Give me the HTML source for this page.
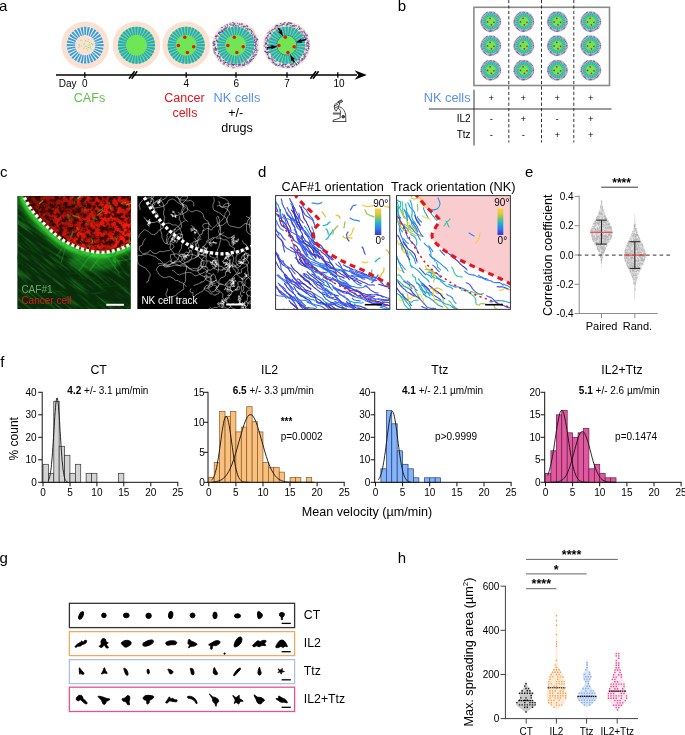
<!DOCTYPE html>
<html><head><meta charset="utf-8"><title>Figure</title>
<style>
html,body{margin:0;padding:0;background:#fff;overflow:hidden}
svg{display:block}
text{font-family:"Liberation Sans",sans-serif}
</style></head><body>
<svg width="685" height="735" viewBox="0 0 685 735" style="will-change:transform">
<rect width="685" height="735" fill="#fff"/>
<defs>
<filter id="bl1" x="-20%" y="-20%" width="140%" height="140%"><feGaussianBlur stdDeviation="0.6"/></filter>

<filter id="bl07" x="-5%" y="-5%" width="110%" height="110%"><feGaussianBlur stdDeviation="0.6"/></filter>
<filter id="bl15" x="-20%" y="-20%" width="140%" height="140%"><feGaussianBlur stdDeviation="1.4"/></filter>
<filter id="bl2" x="-20%" y="-20%" width="140%" height="140%"><feGaussianBlur stdDeviation="2.2"/></filter>
<filter id="bl4" x="-20%" y="-20%" width="140%" height="140%"><feGaussianBlur stdDeviation="5"/></filter>
<filter id="rnoise" x="0" y="0" width="100%" height="100%" color-interpolation-filters="sRGB">
<feTurbulence type="fractalNoise" baseFrequency="0.22" numOctaves="3" seed="7"/>
<feColorMatrix type="matrix" values="0 0 0 0 1  0 0 0 0 1  0 0 0 0 1  4.2 0 0 0 -1.5"/>
<feComposite in="SourceGraphic" operator="in"/>
</filter>
<filter id="gstreak" x="0" y="0" width="100%" height="100%" color-interpolation-filters="sRGB">
<feTurbulence type="fractalNoise" baseFrequency="0.035 0.4" numOctaves="2" seed="3"/>
<feColorMatrix type="matrix" values="0 0 0 0 1  0 0 0 0 1  0 0 0 0 1  0 3.0 0 0 -1.45"/>
<feComposite in="SourceGraphic" operator="in"/>
</filter>
<filter id="rnoise2" x="0" y="0" width="100%" height="100%" color-interpolation-filters="sRGB">
<feTurbulence type="fractalNoise" baseFrequency="0.06" numOctaves="2" seed="11"/>
<feColorMatrix type="matrix" values="0 0 0 0 1  0 0 0 0 1  0 0 0 0 1  0 3 0 0 -1.15"/>
<feComposite in="SourceGraphic" operator="in"/>
</filter>
<linearGradient id="rdark" x1="0" y1="0" x2="1" y2="0.25"><stop offset="0" stop-color="#1a0602" stop-opacity="0.55"/><stop offset="0.45" stop-color="#1a0602" stop-opacity="0.2"/><stop offset="0.8" stop-color="#1a0602" stop-opacity="0"/></linearGradient>
</defs>
<g id="panel_a">
<text x="-1.1" y="11.1" font-size="15">a</text>
<circle cx="85.2" cy="45.2" r="23.8" fill="#fae1d2"/><path d="M95.28 44.59L103.57 44.09L103.57 46.31L95.28 45.81ZM95.21 46.57L103.43 47.7L103 49.87L94.97 47.76ZM94.75 48.5L102.59 51.21L101.74 53.25L94.28 49.62ZM93.92 50.3L101.09 54.48L99.86 56.32L93.24 51.31ZM92.76 51.9L98.97 57.4L97.4 58.97L91.9 52.76ZM91.31 53.24L96.32 59.86L94.48 61.09L90.3 53.92ZM89.62 54.28L93.25 61.74L91.21 62.59L88.5 54.75ZM87.76 54.97L89.87 63L87.7 63.43L86.57 55.21ZM85.81 55.28L86.31 63.57L84.09 63.57L84.59 55.28ZM83.83 55.21L82.7 63.43L80.53 63L82.64 54.97ZM81.9 54.75L79.19 62.59L77.15 61.74L80.78 54.28ZM80.1 53.92L75.92 61.09L74.08 59.86L79.09 53.24ZM78.5 52.76L73 58.97L71.43 57.4L77.64 51.9ZM77.16 51.31L70.54 56.32L69.31 54.48L76.48 50.3ZM76.12 49.62L68.66 53.25L67.81 51.21L75.65 48.5ZM75.43 47.76L67.4 49.87L66.97 47.7L75.19 46.57ZM75.12 45.81L66.83 46.31L66.83 44.09L75.12 44.59ZM75.19 43.83L66.97 42.7L67.4 40.53L75.43 42.64ZM75.65 41.9L67.81 39.19L68.66 37.15L76.12 40.78ZM76.48 40.1L69.31 35.92L70.54 34.08L77.16 39.09ZM77.64 38.5L71.43 33L73 31.43L78.5 37.64ZM79.09 37.16L74.08 30.54L75.92 29.31L80.1 36.48ZM80.78 36.12L77.15 28.66L79.19 27.81L81.9 35.65ZM82.64 35.43L80.53 27.4L82.7 26.97L83.83 35.19ZM84.59 35.12L84.09 26.83L86.31 26.83L85.81 35.12ZM86.57 35.19L87.7 26.97L89.87 27.4L87.76 35.43ZM88.5 35.65L91.21 27.81L93.25 28.66L89.62 36.12ZM90.3 36.48L94.48 29.31L96.32 30.54L91.31 37.16ZM91.9 37.64L97.4 31.43L98.97 33L92.76 38.5ZM93.24 39.09L99.86 34.08L101.09 35.92L93.92 40.1ZM94.28 40.78L101.74 37.15L102.59 39.19L94.75 41.9ZM94.97 42.64L103 40.53L103.43 42.7L95.21 43.83Z" fill="#2e9fe3"/><path d="M79.77 46.88h0M89.81 42.82h0M79.38 44.91h0M87.37 50.19h0M80.56 40.27h0M88.68 47.53h0M90.96 48.89h0M84.66 43.74h0M92.62 44.37h0M81.82 40.29h0M85.71 45.98h0M83.37 44.87h0M86.57 48.68h0M90.28 46.17h0M78.71 47.75h0M79.16 44.47h0M79.01 45.21h0M81.33 46.26h0M92.78 45.09h0M88.63 39.81h0M83.75 48.54h0M84.71 47.15h0M85.69 40.42h0M87.89 41.32h0M91.95 43.38h0M88.68 45.21h0M89.6 42.42h0M89.95 44.61h0M90.61 47.87h0M85.9 41.32h0M88.94 47.48h0M91.65 43.72h0M87.98 47.75h0M86.7 46.3h0" stroke="#7ddc5a" stroke-width="0.8" stroke-linecap="round" fill="none"/>
<circle cx="136.5" cy="45.2" r="23.8" fill="#fae1d2"/><circle cx="136.5" cy="45.2" r="18.5" fill="#6fe653"/><path d="M146.78 44.58L155.07 44.08L155.07 46.32L146.78 45.82ZM146.7 46.6L154.93 47.72L154.49 49.92L146.46 47.81ZM146.24 48.56L154.08 51.27L153.22 53.34L145.76 49.71ZM145.39 50.4L152.56 54.58L151.32 56.45L144.7 51.43ZM144.21 52.03L150.42 57.54L148.84 59.12L143.33 52.91ZM142.73 53.4L147.75 60.02L145.88 61.26L141.7 54.09ZM141.01 54.46L144.64 61.92L142.57 62.78L139.86 54.94ZM139.11 55.16L141.22 63.19L139.02 63.63L137.9 55.4ZM137.12 55.48L137.62 63.77L135.38 63.77L135.88 55.48ZM135.1 55.4L133.98 63.63L131.78 63.19L133.89 55.16ZM133.14 54.94L130.43 62.78L128.36 61.92L131.99 54.46ZM131.3 54.09L127.12 61.26L125.25 60.02L130.27 53.4ZM129.67 52.91L124.16 59.12L122.58 57.54L128.79 52.03ZM128.3 51.43L121.68 56.45L120.44 54.58L127.61 50.4ZM127.24 49.71L119.78 53.34L118.92 51.27L126.76 48.56ZM126.54 47.81L118.51 49.92L118.07 47.72L126.3 46.6ZM126.22 45.82L117.93 46.32L117.93 44.08L126.22 44.58ZM126.3 43.8L118.07 42.68L118.51 40.48L126.54 42.59ZM126.76 41.84L118.92 39.13L119.78 37.06L127.24 40.69ZM127.61 40L120.44 35.82L121.68 33.95L128.3 38.97ZM128.79 38.37L122.58 32.86L124.16 31.28L129.67 37.49ZM130.27 37L125.25 30.38L127.12 29.14L131.3 36.31ZM131.99 35.94L128.36 28.48L130.43 27.62L133.14 35.46ZM133.89 35.24L131.78 27.21L133.98 26.77L135.1 35ZM135.88 34.92L135.38 26.63L137.62 26.63L137.12 34.92ZM137.9 35L139.02 26.77L141.22 27.21L139.11 35.24ZM139.86 35.46L142.57 27.62L144.64 28.48L141.01 35.94ZM141.7 36.31L145.88 29.14L147.75 30.38L142.73 37ZM143.33 37.49L148.84 31.28L150.42 32.86L144.21 38.37ZM144.7 38.97L151.32 33.95L152.56 35.82L145.39 40ZM145.76 40.69L153.22 37.06L154.08 39.13L146.24 41.84ZM146.46 42.59L154.49 40.48L154.93 42.68L146.7 43.8Z" fill="#2e9fe3"/><circle cx="136.5" cy="45.2" r="10.3" fill="#6fe653"/>
<circle cx="186.2" cy="45.2" r="23.8" fill="#fae1d2"/><circle cx="186.2" cy="45.2" r="18.5" fill="#6fe653"/><path d="M196.48 44.58L204.77 44.08L204.77 46.32L196.48 45.82ZM196.4 46.6L204.63 47.72L204.19 49.92L196.16 47.81ZM195.94 48.56L203.78 51.27L202.92 53.34L195.46 49.71ZM195.09 50.4L202.26 54.58L201.02 56.45L194.4 51.43ZM193.91 52.03L200.12 57.54L198.54 59.12L193.03 52.91ZM192.43 53.4L197.45 60.02L195.58 61.26L191.4 54.09ZM190.71 54.46L194.34 61.92L192.27 62.78L189.56 54.94ZM188.81 55.16L190.92 63.19L188.72 63.63L187.6 55.4ZM186.82 55.48L187.32 63.77L185.08 63.77L185.58 55.48ZM184.8 55.4L183.68 63.63L181.48 63.19L183.59 55.16ZM182.84 54.94L180.13 62.78L178.06 61.92L181.69 54.46ZM181 54.09L176.82 61.26L174.95 60.02L179.97 53.4ZM179.37 52.91L173.86 59.12L172.28 57.54L178.49 52.03ZM178 51.43L171.38 56.45L170.14 54.58L177.31 50.4ZM176.94 49.71L169.48 53.34L168.62 51.27L176.46 48.56ZM176.24 47.81L168.21 49.92L167.77 47.72L176 46.6ZM175.92 45.82L167.63 46.32L167.63 44.08L175.92 44.58ZM176 43.8L167.77 42.68L168.21 40.48L176.24 42.59ZM176.46 41.84L168.62 39.13L169.48 37.06L176.94 40.69ZM177.31 40L170.14 35.82L171.38 33.95L178 38.97ZM178.49 38.37L172.28 32.86L173.86 31.28L179.37 37.49ZM179.97 37L174.95 30.38L176.82 29.14L181 36.31ZM181.69 35.94L178.06 28.48L180.13 27.62L182.84 35.46ZM183.59 35.24L181.48 27.21L183.68 26.77L184.8 35ZM185.58 34.92L185.08 26.63L187.32 26.63L186.82 34.92ZM187.6 35L188.72 26.77L190.92 27.21L188.81 35.24ZM189.56 35.46L192.27 27.62L194.34 28.48L190.71 35.94ZM191.4 36.31L195.58 29.14L197.45 30.38L192.43 37ZM193.03 37.49L198.54 31.28L200.12 32.86L193.91 38.37ZM194.4 38.97L201.02 33.95L202.26 35.82L195.09 40ZM195.46 40.69L202.92 37.06L203.78 39.13L195.94 41.84ZM196.16 42.59L204.19 40.48L204.63 42.68L196.4 43.8Z" fill="#2e9fe3"/><circle cx="186.2" cy="45.2" r="10.3" fill="#6fe653"/><circle cx="184.8" cy="37.3" r="1.75" fill="#e8141c"/><circle cx="178.4" cy="45.5" r="1.75" fill="#e8141c"/><circle cx="193.7" cy="46.7" r="1.75" fill="#e8141c"/><circle cx="187.4" cy="52.4" r="1.75" fill="#e8141c"/>
<circle cx="235.7" cy="45.2" r="23.8" fill="#fae1d2"/><circle cx="235.7" cy="45.2" r="18.5" fill="#6fe653"/><path d="M245.98 44.58L254.27 44.08L254.27 46.32L245.98 45.82ZM245.9 46.6L254.13 47.72L253.69 49.92L245.66 47.81ZM245.44 48.56L253.28 51.27L252.42 53.34L244.96 49.71ZM244.59 50.4L251.76 54.58L250.52 56.45L243.9 51.43ZM243.41 52.03L249.62 57.54L248.04 59.12L242.53 52.91ZM241.93 53.4L246.95 60.02L245.08 61.26L240.9 54.09ZM240.21 54.46L243.84 61.92L241.77 62.78L239.06 54.94ZM238.31 55.16L240.42 63.19L238.22 63.63L237.1 55.4ZM236.32 55.48L236.82 63.77L234.58 63.77L235.08 55.48ZM234.3 55.4L233.18 63.63L230.98 63.19L233.09 55.16ZM232.34 54.94L229.63 62.78L227.56 61.92L231.19 54.46ZM230.5 54.09L226.32 61.26L224.45 60.02L229.47 53.4ZM228.87 52.91L223.36 59.12L221.78 57.54L227.99 52.03ZM227.5 51.43L220.88 56.45L219.64 54.58L226.81 50.4ZM226.44 49.71L218.98 53.34L218.12 51.27L225.96 48.56ZM225.74 47.81L217.71 49.92L217.27 47.72L225.5 46.6ZM225.42 45.82L217.13 46.32L217.13 44.08L225.42 44.58ZM225.5 43.8L217.27 42.68L217.71 40.48L225.74 42.59ZM225.96 41.84L218.12 39.13L218.98 37.06L226.44 40.69ZM226.81 40L219.64 35.82L220.88 33.95L227.5 38.97ZM227.99 38.37L221.78 32.86L223.36 31.28L228.87 37.49ZM229.47 37L224.45 30.38L226.32 29.14L230.5 36.31ZM231.19 35.94L227.56 28.48L229.63 27.62L232.34 35.46ZM233.09 35.24L230.98 27.21L233.18 26.77L234.3 35ZM235.08 34.92L234.58 26.63L236.82 26.63L236.32 34.92ZM237.1 35L238.22 26.77L240.42 27.21L238.31 35.24ZM239.06 35.46L241.77 27.62L243.84 28.48L240.21 35.94ZM240.9 36.31L245.08 29.14L246.95 30.38L241.93 37ZM242.53 37.49L248.04 31.28L249.62 32.86L243.41 38.37ZM243.9 38.97L250.52 33.95L251.76 35.82L244.59 40ZM244.96 40.69L252.42 37.06L253.28 39.13L245.44 41.84ZM245.66 42.59L253.69 40.48L254.13 42.68L245.9 43.8Z" fill="#2e9fe3"/><circle cx="235.7" cy="45.2" r="10.3" fill="#6fe653"/><path d="M255.1 45.4Q255.7 45.9 254.5 45.4Q254.3 46.3 254.6 45.5Q255.8 45.5 255.2 45.1Q255.2 45.4 256.3 44M256.8 46Q256.9 46.2 257.9 45.4Q256.9 44.5 257.5 45M255.4 46.7Q254.5 47 255.1 47Q255.2 46.8 255.8 46.2Q255.8 46.3 255.4 45.6Q255.1 46.1 254.6 45.9M256.3 47.4Q255.4 47.8 256.1 46.6Q255.4 47.4 255.6 47M255.4 48.2Q255.2 48.7 256.4 49.2Q255.8 48.9 256.7 49.5M257.1 49.5Q256.1 48.8 256.6 49.4Q255.8 49.2 256.3 49.5M257.9 50.5Q258.6 50.6 257.6 50.4Q257.1 50.1 257 50.5Q255.8 49.8 256 50.7Q255 50.2 255.6 49.9M254 50Q255.1 49.3 254.5 49.1Q254 49.8 255 49.2Q255.5 47.8 256 48.1Q255.3 47.2 256.4 47.9M254.1 50.6Q254.3 51.2 255 51.1Q255.7 50.3 255.1 50.9Q255.6 50.4 255.7 49.9M256.2 52.1Q256.5 53 256.8 52.5Q256.9 52.1 256.5 51.7Q257.6 51.5 257.1 51.3M254.8 52.4Q255 53.1 254.1 52.3Q254.7 51.8 255 52Q255.2 52.6 254.2 52M256.5 54.3Q256.2 55.3 256.1 54.8Q255.9 55.2 255.6 55Q255.7 54.4 255.3 54.5M253.6 53.9Q253.2 53.8 252.6 54.4Q252.2 53.7 253.2 53.3Q253 52.4 253.8 52.9Q253.2 53.2 252.8 53.1M255.2 55.5Q255.4 54.6 255.6 54.8Q255.5 54.2 254.6 54.8M253.3 55.1Q254.7 54.4 254.3 55.1Q254.2 55.1 255 55.5Q255.4 54.8 255.9 55.2Q256.4 55 256.7 54.2M254.5 56.9Q254 57.4 254.4 57.2Q254.6 56.6 254 57Q254.6 56.8 253.5 56.4M252.2 56.5Q251.9 56.2 253 56.2Q253.1 55.6 253.1 56.8Q254 55.7 253.8 55.8Q253 55.5 253.5 56.4M253.3 58Q253.5 59.3 253.7 59Q253.3 58.3 252.8 58.4Q253.1 59.1 253.3 58.7Q253.1 59.1 253.4 58.2M251 57.5Q251.6 57 252 57.5Q252.2 56.7 252.1 57.5M251.4 58.9Q250.8 58.7 251.5 60Q251.1 61.2 250.8 60.9Q250.7 60.8 251.5 60.7M252.4 60.3Q252.3 59 252.4 59.4Q253 58.8 251.9 59.9Q251.1 59.7 251.2 58.8M250.6 59.7Q250.9 58.8 251.2 58.8Q250.7 58.6 250.5 58.9Q249.8 58.4 250.3 59M250.3 60.8Q250.2 60.2 249.7 60.9Q249.9 60.5 250.6 61.2Q250.2 62.1 250.8 62Q251.2 60.9 250.2 61.1M249.3 60.3Q250.2 59.6 250 60.1Q249.1 59.8 249.8 60.5Q250.9 60.3 250.2 61.4M249.5 62.2Q249.7 61.9 248.9 61.7Q248.5 62.7 247.8 62.3Q247.1 61.4 247.8 61.6Q247.7 61.5 247 61.1M248.9 62.3Q249.1 62.1 249.5 61.9Q248.5 62.4 249.3 62.1M246.7 61.3Q247.3 61.3 246.4 61Q245.6 60.6 245.5 61.6Q246.6 62.8 246.2 62.4M246.2 61.6Q246.3 62.7 247.3 62.3Q248.1 62.4 247.8 62.9Q248.6 63.8 248.7 63.7Q249.4 62.9 249.3 63.5M246.3 62.9Q247.5 62.7 247.2 64Q246.6 64 246.7 65M245.1 62.3Q245.2 63.2 244.8 63.4Q244.2 64.1 245.4 64.4M244.4 63Q244.7 62.4 244.4 63.5Q243.8 63.4 243.9 63Q244.4 62.3 243.7 63.1M244.6 64.7Q243.8 65.7 244.8 65.3Q243.8 65.2 244 65.2Q244.9 64.6 244.3 64.2Q244.1 63.9 244.3 64.4M243.6 64.7Q242.9 65.5 243.9 65.3Q243.9 65.7 244.1 65.6Q243.5 65.5 243.1 65.2M242.5 64.1Q243.2 63.6 242.3 64Q242.7 64.4 242.4 65M242.2 66.3Q242.3 65.2 242.7 65.4Q242.5 64.9 243.5 65Q243.3 65.2 242.7 64.9Q243.3 65.3 243.1 64.6M241.4 64.3Q241.8 64.4 240.8 63.4Q240.5 63.6 241.1 63.1M240.7 65.8Q241.3 65.5 240.2 65.2Q240.7 65.1 240.6 64.5Q239.2 63.4 239.5 64Q240.1 64.9 239.8 64.3M239.9 64.4Q239.6 64.3 239.8 64.1Q240 64.4 239 64.9Q239.9 65.2 239.7 65.7M238.9 65.3Q239.7 65.1 238.6 65.6Q239.4 65.8 238.7 66.2M238.2 64.1Q238.6 64.4 238.8 64.7Q239.5 63.7 239.2 64.2Q238.1 64.1 238.6 64.6M237.6 66.7Q238.3 66.1 238.4 66.1Q238.7 66.1 239.3 65.7Q239.3 66 240.2 66.1M236.5 65.8Q237.1 65.8 236.3 66.8Q235.9 66.4 236 66.5M236.1 64.7Q235.4 64.8 235.8 64.5Q236 65.4 236.3 65Q235.8 64.1 236.9 64.4Q237.7 64.6 237.2 65M235.3 65.2Q235.3 65.4 234.4 64.3Q233.3 64.8 233.5 64.6Q233.1 64.8 233.8 64Q233.6 64 233.8 64.6M234.2 66.7Q233.4 67.2 234.2 67.3Q234.6 67.4 233.2 67.9Q231.9 67.7 232.1 67.6M233.9 63.9Q234 64.1 234.4 64.6Q234.9 64.6 233.6 65.1Q233.1 64.4 232.9 64.5M233 64Q232.2 64.8 232.7 64.2Q232.3 64.5 233.6 64.8Q233.4 64.3 234.3 64.4M232.1 66.1Q231.7 65.4 232.3 65.5Q231.6 65.9 231.6 66.1Q231.5 66.8 232.3 66M231.4 64.9Q232.3 64.2 232 64Q232.7 65.1 232.4 64.5Q233.2 64 233 65.1Q234.2 66.2 233.9 65.9M231 64.4Q230.5 63.7 231.3 63.6Q231 64.3 230.7 64.4Q231.3 63.5 231.8 63.9M230.4 63.2Q229.8 63.8 230 63.7Q229.5 64.5 229.1 63.7M228.8 66.4Q227.7 66.4 227.7 65.7Q227.2 65.5 228.3 65.6Q229.1 65.7 228.3 66.6M228.5 65Q227.9 63.9 228.9 64Q229.5 64.7 229.3 64.4Q229.5 64.7 228.4 64.3M228.2 63.7Q229 63.7 228.1 62.6Q227.4 62.5 227.4 62.8M227.5 63.4Q227 62.9 228 63.5Q227.5 62.7 227.7 62.6Q227.6 62.6 227.7 62.9M226.4 64.4Q226 64.4 226.8 64.8Q226.4 64.5 227.6 65M226.7 62.2Q227.1 63 226.3 62.4Q225.3 62.4 225.5 61.7Q225.7 62.6 225.5 62.7M225.4 62.4Q224.7 62.2 225.8 62.6Q224.9 62.6 225.4 63M223.8 63.7Q224.4 64 224 62.9Q224.1 62.1 224.1 62.6M222.5 63.8Q223.8 64.2 223.6 64.3Q224.4 63.5 224.2 64.1Q223.9 63.3 224.2 63.9Q225.3 63.6 225 63.4M223.7 60.8Q223.9 60.5 223.8 61Q224.8 61.7 224.7 62.1Q223.9 63.1 223.9 62.8Q224.2 62.3 223.3 62.9M223.7 59.9Q224.3 61.1 223.5 60.5Q223.7 61.6 222.7 61.1M221.5 61.2Q220.3 61.2 220.8 61Q220.1 60.3 219.9 60.8M220.3 61.7Q220.7 60.6 220.6 60.7Q221 60.7 221.6 60.9M220.2 60.3Q221.4 60.9 220.8 60.2Q221.1 60.3 221.6 60Q222.1 59.9 222.5 60.1M220.7 58.5Q220.4 58.4 220.3 58.8Q220.8 59.8 219.9 59.4M218.8 59.7Q218 59.9 218.8 59.5Q218.5 59 218.9 58.9M220.9 57Q221.2 56.8 220.2 56.8Q220.5 57.1 219.8 57.2Q220.1 56.8 219.3 57.7Q218.4 57.8 219.4 58.7M219.5 57.1Q219.5 56.4 219.4 57Q219.3 56.6 219.8 56.4M219.1 56.5Q219.5 56.5 220.1 57.5Q220.6 57.4 219.6 58.5M218.4 55.7Q218.3 55.9 217.4 56Q218.2 56.5 217.4 55.4Q218.2 56 217.8 54.9M218 55.4Q218.3 55.8 217.6 56.4Q216.6 57.2 216.9 57.2M216.5 55.4Q216.5 56 216.9 56Q216.8 55.8 217.7 56.2Q217.8 56.6 218.7 56.6Q218.1 57.2 217.7 57.6M218.6 53.3Q218.6 53.5 218.8 53.4Q217.9 53.3 218.1 54.4Q218.9 53.3 218.6 53.4Q219.1 53.5 218.1 53.2M215.2 54.4Q215.7 54.1 215.6 54.3Q215.8 54.6 216 54.9M215.5 52.8Q215.9 53.3 216 52.9Q215.9 52.9 215.2 52.7Q215.3 52.5 214.7 53.2Q214.9 53.1 214.7 54M214.2 52.8Q213.6 52 214.1 52.3Q214.3 52.2 214.8 52.3M214.6 51.8Q214.5 51.6 213.8 51.1Q213.2 51.1 214.3 51.3M214.3 50.7Q214.4 49.7 214.3 50.2Q214.2 49.2 215 49.5Q215.7 49.1 215.4 50.2Q214.8 50.9 215.2 49.9M215.5 50Q216 50.1 216.6 49.3Q216.8 48.3 215.6 48.7Q215.3 47.7 215.3 48.2Q215.3 49.2 214.3 49.3M216.3 49Q215.9 48.4 217.1 48.8Q217.6 48.8 216.7 49.8Q217.2 50.3 215.9 50Q216.7 51.2 216.1 50.9M213.7 48.7Q213 48.7 213.4 49.3Q213 48.7 213.8 49.3M215.2 47.7Q215.4 47.1 215.1 47.6Q215 46.9 215.1 47.7Q215.1 48.3 214.6 48.7M214.9 46.6Q214.9 46.6 215.8 47.1Q215.2 48 215.1 48Q214.4 48.2 215.6 48.9Q216.1 48.1 215.3 48M214.8 45.8Q214.6 45.4 214.4 46Q213.9 45.5 214.4 45.2M214.1 45.2Q214.7 45.2 214.5 44.7Q213.8 44.7 213.8 44Q214.3 43.4 213.6 43.8Q212.8 42.8 213.1 43.4M214.4 44.7Q214.3 45.3 213.3 45.3Q213.7 44.8 213.9 44.8Q213.2 45.6 213 45.4Q212.5 45.2 213.3 45M213.2 43.5Q212.5 43.1 213.1 43.1Q213.4 42.2 213.1 42.3Q213.2 41.8 213.6 42.5M214.2 42.8Q214.7 42.5 213.8 43.7Q213.8 43.9 214.7 44.6Q215.4 45 215.4 44.1Q214.6 43.4 214.5 43.1M213.8 42.1Q213.7 42.7 214.1 41.8Q213.1 41.3 213.1 42.3M215 41.6Q215.5 42.1 214.8 41.1Q213.9 40.9 214.6 42Q214.3 42.7 214.6 41.6Q213.7 41.6 213.8 40.9M217.4 41.2Q217.2 42.2 216.8 41.9Q217.7 42.1 217.4 41Q216.8 40.1 217.1 40.6Q216.1 40.7 216.1 41.2M216.8 40.4Q216.4 40.6 216 40.7Q216.3 40.5 215.8 40.2M216.8 39.6Q217.4 40.7 217.2 40.5Q217.6 40 216.6 40.1Q217.3 39.3 217.3 40.1M216.4 38.5Q215.9 38.7 215.4 37.9Q214.9 38.5 215.2 38.4Q215.5 38.8 214.8 38M216.1 37.4Q216.7 36.6 216.4 36.6Q216.3 35.9 215.7 35.9Q215.8 36.8 216 37M215 36.1Q215.5 35.8 215.4 35.9Q215.1 36.8 216.4 37Q215.6 36.9 215.6 36M218.5 36.7Q218.8 35.9 217.9 36.3Q218.1 36.5 217 36.1Q216.5 35.7 216.4 36.6M216.6 35.2Q216 34.9 216.7 35.9Q215.8 36.3 215.9 36.8M218.2 35.5Q217.5 35.4 217.7 35.6Q216.9 35.3 217.3 34.7M219.3 35Q219 34.2 220.1 34.6Q219.6 34.9 220.2 33.9M218.7 33.8Q218.7 33.6 218.5 32.8Q219.4 33.3 218.8 32.3Q219.9 32.7 219.9 32.2Q218.9 31 219.1 31.2M219.2 33.5Q218.1 33 218.8 33.6Q219.3 33.6 219.8 32.5Q219.9 33.3 220.4 33Q221.1 32.1 220 32.6M219.8 32.4Q219.9 32 219.6 33.3Q219.6 33.1 218.8 32.9Q218.8 33.3 218.3 34Q218.4 33.7 217.9 33M220.7 32.6Q220.4 33.2 220 33.2Q219 32.5 219.3 32.3M221.8 32.6Q222.1 32.8 220.8 31.7Q220.5 30.4 221.4 30.7Q221.2 30.7 221.6 30.8Q222.6 31.5 222.6 30.8M222.3 31.8Q221.4 31.6 221.7 32Q222.5 31.4 222.8 31.2Q223.1 31.6 223.1 30.6M221.2 29.5Q221 30.4 222.2 30.5Q222.4 31 222.8 30.3Q222.8 29.4 222.8 30.1Q223.1 29.7 223.7 30.1M223 31.1Q223.5 31.5 222.3 31.1Q222.9 31.2 221.8 31.6Q223.1 31.2 222.6 30.8M221.5 28.1Q221.1 27 222.2 27.3Q221.8 26.6 222.5 27.6Q222 27.1 222.1 27.6Q222.4 28.5 222.8 27.7M224 30Q223.9 30.5 224.7 30Q224.5 30.5 224.2 29.6Q224.3 28.5 224.9 28.9M223.9 28.8Q223.7 28.2 224.7 28Q225.8 27.4 225.4 28.3M225.3 28.6Q226 29.2 224.9 29.6Q225.2 30.1 224.3 29.8Q224.3 29 223.8 29.2Q222.9 29.6 223.2 29.8M225.3 28.3Q225.6 27.8 226.3 28.5Q226.4 28.1 225.6 28.2Q224.8 28.4 225.2 28M225.1 25.8Q224.5 25.3 225.4 26.3Q225.4 25.5 225.4 26.1Q225.8 25.7 224.6 26.9M227 27.6Q227.1 27.7 226.8 28.1Q225.9 27.9 225.8 27.9Q226.7 28 226.8 27.5M227.1 26.7Q227 26.7 227.3 27.5Q227.4 27.2 226.5 28.3M228 26.1Q227.3 26.3 227.1 25.8Q228 26.4 227.5 25.4M228.1 25.3Q227.6 24.9 227.1 24.5Q226.5 24 226.9 25.1Q226.8 25.1 227.6 25M229.6 27.3Q230.3 27.1 229.4 26.9Q230.1 26.9 229.6 26.9Q228.3 28 228.7 27.5M229.8 24Q229.9 25.2 230.2 25Q229.9 24.4 230 24.3Q229.7 24.5 230.7 25.1M230.3 23.1Q229.4 23.2 229.9 23.1Q230.1 23 230.4 23.6M231.9 25.8Q232.1 24.9 231.9 25.2Q232.2 25.4 231 24.4Q231.2 23.4 231.1 23.6M232 22.8Q231.6 22 233 22.6Q233.8 22.2 233.7 23.1Q233 23 233.7 23.7Q234.8 23 234.7 24M233.2 26.3Q233 26.9 233.1 26.1Q233.5 25.2 233.5 25.5Q233.3 26.2 234.6 26.4M233.6 24.1Q233.4 23.8 233.3 23.9Q232.4 24.5 233.2 23.8M234.3 24.3Q234.4 25.1 233.9 25Q234.2 24.9 232.9 24.7Q232.7 25.1 232.9 25.2Q232.2 25 232 25.6M235.6 23.6Q234.5 23.3 235 24.2Q234.3 25.1 234.1 24.7Q234.4 25.6 233.5 24.9M236.2 24.9Q235.2 26 235.7 25.3Q235.7 25.7 236.4 25M237.1 23.8Q237.4 23.1 238.2 23.8Q238.2 23.9 237.4 23.5M237.6 25.7Q236.9 26.3 236.5 26.2Q235.4 26.5 235.9 25.7Q235.6 25.9 235.8 26.2Q235.4 26.2 235.6 25.4M237.9 26.1Q237.4 25.5 238.3 26.2Q238.5 26.7 238.6 25.7Q238.3 26.2 237.9 25.5M239.2 23.1Q239.8 23 239 24Q239.1 24.5 239.4 24Q239.5 24.6 239.4 23.9M239.9 25.6Q239.5 25.4 239.6 24.8Q239.7 25.3 239.6 24.6M240.6 24.6Q240.1 24.5 241.1 24.4Q241.1 23.4 241.4 24.1Q241.4 23.9 242.3 24.7M241.7 23.5Q242.5 23.9 241.8 24.5Q242.2 23.5 241.8 23.9M242.5 24Q241.5 24.1 241.8 24.2Q242.6 23.9 241.8 24.1M242.4 26.6Q242.1 26.5 241.8 26Q241.5 27 240.9 26.5M244.1 25.3Q244.2 25.8 243.3 25.9Q242.9 26.2 244 27Q243.9 27.1 243.3 27.9M243.9 27.2Q243.2 27 243.4 26.7Q244.5 27 244.2 26M245.1 26.4Q245.1 26.9 244.4 27Q244.4 27.3 244.7 26.6Q244.8 27 245 26.7Q245.1 25.9 244.7 26M246.6 25.6Q247.1 26.1 246 26.1Q244.8 26.7 245 27M247.1 25.4Q248.1 26 247.3 25.9Q246.3 26.5 246.6 25.7Q247.8 26.3 247.6 26.7M247.3 27.1Q247.4 26.4 247.4 26.7Q247.6 25.9 247.9 26.6M247.7 27.9Q246.9 27.9 246.8 28.8Q246.7 29.1 246.3 28.1Q246.5 28.2 245.6 27.9Q246 29.2 246.2 29M247.3 29.6Q246.8 29 247.8 29.1Q247.4 29 247.3 30.2Q248.2 30.6 247.7 30Q247.7 30.4 248.1 29.1M248.4 29.3Q248.1 28.3 248.2 28.9Q248.7 28.7 248.8 28.4M249.8 29Q249.8 28.9 250.2 29.9Q249.3 30.6 249.5 29.8Q249.4 30.2 248.8 30.2M250.2 29.9Q249.5 29.3 249.5 29.3Q250.3 29.6 250 29.7M251.1 29.7Q251.2 28.5 251 28.7Q250.1 29.5 250.8 29.2M251 31.6Q251.9 31.2 251.6 31.3Q251.8 31.3 251.2 31.5Q251.5 30.7 251.9 30.4Q250.8 30.3 250.9 31.3M253.2 30.7Q252.4 31.6 252.9 31.7Q251.9 32.2 252.3 32.1Q253.5 32.2 253.1 32.6M250.8 33.3Q251.9 33.4 251.2 32.8Q251.1 32.5 251.6 32Q251.9 31.9 251.1 32M251.8 33.7Q250.6 33.1 250.9 33.1Q251.2 33 251.5 34M253.1 33.4Q253.3 33.5 253.1 34.2Q252.8 33.6 254.2 34.2Q254.1 34.5 254.1 34.6M252.6 34.8Q251.7 34.1 251.9 35.3Q252.1 35.4 252.3 34.9M252.6 35.6Q252.5 35.9 253 34.9Q252.7 35.6 253.2 35.3M252.7 36.1Q252.9 35.9 252.9 35.9Q252.2 37.2 252.5 36.8Q252.3 37.3 253.3 37.7Q253.3 37.8 254.4 37.2M254.7 36Q255.2 36 255.2 35.6Q253.9 36 254.1 35.6M255.5 36.9Q254.5 37 254.4 36.9Q253.8 36.8 254.7 36.8Q255.5 36.6 254.6 37.1Q255.1 36.2 254.5 36.2M256.3 37.4Q255.3 37.3 255.7 37.7Q255.8 36.6 254.7 36.8Q254.5 37.7 254.3 37.2M256.1 38.2Q257.2 39.1 256.8 39.3Q257.7 40.1 257.5 39.8Q256.8 39.6 256.8 40.4M253.7 39.9Q254.2 40.2 254.1 39.9Q254.8 40.4 254.2 39.3Q253.5 38.8 253.5 38.8Q254.1 38.3 253.8 38.6M256.4 39.8Q257.4 39.8 256.9 38.9Q257.4 40.1 257.6 39.7Q257.5 39.4 257.9 39.7Q257.9 38.8 256.8 38.9M257.1 40.5Q256.7 40.7 256.4 40.3Q256.3 39.3 255.3 39.8Q254.3 39.4 255 38.8Q255 37.8 255.1 38.4M254.9 41.4Q254.8 40.1 254 40.5Q253.9 41.3 254.5 40.5Q254.2 40.2 254.2 40.4M255.5 42.5Q256.3 42.7 255.5 41.9Q255.9 41.4 256.4 41Q256.9 41.9 256.3 41.3Q256.4 41.6 256.3 42.2M254.6 42.8Q254.3 42.4 255.2 41.8Q255.4 41.8 254.7 42.3M257.1 43.8Q257.4 44.1 256.1 42.8Q256.5 42.6 255.4 42.3Q255.1 42.9 254.3 42.2Q255.4 41.7 255.4 42.2M255.4 44.7Q255.4 43.7 255.2 43.7Q255.1 44.1 255.4 43.5Q255.1 43.2 255.9 43.8Q256.8 45.1 256.4 44.9" fill="none" stroke="#30309c" stroke-width="0.55" opacity="0.95"/><circle cx="234.3" cy="37.3" r="1.75" fill="#e8141c"/><circle cx="227.9" cy="45.5" r="1.75" fill="#e8141c"/><circle cx="243.2" cy="46.7" r="1.75" fill="#e8141c"/><circle cx="236.9" cy="52.4" r="1.75" fill="#e8141c"/>
<circle cx="286.7" cy="45.2" r="23.8" fill="#fae1d2"/><circle cx="286.7" cy="45.2" r="18.5" fill="#6fe653"/><path d="M296.08 44.63L305.27 44.08L305.27 46.32L296.08 45.77ZM296.01 46.48L305.13 47.72L304.69 49.92L295.79 47.59ZM295.59 48.27L304.28 51.27L303.42 53.34L295.15 49.31ZM294.82 49.94L302.76 54.58L301.52 56.45L294.19 50.88ZM293.73 51.43L300.62 57.54L299.04 59.12L292.93 52.23ZM292.38 52.69L297.95 60.02L296.08 61.26L291.44 53.32ZM290.81 53.65L294.84 61.92L292.77 62.78L289.77 54.09ZM289.09 54.29L291.42 63.19L289.22 63.63L287.98 54.51ZM287.27 54.58L287.82 63.77L285.58 63.77L286.13 54.58ZM285.42 54.51L284.18 63.63L281.98 63.19L284.31 54.29ZM283.63 54.09L280.63 62.78L278.56 61.92L282.59 53.65ZM281.96 53.32L277.32 61.26L275.45 60.02L281.02 52.69ZM280.47 52.23L274.36 59.12L272.78 57.54L279.67 51.43ZM279.21 50.88L271.88 56.45L270.64 54.58L278.58 49.94ZM278.25 49.31L269.98 53.34L269.12 51.27L277.81 48.27ZM277.61 47.59L268.71 49.92L268.27 47.72L277.39 46.48ZM277.32 45.77L268.13 46.32L268.13 44.08L277.32 44.63ZM277.39 43.92L268.27 42.68L268.71 40.48L277.61 42.81ZM277.81 42.13L269.12 39.13L269.98 37.06L278.25 41.09ZM278.58 40.46L270.64 35.82L271.88 33.95L279.21 39.52ZM279.67 38.97L272.78 32.86L274.36 31.28L280.47 38.17ZM281.02 37.71L275.45 30.38L277.32 29.14L281.96 37.08ZM282.59 36.75L278.56 28.48L280.63 27.62L283.63 36.31ZM284.31 36.11L281.98 27.21L284.18 26.77L285.42 35.89ZM286.13 35.82L285.58 26.63L287.82 26.63L287.27 35.82ZM287.98 35.89L289.22 26.77L291.42 27.21L289.09 36.11ZM289.77 36.31L292.77 27.62L294.84 28.48L290.81 36.75ZM291.44 37.08L296.08 29.14L297.95 30.38L292.38 37.71ZM292.93 38.17L299.04 31.28L300.62 32.86L293.73 38.97ZM294.19 39.52L301.52 33.95L302.76 35.82L294.82 40.46ZM295.15 41.09L303.42 37.06L304.28 39.13L295.59 42.13ZM295.79 42.81L304.69 40.48L305.13 42.68L296.01 43.92Z" fill="#2e9fe3"/><circle cx="286.7" cy="45.2" r="9.4" fill="#6fe653"/><path d="M306.8 45.3Q306.5 45.5 306.2 46.1Q305.6 47 306 46.9M307.3 46.1Q307.3 45.2 307.6 45.4Q307.3 45.1 306.6 46.3Q306.9 46.7 307.1 46.5M307.5 46.8Q307.4 45.9 308.3 45.9Q309.3 45.9 308.5 46.1Q308.4 45.2 307.9 45.7M308.3 47.7Q308.4 47.6 308.8 46.6Q308 46.5 308.3 46.8Q309.5 45.7 309.3 46.2Q310 46.3 309.5 46.9M308.1 48.5Q308 48.9 308.7 48.6Q309.6 48 308.8 48.7Q309 49.6 308.5 49M307.4 48.9Q308.7 49.3 308.4 48.6Q309.2 49.4 308.4 48.5Q307.8 48 308.8 47.6Q308 47.2 308.9 47.5M305.2 49.3Q305.6 49.8 305.4 49.1Q305 48.9 305.2 48.6M306.4 50.1Q306.5 51 306.2 50.7Q305.4 51.2 306.4 50.1Q306 48.7 306.7 49.1Q306.5 48.8 305.7 49.2M307.1 51.3Q308 50.6 307.6 51Q307.4 51.3 307.5 50.5Q308.5 50.2 307.7 50.8M306.9 52Q307.6 53.2 307.2 52.9Q307 53 306.5 52.2M306.5 52.9Q306.9 52.8 305.9 53.7Q306.1 52.6 305.6 53.1Q306.4 52.7 306 52.1M304.2 52.8Q304.3 53.1 304.4 53.4Q304.2 54.4 304.2 54M305.7 54.3Q305.5 54.4 306 54.7Q305.5 54.5 305.6 54.9M304.4 54.3Q303.8 53.5 303.4 54Q302.9 54.5 303.8 54.4Q304.1 55.1 303.1 54.5M304.5 55.5Q304.3 55.4 304.5 55.3Q304.5 55.9 304.4 55.4Q304 54.7 305.3 54.8Q305 54.7 304.2 55.4M305.8 56.8Q306.1 56.6 305.6 56.5Q306.1 57.5 305.3 56.7Q304.3 56 304.8 56.2Q305.3 55.9 305.8 56.3M303.9 57Q304.6 57.1 304 56.2Q304.1 57.3 304.4 56.7M303.7 57.9Q303.2 57.9 303.9 58Q303.8 58.1 304.8 58.4Q305 58.5 304.9 58.1Q304.6 57.2 303.8 57.4M304.1 58.5Q303.8 59.8 303.4 59.4Q303.6 58.5 302.7 58.7Q302.7 58.9 302 58.3M302.9 59.1Q303.3 58.8 302.1 59.1Q301.3 59.7 301.6 59.8Q300.9 60.4 301.9 60.8Q301.3 61.5 301.6 61.5M302.2 59.1Q302.7 59.1 301.6 58.6Q300.7 57.8 300.7 57.9M302 60.5Q302 61 302.4 60.8Q302.3 60.1 302.3 59.8Q301.5 60.2 302.4 58.8Q301.6 58.8 302.1 58.5M299.9 59.5Q299.6 59.9 298.8 59.8Q297.9 59.9 298.7 59.8Q299 58.9 299.7 59Q299.2 58.8 299.8 59.2M299.8 60.5Q298.6 59.3 299.1 59.8Q298.7 58.8 299.9 59.5M299.9 61.8Q299.5 61.4 300.1 61.2Q300.1 60 300 60.3M299.8 62.9Q299.4 62.8 299 63.1Q299.2 62 299 62Q299.5 61.7 298.6 61M298.8 62.4Q298.7 62 298 62.1Q297.4 62.2 298.4 63Q298.7 63.6 298 63.5Q298.2 63.8 298.9 62.9M297 61.4Q297 62 297.5 62.2Q298.1 63.3 298.5 63.1M297.8 64.5Q297.1 64.5 297.3 64.6Q297.1 64.8 296.4 65.2Q297.3 64.7 296.5 64.6Q296.9 63.9 296 65M296.8 63.4Q296 63.9 296.2 64.2Q295.1 62.7 295.8 63.1Q296.5 63.1 295.4 62.6Q294.5 62.8 294.5 63M296.5 65.2Q296.2 64.7 296.3 64.8Q296.9 64.2 296.9 64.7Q296.1 64.6 296.5 64.1Q296 63 295.7 63.1M295.3 64.5Q294.9 65.4 295 64.8Q294.1 64.6 294.2 65.2Q294.9 64.8 294.1 65.9Q293.5 66.1 294.4 65.9M293.8 63.2Q294 63 293 63.4Q293 64.3 292.2 63.8Q292.9 64.2 292.3 64M293.3 64Q292.5 63.9 293.6 63.9Q293.3 64 293.1 64.1Q292.8 64.1 292.1 63.3M293.2 66.2Q292.6 66 292.3 66.5Q293.5 67 293.3 66.9Q293 66.8 294.1 66M292.9 67.1Q292.1 66.7 292.8 67.2Q292.7 66.9 293.2 67M291.6 66.4Q291.4 65.7 292.5 66.4Q292.1 66.9 293.3 66.9M291 65.3Q290.7 65.4 292.1 64.8Q292.1 65.2 291.9 63.9Q292.5 64.3 291.5 63.7Q291.3 64.1 292.3 64.6M290.2 65.4Q290.1 65.2 291.2 65.2Q290.7 65.5 290.5 64.2Q290.6 65.2 291.5 64.9Q291.2 64.4 291.6 65M289.6 67.4Q289.1 67.1 289.3 67Q289.4 66.6 289.7 67.5Q289.8 67.2 288.8 66.8Q288.7 66.1 289.1 66.5M288.4 66.4Q287.9 67.2 287.5 66.4Q288.3 66.6 288.2 67M288.1 68Q288 67.5 288.8 67.1Q289.2 66.3 288.9 66.6Q287.8 66.6 288.4 67M287.1 68Q287.3 67.1 288 67.5Q288.3 66.9 287.2 67.8M286.5 67.1Q286.4 67.4 285.6 66.1Q286.4 66.3 286.2 67.1M285.6 64.8Q285.4 63.9 286.3 64.4Q286 63.8 285.4 65Q285 64.3 285.3 65.2Q286 64.8 285.1 64.9M284.4 67.4Q284.2 66.7 283.5 67.1Q283.1 67.3 283.9 67.1Q283.3 66.5 283.4 66.7Q282.1 66 282.5 66.6M284.3 64.3Q284.4 64.5 284.4 64.1Q285.1 64.7 284.8 64.2Q284.3 63.8 285.3 64.7Q285.7 64.4 286.4 64.3M283.4 64.8Q283.7 64.3 283 65.6Q283.7 64.3 283.1 64.7Q283 65.3 282.6 65.2Q282 65.2 282.4 65.3M282.5 66.3Q282.7 66.5 282.6 66.5Q282.1 67.3 282.6 67.6M281.7 65.3Q282.7 65.5 282.7 64.6Q282.5 63.7 283.7 63.9Q284.2 64.3 283.1 64.8Q282.2 64.9 282.3 64.5M280.6 66.3Q281.6 66.3 281.6 65.2Q282.2 66.6 281.6 66.2Q281.8 66 282 65.5M280 65.1Q279.9 64 280.3 64.5Q280.5 63.3 279.7 63.6Q279.6 63.2 280.1 63.9M279.7 64.5Q280.2 64.4 279 65.2Q278.2 65.8 278.8 65.2M279.1 64.5Q278.6 65.4 279 65.2Q280.3 66.1 280 65.4M277.5 66.1Q277.9 66.5 278.4 65.5Q277.6 64.9 277.5 65.7M276.9 65Q276 64.6 275.9 64.5Q277 63.9 276.9 64.7M276.4 64.4Q276.9 64 276.3 64.4Q276.8 64.2 275.8 63.9Q274.8 64 275.5 63.8M276.8 61.5Q276 60.6 275.8 61.1Q274.4 61.7 274.8 61Q274.7 60.1 274.5 60.9Q274.1 61.2 273.6 61.5M274.9 63.6Q275.2 64.7 274.7 64.7Q275.8 65.5 275.2 64.9Q276.4 65.7 275.9 64.9Q276.3 65.4 276.6 65.7M274.3 62.5Q273.6 63.1 274.1 63.4Q274.3 63.7 274.5 63.1M273.3 63.2Q273.2 63.2 273.5 62.6Q273.7 63.1 274.1 63.7M273.1 61.4Q273.1 60.6 273.2 60.4Q273.5 60.2 272.3 61.3Q272.6 60.3 272.2 60.8Q272 60.5 271.8 60.6M271.7 62.2Q271.7 62.1 272.6 62.9Q272.8 62.5 272.7 62.7Q272.3 61.8 273.7 62.3Q274 61.7 273.1 62.8M273.3 59.6Q273 60.2 274.1 59.1Q273.8 59.4 273.5 58.8M271.7 59.7Q272.6 60.2 272.7 59.9Q273.1 59.1 271.9 59.4Q271.4 59.3 272.5 58.5M270.9 59.7Q271.4 59.8 271 58.8Q270.6 58.7 271.8 57.8Q272.6 58.1 271.7 58.6M270.2 59Q271 59 270.1 58Q269.8 59.1 269.8 58.5Q270 58.8 269 58.4Q270 58.7 269.5 57.7M268.9 59.4Q269.6 59.3 269.1 58.6Q269 57.7 269.6 57.9Q268.9 59 268.7 58.2Q268.3 58.2 269.4 58.3M271.3 56.4Q271.6 56.9 271.4 57Q271.5 56.3 272.2 57.3Q272.8 57.4 271.7 57.1M268.4 57.2Q268.1 56.8 268.3 58.1Q269 57.8 267.9 57.8M268.4 56.7Q268.9 56.2 268.6 57.2Q267.8 57.3 268.6 56.9M268.3 55.5Q267.6 55.7 267.7 54.5Q267.5 54 267.2 54.5Q267 53.6 267.3 53.5M267.2 55.2Q267.4 54.5 268.2 54.3Q267.4 54.7 267.9 53.8Q268.5 53.2 268 54.1Q267.7 53.7 267.8 54M269.5 53.1Q269.7 52.2 269.2 52.1Q269.1 51.6 268.6 51.7Q269.7 52.9 269 52.6M268.5 52.8Q267.2 52.2 267.5 53Q268.4 52.6 268.5 52.1Q267.2 53.2 267.4 52.8M267.2 52.5Q266.8 52.7 267.2 52.4Q267.6 52.1 266.1 52.3Q266.2 52.9 265.4 52.2M267.1 52.2Q267.1 51.7 267.9 52.6Q268.5 51.6 267.6 52Q267.7 52.5 266.7 53.1M265.2 51.8Q266.1 51.5 265.4 52Q264.5 50.9 264.8 51.4Q264.6 52.2 264.8 51.3Q265 50.3 265.1 50.8M266.2 50.9Q265.2 51.5 265.2 51.4Q265.1 51 266 51.9Q267.2 52.4 267 52.8Q267.2 51.9 266 52.5M268.3 49.5Q267.3 50 267.8 49Q267 49.1 267.2 49.8Q266.3 49.8 266.8 48.9M267.8 48.8Q266.8 49.2 267.6 49.4Q268.4 50 267.7 49.9Q267.3 49.2 267 49.2Q267.5 48.6 267.2 48.3M267.7 48.3Q267.3 48.9 267.3 47.8Q267.7 47.5 266.6 48.3Q265.3 48.4 265.5 47.5Q264.9 47.7 265.7 47.4M267.6 47.5Q268.2 48.2 267 48.4Q267 48.4 267.2 48.3Q268.1 48.2 267.5 47.6Q267.3 48.2 267 48M266.7 46.5Q266.2 47.6 265.7 47.1Q266.2 47.8 265.3 46.9M264.3 45.9Q265 46.6 263.9 46Q264 46.2 264 46.2Q264.6 45.9 264.2 45.6M267.6 45.4Q266.8 45.8 267.5 45.2Q267 45.1 267.7 45Q266.5 44.5 266.7 44.2M264.5 44.6Q265.1 45.2 265.1 44.7Q266.4 44.9 266 44.9Q265.8 43.7 266.1 43.9Q265.6 42.9 266.7 43.1M266.6 43.9Q265.4 42.7 265.9 43.2Q265.7 42.8 266.6 44Q266.9 44.5 266.8 43.5Q267.3 42.9 267.3 43M267.1 42.9Q266.1 43 266.4 43Q265.1 43.7 265.4 43.6Q265.2 42.9 266 43.8Q266.3 43.9 265.3 44.2M264.5 42.1Q265.7 42.7 265.2 42.8Q265.8 42.7 266.2 43.1M266 41.4Q265.9 42 267 41.2Q266.5 40.2 267.4 40.6M267.3 40.6Q267.1 40.6 268 39.6Q268.2 39.1 268.2 39.2Q266.9 39.5 267.3 40.1Q268.6 40.3 268.3 40.1M265.9 39.6Q264.8 40.1 264.8 39.9Q265.4 40.6 265 40.3M268.2 39.6Q267.7 40.2 268.2 40Q268.5 40.6 268.3 41.1Q267.9 41.1 268 41.3Q267.3 42 267.7 41M267.2 38.1Q266.5 37.1 267.4 37.9Q267.7 38.6 267.6 38.4Q267.7 38.9 267.5 38.9M266.7 37.4Q266.5 37 266.2 38.2Q266.6 38.3 266.1 38.7Q265.4 37.9 266.4 38.3Q266.8 37.4 267.1 37.6M267 36.8Q267.2 37.3 265.9 37.9Q265.4 37.6 266.2 37.8Q265.4 38.3 266 38.6M267.7 36.2Q268.6 36.2 267.9 35.8Q268.3 35 267.4 35.9Q267.2 35.3 267.7 35.9Q267.3 36 267.2 35.7M267.7 35.5Q267.3 36.2 268 36.4Q268 36.5 268.4 36.9Q269.9 37.1 269.5 36.9M269.1 35.1Q268.3 35.8 268.9 34.9Q268.2 34.1 268.7 34.3Q268.6 34.6 268.4 33.5M267.5 33Q267.9 33.4 268.4 32.1Q268 32.3 268 32.5M269.1 33.2Q270.3 33.6 269.9 33.4Q269.6 32.5 269.3 33.1Q269.3 33 270.3 33Q270.8 32.1 271 32.5M270.8 33.9Q269.9 34.2 270.6 33Q269.5 32.9 270.1 33.8Q270.3 33 270.1 33.2Q271 33 270.6 34.2M271.7 33.8Q271.2 33.7 271.3 33.7Q270.6 34 270.9 33.6Q270.4 33.9 270.2 34.1M269.6 31.2Q270.1 30.9 270.2 31.5Q270.4 31.8 269.1 31.2M272.1 31.8Q271.5 32 272.1 31.6Q272.3 31.8 273.1 32M272.1 31Q271.6 30.4 271 31Q271.1 30.2 271.5 30.4Q272 30.2 271.8 30.3M272.4 29.8Q272.8 29.8 272.4 30Q272.2 29.7 272.6 29.1M273.4 29.7Q273.8 29 274 28.9Q274.2 28.6 274.5 29.5M273.7 29.2Q273.9 29 273.1 29.8Q273.3 30.1 273.1 30.4Q272.2 30 272.4 29.5M274.3 28.7Q274.4 28.7 274.6 28.9Q274.4 28 275.3 28.6Q276.5 29.1 276.1 29.4Q275.8 29.2 276.3 28.5M274.8 28.5Q274.3 28.6 274.6 27.9Q274.7 27.6 275.5 27.5Q275.8 28.1 275.3 27.8M275.1 26.8Q275.3 26.4 275 26.7Q275.4 26.6 275.7 26.5Q275.1 25.9 275.4 25.4M277.1 28.5Q276.5 28.9 277.7 28Q278 28.1 276.8 27.6M276.3 25.6Q277.2 25.6 277.1 26.5Q277.3 27.5 276.8 27M276.9 25.6Q277.2 25.7 277.1 25.9Q277.1 26.3 276.9 25Q276.1 25.9 276.9 25.5Q277.7 25.2 276.6 25.5M277.3 24.9Q277.6 24.9 277.6 25.7Q277.3 25.8 277.5 25.6Q276.5 24.5 276.8 25.1Q276.6 26.1 276.8 25.6M278.6 25.3Q279.3 26.2 279 26.4Q278.5 25.6 278.4 26.2Q277.7 25.6 277.5 25.8M279.8 26.7Q280.2 26 279.6 25.8Q280.7 26.4 280.1 25.7M280 24Q280.6 23.1 280.9 23.8Q281 22.7 280.6 23.4Q280.3 23.7 280.3 24M281.1 24.6Q281.9 23.8 282 24.2Q281.6 24.5 282.2 24.7M282.1 25.6Q282.1 26.5 281.6 25.7Q281.5 25.5 280.6 25.3Q280.1 24.7 281.1 25.7M282.5 25.7Q282.2 26.2 282.3 26.1Q282.4 26.6 282 25.6M283.2 24.6Q283.7 24.3 283.2 24.1Q282.4 24.5 283.3 23.8Q282.4 24.1 283 24.5Q282.3 25 283.1 23.8M284 22.5Q283.6 21.9 284.5 22.8Q285.9 22.8 285.5 22.7Q285.5 22.5 284.4 22.8Q284.2 23.4 284.6 23.2M284.7 24.6Q285 24.8 283.7 23.6Q283.8 24.4 283.8 24.6Q283.6 24.4 283 24.4M285.7 25.1Q285.8 25 286.1 25.8Q286.9 26.2 286.8 26.2Q287 25.6 286.2 25.6Q286.6 25.4 286.2 25.7M286.5 24.6Q286.5 24.8 286.4 24.1Q287.1 23.4 287.2 24.1Q287.6 24.6 287.6 25.1Q287 24.4 287.6 24.9M287.3 24.3Q287.4 25.4 288 24.8Q288.6 23.8 288 23.9M287.7 24.6Q286.5 24.5 287 23.9Q288 23.5 287.3 23.3Q287.6 23.7 287.2 24.3M288.9 23.5Q288.6 23.6 289.9 23Q289.8 22.4 290.5 23.4Q291.1 24 290.9 22.7M289.6 24.3Q289.7 24.5 288.5 24.1Q288.9 24.3 288 23.2Q288.6 22 288.4 22.6Q289.4 21.8 288.8 22.8M290.1 23.7Q290.5 24.1 289.6 22.8Q289.3 23.3 290.5 22.9Q291.1 23.3 290.8 23.6M291.2 25Q290.5 25.5 290.4 26.1Q290 26.7 289.7 26Q289.9 26.5 290.2 25.5M292.2 23.2Q292.3 23.3 291.9 23.7Q291.3 23.8 291.2 23.2Q290.4 23.8 291.2 23.4Q292 23 291.7 24.1M292.2 25.3Q292.4 25.5 292.2 26.1Q292.4 26 292 25.5Q292.1 25.9 292.1 26.6M292.4 26.8Q291.8 27 291.7 26.8Q292 26.1 292 26.3Q292.5 26.4 292.6 25.7Q293.7 26.6 293.2 25.7M293.8 26.3Q294.5 26.6 293.5 25.5Q294.1 26 293.9 26.5Q294 27.4 294.6 26.5M294.2 26.4Q294.9 25.6 293.8 25.3Q294.9 24.5 294.4 25.2Q293.5 26.1 294.3 25.5M295.5 25.5Q295.6 25.2 295.8 26Q295.7 26 296.1 26.6M295 28.1Q294.5 27.5 295.3 28.2Q294.4 29 294.4 28.1M296.9 25.8Q296.3 25.3 296 25.8Q295.4 26 296.1 25.2M298.3 25.7Q297.7 26 298.5 26.4Q298.6 26.4 298.2 27.4M296.9 29.4Q296.5 29.6 296.5 29Q297.1 28.8 296.7 29Q297.3 28.3 297.6 29Q296.9 28.9 297.8 28.4M299 27.4Q299.4 27.1 299.4 26.7Q299.3 27 298.8 27.1M298.2 29.5Q299.2 29.9 298.8 29.2Q298.9 29.1 299.6 28.6Q299.9 28.2 299.9 28.9Q298.8 28.5 299.3 27.9M300.6 27.7Q300.5 27.3 299.8 28.7Q299.4 27.8 299.6 28.4Q299.2 27.8 299 27.3M301.5 28.1Q301.2 28.9 301.5 28.8Q302.2 28.3 302.1 28.5M300.6 30.2Q300.3 30.2 300.2 29.2Q299 29 299.2 29.2M300.1 32.1Q300.8 32.3 301 32.3Q300.6 31.4 300.9 31.7Q301.3 31.7 300.9 31.3M301 31.8Q301.7 31.5 301.6 31.8Q301.8 31.7 302.6 31.6Q301.9 32.1 302.5 32.3Q303 32.1 301.9 32.7M302.6 32Q302.9 31.7 303.7 31Q304.7 30.5 304.3 31.2M304.2 31.2Q304.7 31.1 303.6 31.8Q303.4 31.7 303.9 32.3Q305.2 31.9 304.8 33Q305.7 33.6 305.1 33.5M302.1 33.9Q302.4 33.5 302.4 33.6Q301.8 33 301.4 33.4M302.5 34.9Q303.1 34 302.6 34.8Q303.5 34.8 303.5 35.4Q302.7 35.2 303.4 36.4M306 33.3Q305.3 33.4 306.1 34.4Q306.1 33.7 305.7 34.5M305.4 34.4Q305.7 34.2 304.4 33.7Q303.8 33.8 304.6 32.6M307 34.7Q307.6 35 306.9 34.9Q307.8 34.7 307.1 35.8Q307.2 34.8 307 34.9Q306 35.7 306.7 35.1M304.5 36.5Q304.8 36.9 304.5 35.6Q304.2 35.6 305.5 35.4Q305.1 35.8 304.6 36.3Q305.4 36.2 305.3 36.1M306.8 36.3Q306.4 36.6 306.2 35.7Q306.1 36.2 306.1 36.4M305.7 37.7Q304.9 37.2 305.1 38.2Q304.3 37.4 304.1 37.1Q304.6 37.4 304.5 36.7Q303.8 35.6 304.9 36.1M306.5 38Q307.5 37.5 307.3 38.8Q306.6 37.7 306.2 38.4Q306.7 37.5 305.9 37.6M305.3 39.4Q305 39 305.8 39.5Q306.7 39.5 306.9 40Q307.6 40 307.9 41M306.9 39.6Q306.9 39.3 306.4 38.9Q305.2 39 305.4 37.8Q305.9 38 305.8 38.8M309 40.3Q308.9 40.6 308.6 40.9Q309.2 41.1 308.7 41.8Q308.1 41.7 308.2 42.2Q306.8 43 307.2 42M307.1 41.6Q308.3 42.6 308.1 42.2Q308.3 42.7 307.9 43.2M306.6 42.4Q306.9 42.9 306.5 43.2Q307.7 42.7 307.1 42.7Q307.2 42.7 307.3 42M307.4 43.1Q307.4 42.9 307.9 43.3Q309 42.8 308.6 43.9Q308.1 43.3 308.7 44.4M308.6 43.8Q309.8 44.4 309.2 44Q308.6 44.4 308.4 43.9Q308.2 42.8 308 43Q307.9 43.3 307 43.3M306.3 44.5Q305.8 44.6 306.8 45Q307.5 44.4 306.8 44.2Q306.6 43.4 306.2 43.3" fill="none" stroke="#30309c" stroke-width="0.55" opacity="0.95"/><circle cx="286.7" cy="45.2" r="9.9" fill="none" stroke="#1c3b1c" stroke-width="0.5" stroke-dasharray="0.9 0.7"/><circle cx="285.3" cy="37.3" r="1.75" fill="#e8141c"/><circle cx="278.9" cy="45.5" r="1.75" fill="#e8141c"/><circle cx="294.2" cy="46.7" r="1.75" fill="#e8141c"/><circle cx="287.9" cy="52.4" r="1.75" fill="#e8141c"/><line x1="278.3" y1="27.8" x2="280.6" y2="32" stroke="#000" stroke-width="1.6"/><path d="M282.9 36.2L277.9 31.64L280.5 31.81L281.76 29.53Z" fill="#000"/><line x1="305.9" y1="39.4" x2="300.5" y2="41" stroke="#000" stroke-width="1.6"/><path d="M295.9 42.4L301.4 38.45L300.69 40.96L302.66 42.67Z" fill="#000"/><line x1="266.7" y1="47.8" x2="272.3" y2="47.1" stroke="#000" stroke-width="1.6"/><path d="M277.1 46.5L271.02 49.48L272.14 47.12L270.48 45.11Z" fill="#000"/><line x1="294.3" y1="62.5" x2="292.4" y2="58.9" stroke="#000" stroke-width="1.6"/><path d="M290.2 54.7L295.13 59.34L292.53 59.13L291.23 61.39Z" fill="#000"/>
<line x1="56" y1="75" x2="357" y2="75" stroke="#000" stroke-width="1.7"/>
<path d="M366.8 75L354.6 70.2L358.4 75L354.6 79.8Z" fill="#000"/>
<line x1="84.8" y1="72.2" x2="84.8" y2="77.8" stroke="#000" stroke-width="1.3"/>
<line x1="186.2" y1="72.2" x2="186.2" y2="77.8" stroke="#000" stroke-width="1.3"/>
<line x1="236" y1="72.2" x2="236" y2="77.8" stroke="#000" stroke-width="1.3"/>
<line x1="287" y1="72.2" x2="287" y2="77.8" stroke="#000" stroke-width="1.3"/>
<line x1="337.8" y1="72.2" x2="337.8" y2="77.8" stroke="#000" stroke-width="1.3"/>
<line x1="129" y1="78.8" x2="134.6" y2="71.2" stroke="#000" stroke-width="1.5"/>
<line x1="131.6" y1="78.8" x2="137.2" y2="71.2" stroke="#000" stroke-width="1.5"/>
<line x1="310.4" y1="78.8" x2="316" y2="71.2" stroke="#000" stroke-width="1.5"/>
<line x1="313" y1="78.8" x2="318.6" y2="71.2" stroke="#000" stroke-width="1.5"/>
<text x="58.8" y="87" font-size="10">Day</text>
<text x="84.8" y="87" font-size="10" text-anchor="middle">0</text>
<text x="186.2" y="87" font-size="10" text-anchor="middle">4</text>
<text x="236.2" y="87" font-size="10" text-anchor="middle">6</text>
<text x="287" y="87" font-size="10" text-anchor="middle">7</text>
<text x="339" y="87" font-size="10" text-anchor="middle">10</text>
<text x="89.5" y="102" font-size="12.6" text-anchor="middle" fill="#5fc24d">CAFs</text>
<text x="184.5" y="101.8" font-size="12.5" text-anchor="middle" fill="#e0161e">Cancer</text>
<text x="184.9" y="117.2" font-size="12.5" text-anchor="middle" fill="#e0161e">cells</text>
<text x="236.9" y="101.8" font-size="12.8" text-anchor="middle" fill="#5b8ff0">NK cells</text>
<text x="235.7" y="116.6" font-size="12.6" text-anchor="middle">+/-</text>
<text x="237.1" y="131.7" font-size="12.6" text-anchor="middle">drugs</text>
<g transform="translate(333 99.8)" fill="none" stroke="#222" stroke-width="0.8" stroke-linejoin="round" stroke-linecap="round"><path d="M5.3 1.7L8.3 0.1L9.8 1.5L6.7 3.4Z" fill="#555"/><path d="M6.2 2.6L7.9 0.9M7 3L8.9 1.3" stroke="#ddd" stroke-width="0.35"/><path d="M1.3 5.8Q1.1 4.7 2.6 4.1L5.3 2.4L6.8 4.2L5.5 6.3Q5.7 8.1 4.3 9.2L3.2 11.3L2.3 10.7L1.5 8.6Z"/><path d="M1.6 6.4L4.9 4.3M2 8.4L4.6 6.9"/><path d="M5.7 6.9C9.6 7.4 12.4 11 12.7 16.4L12.8 21.7"/><path d="M5.2 8.5C7.2 9.2 8.3 11.6 7.3 14.4L7.1 17.3"/><path d="M0.3 13.3H6.9M0.3 14.2H6.9" stroke-width="0.8"/><circle cx="10.2" cy="16.9" r="1.35" fill="#555"/><path d="M0.2 21.7H12.8M0.2 21.7V20.3Q3.4 19.7 7.4 18"/></g>
</g>
<g id="panel_b">
<defs><g id="mini"><circle r="10.7" fill="#fae1d2" filter="url(#bl1)"/><circle r="9.3" fill="none" stroke="#5a4ab4" stroke-width="1.7" stroke-dasharray="0.7 0.6" opacity="0.7"/><path d="M9.8 0.2Q10.3 -0.8 9.2 -0.1Q9.5 1.1 9.1 0.9Q8.9 1 9.7 0.9Q9.2 0 9.8 -0.2M9.5 2.7Q10 2.1 10 1.8Q8.8 2.8 9.2 2.8M7.7 4.1Q7.5 5 7.2 5.2Q7.2 6.5 6.6 6.1M6.9 5.7Q6.4 5.9 6.7 6.7Q7.2 7.2 7.4 6.9Q6.6 7.1 6.4 6.6M6.6 6.6Q5.2 7.5 5.6 7.6Q6.5 6.8 6.4 6.6M4.1 7.3Q5.2 6.8 4.6 7.6Q4.2 8 4 8.3M2.2 8.6Q2.3 9.5 1.3 9.2Q0.1 9.4 0.3 10.1Q-0.1 10.6 0.2 9.6M0.9 9Q0.9 9.7 0.4 9.6Q0.6 8.8 0 9.6Q-0.9 9.7 -0.1 9M-0.7 8.8Q0.1 8.3 -0.6 9.4Q-1.3 10.2 -0.6 10.2Q-0.4 9.4 -1.2 10Q-0.7 9.3 -1.3 9.2M-3.1 9.8Q-2.6 10.2 -2.1 9.7Q-2.3 8.9 -2.1 9.3M-5 9Q-5.1 8.3 -4.7 9Q-3.9 8.6 -4.4 8.6M-6.9 7Q-7.2 6.6 -6.8 6Q-7 7.2 -6.4 6.7Q-6.4 6.6 -5.9 7.7Q-5 7.4 -5.1 7.7M-7 5.5Q-7.1 6.1 -6.7 6.2Q-6.7 7.2 -6.2 6.9Q-4.9 7.9 -5.4 7.3Q-6 8 -5.3 7.4M-8.8 3.2Q-8.6 3.3 -8.2 2.9Q-7.7 2.6 -8.8 2.9Q-9.1 4.2 -8.7 3.7Q-8.8 3.2 -9.3 3.9M-8.6 1.4Q-9.6 0.6 -9.6 1.4Q-10 1 -9.1 1.6Q-9.9 1.8 -10.2 1.5Q-9.3 0.4 -10 1M-8.9 0.1Q-9.1 0.9 -9.4 -0.1Q-9.7 -0.3 -9.3 -0.5Q-9.9 -1.1 -9.9 -0.3M-9.3 -1.8Q-9.3 -2.1 -9.6 -2.6Q-8.9 -2.4 -8.6 -1.6Q-9.5 -1.1 -9.1 -0.9Q-8.7 -0.6 -8.8 -1.7M-8.5 -3.6Q-8.1 -3.8 -8.5 -3.6Q-8 -3.6 -7.7 -4.4M-7.4 -5Q-7.6 -4.8 -7.7 -3.9Q-7.6 -4.4 -7.8 -4.7M-6.9 -7.1Q-7 -6.4 -6.2 -7.2Q-6.3 -8.1 -5.6 -7.7Q-4.9 -8 -4.5 -8.2M-4.6 -8.4Q-4.8 -9.3 -3.7 -9.4Q-3.1 -10.2 -3.2 -9.2Q-2.8 -9.7 -3.6 -8.8Q-3.8 -9.4 -4.7 -8.7M-2.4 -8.4Q-2 -8.1 -1.8 -8.6Q-0.9 -8.8 -1.5 -8.6Q-2 -9.2 -1.4 -9.1M-0.4 -8.5Q-0.6 -8.1 0 -8.7Q0.4 -9 0.9 -9.4M0.9 -9Q0 -8.5 0.8 -8.9Q-0.3 -8.5 0.3 -9.8M2.6 -8.8Q2.3 -8 3.7 -8.4Q4.2 -7.9 3.1 -8.1M4 -8Q3.5 -8.5 3.2 -7.8Q2.7 -8.5 3.5 -8.8Q3.2 -8.8 2.6 -9.7M6.2 -6.1Q6.4 -6.4 6.7 -6.3Q6.2 -6.2 7.1 -5.4Q6.8 -4.4 7.2 -5M7.2 -5.1Q7.7 -5.4 7.3 -5.7Q6.7 -5.5 6.5 -6.2M8.7 -4.4Q7.7 -3.7 8.3 -4.3Q8.1 -4.4 8.4 -4.4Q8.1 -4 7.7 -3.9Q8.6 -4.2 7.9 -4.3M9.7 -1.6Q10 -2.3 9.1 -1.8Q8.7 -2.2 9.3 -2.1" fill="none" stroke="#3f38a6" stroke-width="0.4" opacity="0.8"/><circle r="8.5" fill="#36a4e0"/><path d="M4.39 -0.26L8.58 -0.51L8.58 0.51L4.39 0.26ZM4.29 0.99L8.38 1.93L8.09 2.91L4.14 1.49ZM3.84 2.16L7.5 4.21L6.95 5.07L3.55 2.59ZM3.07 3.15L6.01 6.15L5.24 6.82L2.68 3.49ZM2.06 3.89L4.03 7.6L3.1 8.02L1.59 4.1ZM0.88 4.31L1.73 8.42L0.72 8.57L0.37 4.38ZM-0.37 4.38L-0.72 8.57L-1.73 8.42L-0.88 4.31ZM-1.59 4.1L-3.1 8.02L-4.03 7.6L-2.06 3.89ZM-2.68 3.49L-5.24 6.82L-6.01 6.15L-3.07 3.15ZM-3.55 2.59L-6.95 5.07L-7.5 4.21L-3.84 2.16ZM-4.14 1.49L-8.09 2.91L-8.38 1.93L-4.29 0.99ZM-4.39 0.26L-8.58 0.51L-8.58 -0.51L-4.39 -0.26ZM-4.29 -0.99L-8.38 -1.93L-8.09 -2.91L-4.14 -1.49ZM-3.84 -2.16L-7.5 -4.21L-6.95 -5.07L-3.55 -2.59ZM-3.07 -3.15L-6.01 -6.15L-5.24 -6.82L-2.68 -3.49ZM-2.06 -3.89L-4.03 -7.6L-3.1 -8.02L-1.59 -4.1ZM-0.88 -4.31L-1.73 -8.42L-0.72 -8.57L-0.37 -4.38ZM0.37 -4.38L0.72 -8.57L1.73 -8.42L0.88 -4.31ZM1.59 -4.1L3.1 -8.02L4.03 -7.6L2.06 -3.89ZM2.68 -3.49L5.24 -6.82L6.01 -6.15L3.07 -3.15ZM3.55 -2.59L6.95 -5.07L7.5 -4.21L3.84 -2.16ZM4.14 -1.49L8.09 -2.91L8.38 -1.93L4.29 -0.99Z" fill="#5fdc60"/><circle r="4.9" fill="#6fe653"/><circle cx="-0.7" cy="-3.3" r="0.85" fill="#e8141c"/><circle cx="-3.3" cy="0.3" r="0.85" fill="#e8141c"/><circle cx="3.2" cy="0.7" r="0.85" fill="#e8141c"/><circle cx="0.6" cy="3.2" r="0.85" fill="#e8141c"/></g></defs>
<text x="397.7" y="11.1" font-size="15">b</text>
<use href="#mini" x="490.8" y="21.6"/>
<use href="#mini" x="523.8" y="21.6"/>
<use href="#mini" x="557.4" y="21.6"/>
<use href="#mini" x="590.8" y="21.6"/>
<use href="#mini" x="490.8" y="45.6"/>
<use href="#mini" x="523.8" y="45.6"/>
<use href="#mini" x="557.4" y="45.6"/>
<use href="#mini" x="590.8" y="45.6"/>
<use href="#mini" x="490.8" y="70.1"/>
<use href="#mini" x="523.8" y="70.1"/>
<use href="#mini" x="557.4" y="70.1"/>
<use href="#mini" x="590.8" y="70.1"/>
<rect x="473.9" y="7.3" width="135.6" height="78.2" fill="none" stroke="#8a8a8a" stroke-width="1.6"/>
<line x1="508.8" y1="0" x2="508.8" y2="142.5" stroke="#000" stroke-width="0.8" stroke-dasharray="3.2 2.2"/>
<line x1="541.5" y1="0" x2="541.5" y2="142.5" stroke="#000" stroke-width="0.8" stroke-dasharray="3.2 2.2"/>
<line x1="573.8" y1="0" x2="573.8" y2="142.5" stroke="#000" stroke-width="0.8" stroke-dasharray="3.2 2.2"/>
<line x1="474" y1="89.8" x2="474" y2="145.5" stroke="#555" stroke-width="1.2"/>
<line x1="428.8" y1="109" x2="611.5" y2="109" stroke="#222" stroke-width="0.9"/>
<text x="470.6" y="101.6" font-size="12.8" text-anchor="end" fill="#5b8ff0">NK cells</text>
<text x="470.6" y="121.8" font-size="10" text-anchor="end">IL2</text>
<text x="470.6" y="138" font-size="10" text-anchor="end">Ttz</text>
<text x="491.4" y="101.2" font-size="9.5" text-anchor="middle">+</text>
<text x="523.4" y="101.2" font-size="9.5" text-anchor="middle">+</text>
<text x="557.2" y="101.2" font-size="9.5" text-anchor="middle">+</text>
<text x="590.9" y="101.2" font-size="9.5" text-anchor="middle">+</text>
<text x="491.4" y="121.6" font-size="9.5" text-anchor="middle">-</text>
<text x="523.4" y="121.6" font-size="9.5" text-anchor="middle">+</text>
<text x="557.2" y="121.6" font-size="9.5" text-anchor="middle">-</text>
<text x="590.9" y="121.6" font-size="9.5" text-anchor="middle">+</text>
<text x="491.4" y="137.6" font-size="9.5" text-anchor="middle">-</text>
<text x="523.4" y="137.6" font-size="9.5" text-anchor="middle">-</text>
<text x="557.2" y="137.6" font-size="9.5" text-anchor="middle">+</text>
<text x="590.9" y="137.6" font-size="9.5" text-anchor="middle">+</text>
</g>
<g id="panel_c">
<text x="-0.1" y="177.3" font-size="15">c</text>
<clipPath id="ccl"><rect x="17.2" y="196.1" width="113.7" height="112.9"/></clipPath>
<clipPath id="ccr"><path d="M21.8 193C22.2 193.7 22.8 194.8 24.2 197.2C25.6 199.6 27.7 204.2 30 207.6C32.3 211 35.2 214.4 38 217.6C40.8 220.8 43.9 223.6 47 226.6C50.1 229.6 53.3 232.9 56.5 235.5C59.7 238.1 62.7 240.1 66 242C69.3 243.9 73 245.5 76.4 246.9C79.8 248.3 83 249.4 86.5 250.3C90 251.2 94 251.8 97.3 252.1C100.5 252.4 103.2 252.4 106 252.2C108.8 252 111.9 251.3 114.4 250.7C116.9 250.1 119 249.4 121 248.6C123 247.8 124.7 247 126.7 246C128.7 245 131.9 243.2 133 242.6L133 190L21.8 190Z"/></clipPath>
<g clip-path="url(#ccl)">
<rect x="17.2" y="196.1" width="113.7" height="112.9" fill="#092c0b"/>
<g transform="rotate(38 74 252)"><rect x="-40" y="120" width="240" height="260" fill="#2a9c2c" filter="url(#gstreak)" opacity="0.6"/></g>
<ellipse cx="94" cy="262" rx="26" ry="9" fill="#2cc02e" opacity="0.45" filter="url(#bl2)"/>
<path d="M20.3 197C20.7 197.7 21.3 198.8 22.7 201.2C24.1 203.6 26.2 208.2 28.5 211.6C30.8 215 33.7 218.4 36.5 221.6C39.3 224.8 42.4 227.6 45.5 230.6C48.6 233.6 51.8 236.9 55 239.5C58.2 242.1 61.2 244.1 64.5 246C67.8 247.9 71.5 249.5 74.9 250.9C78.3 252.3 81.5 253.4 85 254.3C88.5 255.2 92.5 255.8 95.8 256.1C99 256.4 101.7 256.4 104.5 256.2C107.3 256 110.4 255.3 112.9 254.7C115.4 254.1 117.5 253.4 119.5 252.6C121.5 251.8 123.2 251 125.2 250C127.2 249 130.4 247.2 131.5 246.6" fill="none" stroke="#22a026" stroke-width="11" opacity="0.55" filter="url(#bl2)"/>
<path d="M20.8 196.2C21.2 196.9 21.8 198 23.2 200.4C24.6 202.8 26.7 207.4 29 210.8C31.3 214.2 34.2 217.6 37 220.8C39.8 224 42.9 226.8 46 229.8C49.1 232.8 52.3 236.1 55.5 238.7C58.7 241.3 61.7 243.3 65 245.2C68.3 247.1 72 248.7 75.4 250.1C78.8 251.5 82 252.6 85.5 253.5C89 254.4 93 255 96.3 255.3C99.5 255.6 102.2 255.6 105 255.4C107.8 255.2 110.9 254.5 113.4 253.9C115.9 253.3 118 252.6 120 251.8C122 251 123.7 250.2 125.7 249.2C127.7 248.2 130.9 246.4 132 245.8" fill="none" stroke="#3fe83a" stroke-width="4.5" opacity="0.85" filter="url(#bl15)"/>
<g fill="none" stroke-linecap="round" filter="url(#bl07)"><path d="M18.5 223.6C18.1 223.1 16.8 221.3 16 220.2C15.2 219 14.4 217.8 13.6 216.6C12.8 215.3 11.7 213.5 11.4 212.9" stroke="#188a1b" stroke-width="0.7" opacity="0.2"/><path d="M65.8 318.2C65.2 318.2 63.3 318.4 62 318.5C60.7 318.7 59.4 318.7 58.1 318.8C56.8 318.9 54.9 319 54.2 319" stroke="#0e4f0f" stroke-width="1.6" opacity="0.3"/><path d="M108.7 303.5C107.8 303.7 105 304.3 103.1 304.6C101.2 305 99.3 305.3 97.3 305.5C95.4 305.8 92.5 306 91.6 306.1" stroke="#0e5210" stroke-width="1.5" opacity="0.4"/><path d="M13.9 170C14 169.1 14.2 166.4 14.5 164.6C14.7 162.8 15 161 15.4 159.3C15.7 157.5 16.4 154.9 16.6 154" stroke="#0b400c" stroke-width="1.6" opacity="0.3"/><path d="M-34.1 126.6C-33.9 125.5 -33.6 122.5 -33.3 120.4C-32.9 118.4 -32.6 116.4 -32.2 114.3C-31.8 112.3 -31 109.2 -30.8 108.2" stroke="#0d4c0f" stroke-width="1.6" opacity="0.3"/><path d="M-54.4 120.4C-54.1 120 -53.2 118.7 -52.6 117.9C-52 117.1 -51.4 116.3 -50.8 115.5C-50.2 114.7 -49.3 113.5 -49 113.1" stroke="#0c450d" stroke-width="1.8" opacity="0.3"/><path d="M56.7 294.3C55.9 293.9 53.6 292.9 52.1 292.2C50.6 291.5 49.1 290.7 47.7 289.9C46.2 289.2 44.1 287.9 43.3 287.5" stroke="#0d4b0f" stroke-width="1.3" opacity="0.3"/><path d="M-54.4 203.5C-54.8 202.3 -56 198.9 -56.7 196.6C-57.5 194.3 -58.1 192 -58.8 189.7C-59.4 187.3 -60.2 183.8 -60.5 182.6" stroke="#126614" stroke-width="1.4" opacity="0.2"/><path d="M-33.4 90.2C-32.8 89.2 -31.1 86.1 -29.9 84.1C-28.7 82.1 -27.5 80.1 -26.2 78.2C-24.9 76.2 -22.9 73.3 -22.2 72.4" stroke="#105a12" stroke-width="0.9" opacity="0.4"/><path d="M63.5 291.5C63 291.5 61.6 291.5 60.6 291.5C59.6 291.5 58.7 291.5 57.7 291.5C56.7 291.4 55.3 291.4 54.8 291.4" stroke="#147417" stroke-width="0.7" opacity="0.4"/><path d="M107.8 283.1C107.1 283.2 105.2 283.7 103.9 283.9C102.6 284.2 101.3 284.4 100 284.6C98.6 284.8 96.6 285 96 285.1" stroke="#198c1c" stroke-width="0.7" opacity="0.3"/><path d="M15.6 179.1C15.4 178.4 14.7 176.4 14.2 175.1C13.8 173.8 13.3 172.4 13 171C12.6 169.6 12.1 167.5 11.9 166.8" stroke="#26d62a" stroke-width="1.2" opacity="0.4"/><path d="M127.9 271.9C126.9 271.9 124.1 271.9 122.3 271.8C120.4 271.7 118.6 271.6 116.8 271.4C115 271.2 112.3 270.8 111.4 270.7" stroke="#0e5210" stroke-width="1.1" opacity="0.3"/><path d="M133.4 258.2C132.3 258.4 129 259.2 126.7 259.6C124.5 260 122.3 260.4 120 260.6C117.8 260.9 114.4 261 113.3 261.1" stroke="#22c226" stroke-width="1.7" opacity="0.3"/><path d="M7.5 239.9C7 239.2 5.2 237 4 235.4C2.9 233.9 1.8 232.4 0.7 230.8C-0.4 229.2 -1.9 226.8 -2.4 226" stroke="#126915" stroke-width="1.3" opacity="0.4"/><path d="M24.1 263.1C23.4 262.4 21.3 260.2 20 258.6C18.6 257.1 17.4 255.5 16.1 254C14.9 252.4 13.1 249.9 12.5 249.1" stroke="#0e5110" stroke-width="1.8" opacity="0.3"/><path d="M153.3 285C152.6 285.3 150.6 286.3 149.2 286.9C147.8 287.5 146.5 288.1 145.1 288.6C143.6 289.2 141.5 290 140.8 290.3" stroke="#0a3d0c" stroke-width="1.3" opacity="0.3"/><path d="M19.9 199.7C19.6 199 18.5 196.8 17.9 195.4C17.3 193.9 16.7 192.4 16.1 190.9C15.5 189.4 14.8 187 14.5 186.3" stroke="#147216" stroke-width="1.4" opacity="0.4"/><path d="M126.8 251.6C125.9 252 123.3 253.4 121.4 254.2C119.6 255 117.7 255.7 115.7 256.4C113.8 257.1 110.8 258 109.9 258.3" stroke="#126414" stroke-width="1.1" opacity="0.3"/><path d="M49.8 261.6C49.3 261.2 47.6 260.1 46.6 259.3C45.5 258.5 44.5 257.7 43.4 256.8C42.4 256 40.9 254.7 40.4 254.3" stroke="#167d19" stroke-width="1" opacity="0.3"/><path d="M156.1 306.5C155.3 306.9 152.9 308.1 151.3 308.9C149.7 309.7 148 310.4 146.4 311.2C144.8 311.9 142.2 312.9 141.4 313.2" stroke="#0d490e" stroke-width="0.9" opacity="0.4"/><path d="M97.5 269.1C96.7 269.1 94.4 269.2 92.9 269.3C91.3 269.3 89.7 269.3 88.2 269.2C86.6 269.2 84.2 269 83.5 268.9" stroke="#0c480e" stroke-width="1" opacity="0.3"/><path d="M2.2 284.9C1.5 284 -0.8 281.5 -2.2 279.7C-3.6 278 -5 276.2 -6.3 274.4C-7.7 272.6 -9.6 269.8 -10.2 268.9" stroke="#0d4a0e" stroke-width="1.4" opacity="0.4"/><path d="M84.9 285.3C84.4 285.2 82.9 285.1 81.9 284.9C81 284.7 80 284.6 79 284.4C78 284.2 76.5 283.9 76 283.8" stroke="#0d4b0f" stroke-width="1.6" opacity="0.4"/><path d="M74.9 261C73.9 260.7 70.7 259.9 68.6 259.2C66.6 258.6 64.5 257.9 62.4 257.1C60.4 256.3 57.4 254.9 56.4 254.5" stroke="#1ea921" stroke-width="1" opacity="0.2"/><path d="M-2.1 160.5C-2 159.9 -1.7 158 -1.4 156.8C-1.1 155.5 -0.8 154.3 -0.5 153.1C-0.2 151.9 0.3 150.1 0.5 149.5" stroke="#136c15" stroke-width="1.1" opacity="0.3"/><path d="M107.6 330.9C107.1 331.1 106 331.7 105.1 332.1C104.3 332.5 103.5 332.9 102.7 333.3C101.9 333.7 100.6 334.3 100.2 334.5" stroke="#116113" stroke-width="1.8" opacity="0.3"/><path d="M-48.5 100.2C-48.3 99.6 -47.9 97.9 -47.6 96.7C-47.3 95.6 -47 94.4 -46.6 93.3C-46.3 92.1 -45.7 90.4 -45.6 89.8" stroke="#115f13" stroke-width="1.4" opacity="0.3"/><path d="M56.6 262.4C56.2 262 54.9 260.6 54 259.8C53.2 258.9 52.3 258 51.5 257C50.7 256.1 49.5 254.7 49.1 254.3" stroke="#178019" stroke-width="0.9" opacity="0.4"/><path d="M20.5 137.1C20.7 136.1 21.3 133.1 21.8 131.1C22.3 129.2 22.8 127.2 23.4 125.2C24.1 123.3 25.2 120.3 25.6 119.4" stroke="#24c928" stroke-width="1.7" opacity="0.3"/><path d="M16.7 172.8C16.7 172.3 16.9 170.6 17.1 169.6C17.2 168.5 17.4 167.4 17.6 166.3C17.8 165.2 18.2 163.6 18.3 163.1" stroke="#1ea721" stroke-width="1.2" opacity="0.3"/><path d="M-48.5 232.9C-48.7 232.2 -49.2 230.2 -49.5 228.8C-49.8 227.4 -50.1 226.1 -50.3 224.7C-50.6 223.4 -51 221.3 -51.1 220.6" stroke="#116013" stroke-width="1.2" opacity="0.4"/><path d="M94.2 277.9C93.3 278 90.7 278.2 89 278.2C87.2 278.3 85.5 278.3 83.7 278.3C81.9 278.3 79.3 278.1 78.4 278.1" stroke="#0d4d0f" stroke-width="1.6" opacity="0.4"/><path d="M-46.9 145.5C-46.9 145.1 -46.9 143.9 -46.9 143.1C-46.9 142.2 -46.9 141.4 -46.8 140.6C-46.8 139.8 -46.7 138.5 -46.7 138.1" stroke="#116013" stroke-width="0.7" opacity="0.2"/><path d="M19.1 228.7C18.7 228.1 17.4 226.2 16.6 224.9C15.8 223.7 15 222.4 14.2 221.1C13.5 219.7 12.4 217.7 12.1 217.1" stroke="#1b991e" stroke-width="0.6" opacity="0.2"/><path d="M113.2 260.6C112.8 260.8 111.5 261.6 110.6 262.1C109.7 262.6 108.8 263.1 107.9 263.5C107 264 105.6 264.7 105.1 264.9" stroke="#21b824" stroke-width="0.7" opacity="0.3"/><path d="M62.5 267.4C61.8 267.2 59.8 266.5 58.5 266.1C57.1 265.6 55.8 265.1 54.5 264.6C53.2 264.1 51.2 263.3 50.6 263" stroke="#167d19" stroke-width="1" opacity="0.2"/><path d="M115.1 275.7C114.3 275.9 111.7 276.4 110 276.7C108.2 277 106.5 277.3 104.7 277.5C103 277.7 100.3 278 99.4 278" stroke="#126514" stroke-width="0.7" opacity="0.2"/><path d="M0.9 214.2C0.5 213.2 -0.6 210.2 -1.3 208.2C-1.9 206.1 -2.5 204.1 -3.1 202.1C-3.6 200 -4.3 196.9 -4.5 195.9" stroke="#198b1b" stroke-width="1.3" opacity="0.3"/><path d="M17.9 240.8C17.3 240 15.5 237.7 14.3 236.1C13.2 234.4 12.1 232.8 11 231.1C9.9 229.4 8.5 226.8 8 226" stroke="#178119" stroke-width="1.2" opacity="0.2"/><path d="M-21 191.5C-21 191 -21.2 189.6 -21.3 188.7C-21.4 187.8 -21.4 186.9 -21.5 186C-21.6 185.1 -21.6 183.7 -21.7 183.2" stroke="#0f5711" stroke-width="1.7" opacity="0.4"/><path d="M-2.6 130.2C-2.1 129.3 -0.7 126.4 0.3 124.5C1.4 122.6 2.4 120.8 3.6 119C4.7 117.2 6.5 114.5 7.1 113.7" stroke="#136a15" stroke-width="0.7" opacity="0.4"/><path d="M-28 125.2C-27.7 124.1 -26.9 121 -26.3 118.9C-25.7 116.9 -25 114.8 -24.3 112.8C-23.5 110.7 -22.3 107.7 -22 106.7" stroke="#105b12" stroke-width="1.3" opacity="0.2"/><path d="M156.8 287.4C156.4 287.7 155.1 288.6 154.2 289.3C153.3 289.9 152.5 290.5 151.6 291.2C150.7 291.8 149.3 292.7 148.9 293" stroke="#0b3e0c" stroke-width="0.7" opacity="0.2"/><path d="M97.8 326.9C97.4 327 96.1 327.4 95.2 327.7C94.4 327.9 93.5 328.2 92.7 328.4C91.8 328.7 90.5 329 90 329.2" stroke="#0b410d" stroke-width="1.6" opacity="0.4"/><path d="M-33.7 95.8C-33.3 94.9 -32.4 92.4 -31.8 90.7C-31.1 89 -30.4 87.3 -29.7 85.6C-29 84 -27.8 81.5 -27.4 80.6" stroke="#0a3d0c" stroke-width="1.5" opacity="0.3"/><path d="M125.3 309.1C124.3 309.4 121.3 310.5 119.3 311.1C117.3 311.7 115.2 312.3 113.1 312.8C111 313.3 107.9 314 106.8 314.3" stroke="#0b3e0c" stroke-width="1" opacity="0.3"/><path d="M72.8 318.8C72.3 318.6 70.7 317.9 69.7 317.5C68.7 317 67.7 316.5 66.7 316.1C65.6 315.6 64.2 314.8 63.6 314.6" stroke="#0f5611" stroke-width="1.5" opacity="0.3"/><path d="M39.8 260C39.3 259.5 37.6 258.2 36.5 257.3C35.5 256.5 34.4 255.5 33.4 254.6C32.3 253.7 30.8 252.2 30.3 251.8" stroke="#0c440d" stroke-width="1.2" opacity="0.4"/><path d="M-12.3 173.8C-12.4 173.3 -12.7 171.7 -12.9 170.6C-13.1 169.5 -13.3 168.5 -13.4 167.4C-13.6 166.3 -13.8 164.7 -13.9 164.1" stroke="#178119" stroke-width="1.4" opacity="0.3"/><path d="M-12.2 206.7C-12.4 205.5 -13.1 202.1 -13.4 199.8C-13.7 197.5 -13.9 195.1 -14.1 192.8C-14.3 190.5 -14.3 187.1 -14.4 185.9" stroke="#0c430d" stroke-width="1.5" opacity="0.4"/><path d="M20.5 261.3C19.9 260.5 17.9 258.2 16.7 256.6C15.4 255 14.2 253.4 13.1 251.7C11.9 250.1 10.3 247.5 9.8 246.7" stroke="#0e4e0f" stroke-width="0.8" opacity="0.3"/><path d="M84.7 273.7C83.6 273.7 80.6 273.7 78.6 273.7C76.5 273.6 74.5 273.5 72.4 273.3C70.4 273.1 67.3 272.7 66.3 272.6" stroke="#105c12" stroke-width="1.4" opacity="0.3"/><path d="M-35.9 239.7C-36.1 239.1 -36.6 237.2 -36.9 236C-37.2 234.8 -37.5 233.5 -37.8 232.3C-38.1 231.1 -38.5 229.2 -38.6 228.6" stroke="#0a3c0c" stroke-width="1.2" opacity="0.3"/><path d="M56.2 252.2C55.6 251.9 53.6 251.3 52.3 250.8C51.1 250.3 49.8 249.7 48.5 249.2C47.2 248.6 45.3 247.7 44.7 247.4" stroke="#0e4f0f" stroke-width="1.8" opacity="0.3"/><path d="M9.4 261C8.5 260.3 5.9 258.2 4.1 256.7C2.4 255.2 0.8 253.7 -0.9 252.1C-2.5 250.6 -4.9 248.1 -5.7 247.3" stroke="#0f5811" stroke-width="1.2" opacity="0.4"/><path d="M13.1 296.2C12.1 295.8 9.3 294.5 7.4 293.6C5.5 292.6 3.6 291.7 1.8 290.7C-0.1 289.7 -2.9 288 -3.8 287.5" stroke="#0e4f0f" stroke-width="0.9" opacity="0.2"/><path d="M-36 201.9C-36.4 200.7 -37.7 197.3 -38.5 194.9C-39.3 192.6 -40 190.2 -40.6 187.8C-41.3 185.4 -42.1 181.8 -42.4 180.6" stroke="#0c460e" stroke-width="0.8" opacity="0.2"/><path d="M6.9 183.7C6.6 182.6 5.5 179.3 5 177.1C4.4 174.9 3.9 172.6 3.5 170.3C3.1 168 2.7 164.5 2.5 163.3" stroke="#105e12" stroke-width="1.6" opacity="0.2"/><path d="M-12.7 179.5C-12.6 179 -12.2 177.5 -11.9 176.6C-11.6 175.6 -11.3 174.6 -11 173.7C-10.7 172.7 -10.2 171.3 -10 170.9" stroke="#18861a" stroke-width="1" opacity="0.3"/><path d="M-23.5 198.8C-23.6 198.4 -23.6 197.1 -23.7 196.3C-23.7 195.5 -23.7 194.7 -23.7 193.9C-23.8 193 -23.8 191.8 -23.8 191.4" stroke="#0f5410" stroke-width="1.2" opacity="0.2"/><path d="M-12.1 106C-11.7 105.4 -10.7 103.4 -10 102.2C-9.3 100.9 -8.6 99.6 -7.8 98.3C-7.1 97.1 -5.9 95.2 -5.5 94.6" stroke="#0b420d" stroke-width="0.9" opacity="0.3"/><path d="M15.4 139.4C15.9 138.4 17.6 135.2 18.8 133.2C20 131.2 21.3 129.3 22.7 127.4C24 125.5 26.2 122.8 26.9 121.9" stroke="#23c727" stroke-width="1" opacity="0.4"/><path d="M54.4 306.6C53.4 306.3 50.6 305.5 48.7 304.9C46.9 304.4 45 303.7 43.2 303.1C41.3 302.4 38.6 301.3 37.7 300.9" stroke="#105e12" stroke-width="0.9" opacity="0.4"/><path d="M-59.1 208.6C-59.1 207.8 -59.2 205.1 -59.2 203.4C-59.2 201.7 -59.2 199.9 -59.2 198.2C-59.2 196.5 -59.1 193.9 -59 193.1" stroke="#0e5010" stroke-width="1" opacity="0.4"/><path d="M-17.6 237.8C-18 237.3 -19 236 -19.6 235.1C-20.3 234.1 -20.9 233.2 -21.5 232.3C-22.2 231.4 -23.1 229.9 -23.4 229.5" stroke="#0f5611" stroke-width="0.8" opacity="0.4"/><path d="M118.6 304.3C117.4 304.2 113.8 304.1 111.4 304C109 303.8 106.7 303.6 104.3 303.3C102 303 98.5 302.4 97.3 302.2" stroke="#0d4a0e" stroke-width="1.5" opacity="0.3"/><path d="M-18.8 207.3C-18.9 206.5 -19.4 204.2 -19.6 202.6C-19.9 201 -20.1 199.5 -20.3 197.9C-20.6 196.4 -20.8 194 -20.9 193.2" stroke="#0c460e" stroke-width="0.7" opacity="0.4"/><path d="M-19.2 249C-19.7 248.1 -21.2 245.4 -22.2 243.6C-23.2 241.8 -24.1 239.9 -24.9 238.1C-25.8 236.2 -27 233.4 -27.4 232.4" stroke="#0c470e" stroke-width="1.1" opacity="0.4"/><path d="M35 223.7C34.5 223.3 33.1 222.1 32.1 221.2C31.2 220.4 30.3 219.5 29.4 218.6C28.5 217.7 27.2 216.4 26.7 215.9" stroke="#147317" stroke-width="1" opacity="0.3"/><path d="M-23.7 166.3C-23.8 165.6 -24.3 163.5 -24.5 162.1C-24.7 160.7 -25 159.2 -25.2 157.8C-25.4 156.4 -25.6 154.2 -25.7 153.4" stroke="#0c430d" stroke-width="0.9" opacity="0.2"/><path d="M10.9 165C11.1 164 11.6 161 12.1 159C12.6 157 13.1 155.1 13.7 153.2C14.3 151.2 15.4 148.4 15.7 147.5" stroke="#0f5711" stroke-width="1.1" opacity="0.4"/><path d="M-49.4 175.2C-49.3 174.3 -48.9 171.5 -48.6 169.7C-48.3 167.9 -48 166.2 -47.6 164.4C-47.3 162.6 -46.7 160 -46.5 159.1" stroke="#0d4c0f" stroke-width="0.8" opacity="0.3"/><path d="M91 296.6C90.4 296.7 88.6 296.8 87.3 296.9C86 297 84.8 297.1 83.5 297.2C82.3 297.3 80.4 297.3 79.7 297.3" stroke="#0a3d0c" stroke-width="1.6" opacity="0.4"/><path d="M14 307.9C13.2 307.5 11 306.2 9.5 305.2C8 304.3 6.5 303.4 5.1 302.4C3.6 301.4 1.5 299.9 0.8 299.4" stroke="#0f5611" stroke-width="1.8" opacity="0.4"/><path d="M0.2 142.4C0.3 141.6 0.8 139.2 1.2 137.6C1.6 136 2 134.4 2.4 132.8C2.9 131.3 3.7 128.9 3.9 128.2" stroke="#198e1c" stroke-width="0.6" opacity="0.4"/><path d="M-0.7 258.8C-1.2 258.2 -2.8 256.2 -3.8 254.9C-4.9 253.5 -5.9 252.2 -6.9 250.8C-7.9 249.4 -9.3 247.3 -9.8 246.7" stroke="#0c440d" stroke-width="1.2" opacity="0.2"/><path d="M-13.9 206.2C-14.2 205.5 -15 203.3 -15.5 201.8C-16 200.3 -16.4 198.9 -16.8 197.4C-17.3 195.9 -17.8 193.6 -18 192.8" stroke="#178119" stroke-width="1.7" opacity="0.2"/><path d="M-36.8 223.1C-36.9 222.7 -37.2 221.4 -37.4 220.5C-37.6 219.6 -37.8 218.7 -38 217.9C-38.2 217 -38.4 215.7 -38.5 215.3" stroke="#0c450d" stroke-width="0.7" opacity="0.3"/><path d="M37.7 318.3C36.7 317.9 33.4 316.8 31.3 315.9C29.2 315.1 27 314.2 24.9 313.3C22.8 312.4 19.7 310.8 18.7 310.4" stroke="#0b410d" stroke-width="1.6" opacity="0.3"/><path d="M-59.2 189.7C-59.2 188.6 -59.4 185.5 -59.5 183.5C-59.5 181.4 -59.5 179.4 -59.5 177.3C-59.5 175.3 -59.4 172.2 -59.3 171.2" stroke="#105e12" stroke-width="1.7" opacity="0.4"/><path d="M-14.4 171C-14.3 170.2 -13.8 167.8 -13.4 166.2C-13.1 164.6 -12.6 163 -12.2 161.4C-11.8 159.8 -11 157.5 -10.8 156.7" stroke="#0b3f0c" stroke-width="0.7" opacity="0.2"/><path d="M30.3 229.9C29.7 229.2 27.7 226.9 26.5 225.3C25.3 223.8 24.1 222.1 23 220.5C21.9 218.8 20.3 216.3 19.8 215.4" stroke="#157617" stroke-width="1.4" opacity="0.2"/><path d="M-16.8 171C-16.7 170.3 -16.3 168 -16 166.6C-15.7 165.1 -15.4 163.6 -15 162.2C-14.7 160.7 -14.1 158.6 -13.9 157.9" stroke="#17841a" stroke-width="1.5" opacity="0.3"/><path d="M12 233.1C11.6 232.3 10.4 229.9 9.6 228.2C8.8 226.6 8.1 224.9 7.4 223.2C6.7 221.6 5.8 219 5.5 218.2" stroke="#0a3c0c" stroke-width="0.9" opacity="0.4"/><path d="M37.5 235.8C37.2 235.3 36.3 233.9 35.7 232.9C35.1 231.9 34.5 230.9 34 229.9C33.4 228.9 32.6 227.4 32.4 226.9" stroke="#0f5410" stroke-width="1.1" opacity="0.2"/><path d="M115.9 254.2C115.3 254.2 113.7 254.5 112.6 254.6C111.6 254.7 110.5 254.8 109.4 254.9C108.3 254.9 106.7 255 106.1 255" stroke="#0c450d" stroke-width="0.6" opacity="0.3"/><path d="M-10.4 186.9C-10.4 186.5 -10.5 185.2 -10.5 184.3C-10.6 183.4 -10.6 182.5 -10.6 181.6C-10.7 180.7 -10.7 179.4 -10.7 179" stroke="#116013" stroke-width="0.6" opacity="0.4"/><path d="M121.8 265.9C121 265.9 118.5 265.9 116.9 265.9C115.3 265.8 113.7 265.7 112.1 265.5C110.5 265.4 108.1 265 107.3 265" stroke="#198c1c" stroke-width="1" opacity="0.2"/><path d="M15 177C14.8 176.4 14.3 174.5 13.9 173.3C13.6 172 13.3 170.7 13 169.4C12.8 168.2 12.4 166.2 12.3 165.6" stroke="#17841a" stroke-width="1.7" opacity="0.2"/><path d="M76.8 266.7C75.7 266.4 72.5 265.7 70.4 265.1C68.3 264.5 66.2 263.9 64.1 263.2C62 262.4 59 261.2 57.9 260.8" stroke="#126614" stroke-width="0.7" opacity="0.4"/><path d="M-47.7 242C-47.7 241.6 -47.6 240.2 -47.6 239.3C-47.6 238.4 -47.5 237.5 -47.5 236.6C-47.4 235.7 -47.3 234.4 -47.3 233.9" stroke="#0b3f0c" stroke-width="0.8" opacity="0.2"/><path d="M18.2 193.7C18.1 192.5 17.5 189.1 17.3 186.7C17 184.4 16.9 182.1 16.8 179.8C16.8 177.5 17 174.1 17 172.9" stroke="#26d42a" stroke-width="1.2" opacity="0.4"/><path d="M-43.2 96.7C-42.9 96.3 -42.1 95.3 -41.6 94.6C-41 93.9 -40.5 93.2 -39.9 92.6C-39.4 91.9 -38.5 90.9 -38.2 90.6" stroke="#0f5511" stroke-width="1.7" opacity="0.2"/><path d="M0 145.2C0.1 144.7 0.6 143.3 0.9 142.4C1.3 141.4 1.6 140.5 2 139.6C2.4 138.6 2.9 137.3 3.1 136.8" stroke="#116213" stroke-width="1.4" opacity="0.4"/><path d="M6.8 174.8C6.6 173.8 5.9 170.7 5.6 168.6C5.3 166.6 5.1 164.5 4.9 162.4C4.7 160.3 4.6 157.1 4.6 156.1" stroke="#18871b" stroke-width="1.7" opacity="0.3"/><path d="M84.1 282C83.1 281.8 79.9 281.2 77.9 280.7C75.8 280.3 73.7 279.7 71.7 279.1C69.7 278.5 66.6 277.5 65.6 277.2" stroke="#0f5410" stroke-width="0.8" opacity="0.4"/><path d="M-28.1 187.4C-28.2 186.7 -28.5 184.5 -28.7 183C-28.8 181.6 -29 180.1 -29.1 178.7C-29.2 177.2 -29.3 175.1 -29.3 174.3" stroke="#0c430d" stroke-width="1.5" opacity="0.2"/><path d="M-17.1 170.6C-16.9 169.6 -16.4 166.7 -16 164.8C-15.6 162.8 -15.1 160.9 -14.6 159C-14.1 157.2 -13.2 154.4 -13 153.5" stroke="#0e4e0f" stroke-width="1.6" opacity="0.3"/><path d="M-49.7 124.7C-49.7 123.9 -49.5 121.5 -49.4 119.9C-49.3 118.2 -49.1 116.6 -48.9 115C-48.7 113.4 -48.4 111 -48.3 110.2" stroke="#105b12" stroke-width="1" opacity="0.3"/><path d="M51.7 241.5C50.9 240.6 48.2 238.1 46.6 236.3C45 234.5 43.4 232.6 42 230.7C40.5 228.8 38.6 225.9 37.9 224.9" stroke="#1a931d" stroke-width="0.7" opacity="0.2"/><path d="M76.7 302.1C76.3 301.8 75.1 301.1 74.3 300.6C73.5 300.1 72.7 299.6 71.9 299.1C71.2 298.6 70 297.9 69.6 297.6" stroke="#0f5711" stroke-width="1.3" opacity="0.2"/><path d="M16 117.6C16.3 117.1 17.1 115.5 17.7 114.5C18.2 113.5 18.8 112.4 19.5 111.4C20.1 110.4 21 108.9 21.3 108.4" stroke="#147116" stroke-width="1.5" opacity="0.3"/><path d="M-20.2 253.4C-20.4 252.8 -21 251.2 -21.4 250.1C-21.8 249 -22.1 248 -22.5 246.9C-22.8 245.8 -23.3 244.1 -23.5 243.6" stroke="#0b3f0c" stroke-width="1.6" opacity="0.2"/><path d="M27.7 124.6C27.8 124 28.2 122.2 28.5 121.1C28.9 119.9 29.2 118.8 29.6 117.6C29.9 116.4 30.6 114.7 30.8 114.1" stroke="#0d490e" stroke-width="1.2" opacity="0.2"/><path d="M-39 227.4C-39.5 226.5 -40.9 224 -41.8 222.3C-42.6 220.6 -43.5 218.9 -44.3 217.2C-45.1 215.5 -46.3 212.8 -46.7 211.9" stroke="#116113" stroke-width="1" opacity="0.3"/><path d="M120.2 285C119.1 285.1 115.8 285.7 113.6 286C111.4 286.3 109.2 286.5 106.9 286.7C104.7 286.8 101.4 286.9 100.2 286.9" stroke="#178019" stroke-width="0.8" opacity="0.3"/><path d="M-16.2 180.1C-16.2 179.6 -16.1 178.2 -16.1 177.3C-16 176.4 -15.9 175.4 -15.8 174.5C-15.8 173.6 -15.6 172.2 -15.6 171.7" stroke="#116313" stroke-width="0.7" opacity="0.3"/><path d="M13 281.4C12.3 280.8 9.9 279.2 8.4 278C6.9 276.8 5.4 275.6 4 274.4C2.5 273.2 0.4 271.2 -0.3 270.6" stroke="#0c450d" stroke-width="1" opacity="0.4"/><path d="M33.6 251.9C33.3 251.5 32.4 250.3 31.9 249.5C31.3 248.7 30.8 247.9 30.3 247C29.8 246.2 29.1 245 28.8 244.6" stroke="#0d4d0f" stroke-width="1.7" opacity="0.4"/><path d="M-29.9 81.8C-29.5 80.9 -28.5 78.3 -27.7 76.5C-27 74.8 -26.2 73.1 -25.4 71.3C-24.5 69.6 -23.2 67.1 -22.8 66.2" stroke="#0e5210" stroke-width="1.1" opacity="0.4"/><path d="M-40.1 93.7C-39.8 92.9 -39 90.6 -38.4 89.1C-37.8 87.5 -37.2 86 -36.6 84.5C-35.9 82.9 -34.9 80.6 -34.6 79.9" stroke="#0d4d0f" stroke-width="1.8" opacity="0.4"/><path d="M7.6 123.2C8 122.8 9.2 121.5 10 120.7C10.8 119.9 11.6 119.1 12.5 118.3C13.3 117.5 14.6 116.4 15 116" stroke="#198f1c" stroke-width="1" opacity="0.3"/><path d="M147 296.4C146 296.6 142.9 297.3 140.9 297.7C138.9 298 136.8 298.4 134.8 298.7C132.8 299 129.7 299.3 128.7 299.4" stroke="#0e4e0f" stroke-width="1" opacity="0.4"/><path d="M57.7 306.7C57.3 306.4 56 305.7 55.1 305.2C54.2 304.7 53.4 304.2 52.5 303.7C51.7 303.2 50.4 302.4 50 302.2" stroke="#0d4d0f" stroke-width="0.7" opacity="0.2"/><path d="M-42.2 193.4C-42.6 192.2 -43.8 188.7 -44.6 186.3C-45.3 183.9 -46 181.4 -46.6 179C-47.2 176.5 -47.9 172.8 -48.2 171.5" stroke="#116113" stroke-width="1" opacity="0.2"/><path d="M28 244.4C27.4 243.8 25.6 242 24.4 240.8C23.2 239.6 22.1 238.3 21 237C19.8 235.8 18.2 233.8 17.7 233.1" stroke="#126414" stroke-width="1.6" opacity="0.2"/><path d="M-10.9 131C-10.4 130 -9.1 127 -8.2 125C-7.2 123.1 -6.2 121.1 -5.2 119.2C-4.1 117.4 -2.5 114.6 -1.9 113.7" stroke="#0e4f0f" stroke-width="1.6" opacity="0.2"/><path d="M26.8 222.1C26.4 221.3 25.4 218.9 24.7 217.4C24 215.8 23.4 214.2 22.9 212.5C22.3 210.9 21.6 208.5 21.4 207.7" stroke="#0c430d" stroke-width="0.8" opacity="0.4"/><path d="M1.1 104.6C1.5 103.6 2.7 100.5 3.6 98.5C4.5 96.5 5.5 94.5 6.5 92.5C7.5 90.6 9.1 87.6 9.7 86.7" stroke="#0b3e0c" stroke-width="0.8" opacity="0.2"/><path d="M52.2 273.5C51.7 273.3 50.5 272.8 49.7 272.4C48.9 272 48.1 271.6 47.3 271.3C46.5 270.9 45.3 270.3 44.9 270.1" stroke="#0c440d" stroke-width="1" opacity="0.2"/><path d="M10.4 287.6C10.1 287.1 9 285.4 8.3 284.4C7.6 283.3 6.9 282.2 6.2 281.1C5.6 280 4.6 278.3 4.3 277.7" stroke="#0e4e0f" stroke-width="1.4" opacity="0.4"/><path d="M-58.2 150.2C-58 149.7 -57.3 147.9 -56.8 146.7C-56.3 145.6 -55.8 144.4 -55.3 143.3C-54.8 142.1 -54 140.5 -53.7 139.9" stroke="#105c12" stroke-width="1.5" opacity="0.3"/><path d="M-27.3 250.1C-27.5 249.5 -28.2 247.7 -28.6 246.4C-29 245.2 -29.4 244 -29.7 242.7C-30.1 241.5 -30.6 239.6 -30.8 239" stroke="#0a3c0c" stroke-width="1.4" opacity="0.4"/><path d="M-11.5 282C-12.3 281.4 -14.7 279.7 -16.3 278.6C-17.9 277.4 -19.5 276.2 -21.1 275C-22.6 273.7 -24.9 271.8 -25.7 271.2" stroke="#105e12" stroke-width="1.3" opacity="0.3"/><path d="M101.7 292.6C101.1 292.7 99.4 292.9 98.3 293C97.2 293.2 96.1 293.3 94.9 293.4C93.8 293.5 92.1 293.5 91.5 293.6" stroke="#178019" stroke-width="1.3" opacity="0.3"/><path d="M27.5 248.3C26.7 247.6 24.4 245.3 23 243.7C21.5 242.1 20.1 240.4 18.7 238.7C17.4 237.1 15.5 234.4 14.8 233.6" stroke="#1c9f1f" stroke-width="0.8" opacity="0.2"/><path d="M28.2 268.1C27.2 267.5 24.3 265.8 22.3 264.6C20.4 263.3 18.5 262.1 16.6 260.7C14.8 259.4 12.1 257.2 11.1 256.5" stroke="#167b18" stroke-width="1.3" opacity="0.2"/><path d="M-6.3 237.8C-6.7 237 -7.7 234.8 -8.4 233.3C-9 231.8 -9.7 230.3 -10.3 228.8C-10.8 227.3 -11.7 225 -11.9 224.2" stroke="#126414" stroke-width="1.7" opacity="0.2"/><path d="M32.3 287C31.5 286.8 29.1 285.9 27.5 285.3C25.9 284.7 24.3 284 22.7 283.3C21.1 282.7 18.7 281.5 17.9 281.2" stroke="#126414" stroke-width="1.4" opacity="0.2"/><path d="M96.8 330.9C96.1 331 93.9 331.3 92.4 331.5C91 331.7 89.5 331.9 88 332C86.5 332.2 84.2 332.4 83.5 332.5" stroke="#0d490e" stroke-width="0.9" opacity="0.4"/><path d="M39.5 320.6C38.8 320.2 36.9 319.1 35.6 318.3C34.4 317.5 33.2 316.8 31.9 315.9C30.7 315.1 28.9 313.9 28.3 313.5" stroke="#0b410d" stroke-width="0.9" opacity="0.4"/><path d="M88.2 256.8C87.7 256.5 86.1 255.7 85.1 255.1C84 254.5 83 253.9 82 253.3C81 252.6 79.6 251.7 79.1 251.3" stroke="#198c1c" stroke-width="1.5" opacity="0.4"/><path d="M-30.7 150C-30.6 149.6 -30.1 148.4 -29.8 147.7C-29.5 146.9 -29.2 146.1 -28.8 145.4C-28.5 144.6 -28 143.5 -27.8 143.1" stroke="#126614" stroke-width="0.7" opacity="0.2"/><path d="M71.2 285.2C70.4 284.8 68.1 283.5 66.6 282.6C65.1 281.7 63.6 280.8 62.1 279.8C60.7 278.9 58.6 277.4 57.9 276.9" stroke="#0e4e0f" stroke-width="1.7" opacity="0.2"/><path d="M98.2 329.4C97 329.4 93.3 329.5 90.8 329.5C88.3 329.4 85.8 329.3 83.3 329.2C80.8 329 77 328.7 75.8 328.6" stroke="#0f5711" stroke-width="0.8" opacity="0.2"/><path d="M99.3 315.1C98.8 315.2 97.1 315.6 95.9 315.8C94.8 316 93.7 316.2 92.5 316.4C91.3 316.7 89.6 316.9 89 317" stroke="#116113" stroke-width="0.7" opacity="0.4"/><path d="M35.5 274.5C35.1 274.2 34 273.3 33.2 272.7C32.4 272 31.7 271.4 30.9 270.8C30.2 270.1 29.1 269.1 28.7 268.8" stroke="#167c18" stroke-width="0.9" opacity="0.2"/><path d="M112.8 261.9C112.1 262.1 110.1 262.9 108.7 263.3C107.3 263.8 105.9 264.2 104.5 264.6C103 265 100.9 265.5 100.1 265.7" stroke="#0c460e" stroke-width="0.8" opacity="0.4"/><path d="M-41.8 77.6C-41.4 77.1 -40.2 75.7 -39.5 74.7C-38.7 73.8 -37.9 72.8 -37.1 71.9C-36.3 71 -35.1 69.6 -34.7 69.2" stroke="#126414" stroke-width="1.2" opacity="0.4"/><path d="M142.8 267.5C142.2 267.8 140.3 268.9 139.1 269.5C137.9 270.2 136.6 270.9 135.3 271.5C134.1 272.1 132.1 273 131.5 273.3" stroke="#1a931d" stroke-width="1.3" opacity="0.3"/><path d="M19.5 262.9C18.8 262.4 16.6 261.1 15.1 260.1C13.7 259.1 12.2 258.1 10.8 257.1C9.4 256 7.3 254.4 6.6 253.8" stroke="#0c480e" stroke-width="1.3" opacity="0.4"/><path d="M97.8 323.7C96.6 323.8 92.9 324.1 90.4 324.2C87.9 324.3 85.5 324.3 83 324.3C80.5 324.3 76.8 324.1 75.5 324.1" stroke="#0c430d" stroke-width="0.9" opacity="0.2"/><path d="M27.7 121.4C28 120.7 28.8 118.5 29.4 117.1C30 115.7 30.6 114.2 31.3 112.8C31.9 111.4 33 109.3 33.4 108.6" stroke="#0d4d0f" stroke-width="0.6" opacity="0.4"/><path d="M-22.1 84.5C-21.6 83.6 -19.9 81.2 -18.8 79.6C-17.7 78 -16.5 76.4 -15.3 74.8C-14.1 73.3 -12.2 71 -11.6 70.2" stroke="#105c12" stroke-width="0.7" opacity="0.3"/><path d="M109.3 285.7C108.4 285.6 105.6 285.5 103.8 285.4C102 285.2 100.2 285 98.4 284.8C96.6 284.6 93.9 284.1 93 284" stroke="#126714" stroke-width="1" opacity="0.2"/><path d="M2.4 214.6C1.8 213.5 -0.3 210.3 -1.5 208.2C-2.8 206 -4 203.7 -5.1 201.4C-6.2 199.2 -7.7 195.6 -8.2 194.4" stroke="#1a941d" stroke-width="1.6" opacity="0.2"/><path d="M58 330.5C57.6 330.4 56.1 330 55.1 329.7C54.2 329.4 53.2 329.1 52.2 328.8C51.3 328.5 49.8 328 49.4 327.9" stroke="#105b12" stroke-width="1" opacity="0.3"/><path d="M12.4 115.6C12.8 115 14.1 112.9 14.9 111.6C15.8 110.3 16.7 109 17.6 107.8C18.5 106.5 20 104.6 20.4 104" stroke="#157a18" stroke-width="1.6" opacity="0.4"/><path d="M20.3 262.4C19.7 261.6 18 259.4 17 257.8C15.9 256.3 14.9 254.7 13.9 253.1C12.9 251.6 11.6 249.2 11.1 248.4" stroke="#0f5811" stroke-width="1.6" opacity="0.4"/><line x1="149.8" y1="243.1" x2="159.4" y2="253.5" stroke="#2bd92b" stroke-width="1" opacity="0.4"/><line x1="66.3" y1="244.5" x2="61.2" y2="262.2" stroke="#25bc25" stroke-width="1.1" opacity="0.4"/><line x1="115.5" y1="252.8" x2="115" y2="269.1" stroke="#29ce29" stroke-width="0.9" opacity="0.3"/><line x1="118.6" y1="253.4" x2="124.9" y2="261.5" stroke="#177617" stroke-width="1.1" opacity="0.3"/><line x1="100.8" y1="255.6" x2="90.1" y2="270.1" stroke="#26bf26" stroke-width="1.6" opacity="0.5"/><line x1="111.2" y1="254.5" x2="115.2" y2="262.4" stroke="#29ce29" stroke-width="1.3" opacity="0.5"/><line x1="126.8" y1="249.9" x2="144" y2="268.4" stroke="#23af23" stroke-width="0.8" opacity="0.4"/><line x1="154.4" y1="240" x2="162.1" y2="247.4" stroke="#1c8c1c" stroke-width="1.3" opacity="0.4"/><line x1="91.4" y1="253.6" x2="75.5" y2="266.4" stroke="#187818" stroke-width="1.5" opacity="0.3"/><line x1="111.2" y1="254.8" x2="128.6" y2="276.6" stroke="#177517" stroke-width="1.3" opacity="0.4"/><line x1="64.5" y1="245.4" x2="57.1" y2="255.4" stroke="#1f9c1f" stroke-width="1.7" opacity="0.3"/><line x1="116.1" y1="251.6" x2="105.2" y2="267.7" stroke="#167016" stroke-width="1.3" opacity="0.4"/><line x1="146.2" y1="242.3" x2="151.8" y2="254.1" stroke="#28cc28" stroke-width="1.1" opacity="0.5"/><line x1="88.1" y1="252.4" x2="75.3" y2="261.5" stroke="#1c8e1c" stroke-width="0.9" opacity="0.4"/><line x1="92.5" y1="252.5" x2="79" y2="270.6" stroke="#2ad22a" stroke-width="1.5" opacity="0.3"/><line x1="148.9" y1="241.6" x2="145" y2="251.1" stroke="#1a831a" stroke-width="1" opacity="0.5"/><line x1="62" y1="240.7" x2="59.5" y2="258.4" stroke="#1e991e" stroke-width="1" opacity="0.3"/><line x1="105.1" y1="253.5" x2="119.1" y2="273.2" stroke="#28c928" stroke-width="1.2" opacity="0.4"/><line x1="137.6" y1="246.5" x2="145.7" y2="255.9" stroke="#25ba25" stroke-width="0.9" opacity="0.3"/><line x1="111.1" y1="254" x2="119.9" y2="263.9" stroke="#25ba25" stroke-width="1.5" opacity="0.4"/><line x1="138.6" y1="248.3" x2="140.6" y2="259.6" stroke="#21a921" stroke-width="1.4" opacity="0.4"/><line x1="150" y1="242.6" x2="158" y2="259.6" stroke="#20a320" stroke-width="1.1" opacity="0.5"/></g>
<g clip-path="url(#ccr)">
<rect x="17.2" y="196.1" width="113.7" height="62" fill="#3c0c04"/>
<rect x="17.2" y="196.1" width="113.7" height="62" fill="#f01a0e" filter="url(#rnoise)"/>
<rect x="17.2" y="196.1" width="113.7" height="62" fill="#200602" filter="url(#rnoise2)" opacity="0.3"/>
<rect x="17.2" y="196.1" width="113.7" height="62" fill="url(#rdark)"/>
<g stroke-linecap="round" filter="url(#bl07)"><line x1="103" y1="208.5" x2="97.2" y2="212.3" stroke="#2aa020" stroke-width="1.1" opacity="0.7"/><line x1="109.4" y1="202.5" x2="111" y2="208.7" stroke="#55d030" stroke-width="1.3" opacity="0.4"/><line x1="89" y1="243.7" x2="89.4" y2="248.7" stroke="#88c020" stroke-width="1.1" opacity="0.4"/><line x1="73" y1="231.6" x2="70.9" y2="236.9" stroke="#2aa020" stroke-width="1.3" opacity="0.7"/><line x1="67.8" y1="214.2" x2="69.6" y2="220.6" stroke="#2aa020" stroke-width="1.5" opacity="0.6"/><line x1="91.8" y1="238.9" x2="92.8" y2="242.9" stroke="#55d030" stroke-width="1" opacity="0.7"/><line x1="92.1" y1="217.7" x2="96.8" y2="219.4" stroke="#2aa020" stroke-width="1.5" opacity="0.6"/><line x1="90.2" y1="222.2" x2="85.4" y2="223.6" stroke="#2aa020" stroke-width="0.9" opacity="0.4"/><line x1="85" y1="207.4" x2="84.9" y2="210.6" stroke="#35c028" stroke-width="1.2" opacity="0.5"/><line x1="76.5" y1="227.3" x2="78.6" y2="230.4" stroke="#88c020" stroke-width="1" opacity="0.5"/><line x1="125.7" y1="202.7" x2="121.1" y2="203.4" stroke="#88c020" stroke-width="0.9" opacity="0.6"/><line x1="102.7" y1="210.9" x2="97.4" y2="215.2" stroke="#55d030" stroke-width="1" opacity="0.5"/><line x1="73" y1="215.3" x2="79.1" y2="217.4" stroke="#55d030" stroke-width="1.4" opacity="0.5"/><line x1="82.7" y1="250.7" x2="85.8" y2="255.7" stroke="#55d030" stroke-width="0.8" opacity="0.6"/><line x1="130.5" y1="203.5" x2="126.2" y2="204.9" stroke="#88c020" stroke-width="1.2" opacity="0.7"/><line x1="80.1" y1="241.1" x2="83.5" y2="244.7" stroke="#88c020" stroke-width="0.9" opacity="0.4"/><line x1="80.5" y1="196.2" x2="78" y2="198.1" stroke="#55d030" stroke-width="1.5" opacity="0.7"/><line x1="75.2" y1="198.5" x2="74.2" y2="204.3" stroke="#2aa020" stroke-width="1" opacity="0.5"/><line x1="129.2" y1="237.5" x2="129.4" y2="243.3" stroke="#55d030" stroke-width="0.9" opacity="0.6"/><line x1="114.5" y1="237" x2="116.5" y2="239.1" stroke="#35c028" stroke-width="1.5" opacity="0.5"/><line x1="42.8" y1="200.7" x2="39.5" y2="203.4" stroke="#88c020" stroke-width="1.2" opacity="0.7"/><line x1="81.5" y1="206" x2="79.1" y2="207.4" stroke="#88c020" stroke-width="0.9" opacity="0.4"/></g>
</g>
<path d="M21.8 193C22.2 193.7 22.8 194.8 24.2 197.2C25.6 199.6 27.7 204.2 30 207.6C32.3 211 35.2 214.4 38 217.6C40.8 220.8 43.9 223.6 47 226.6C50.1 229.6 53.3 232.9 56.5 235.5C59.7 238.1 62.7 240.1 66 242C69.3 243.9 73 245.5 76.4 246.9C79.8 248.3 83 249.4 86.5 250.3C90 251.2 94 251.8 97.3 252.1C100.5 252.4 103.2 252.4 106 252.2C108.8 252 111.9 251.3 114.4 250.7C116.9 250.1 119 249.4 121 248.6C123 247.8 124.7 247 126.7 246C128.7 245 131.9 243.2 133 242.6" fill="none" stroke="#fff" stroke-width="3.3" stroke-dasharray="3.1 2.1"/>
</g>
<text x="21.4" y="292.5" font-size="10" fill="#6da56b">CAF#1</text>
<text x="21.4" y="304.4" font-size="10" fill="#e01a14">Cancer cell</text>
<line x1="106.2" y1="304.8" x2="123.9" y2="304.8" stroke="#fff" stroke-width="2"/>
<clipPath id="ccl2"><rect x="137.2" y="196.1" width="113.7" height="112.9"/></clipPath>
<g clip-path="url(#ccl2)">
<rect x="137.2" y="196.1" width="113.7" height="112.9" fill="#000"/>
<path d="M171.1 214.4l1.3 1.3 1.3 0.4 1.1 0.2 1.3 -0.4 1.1 -0.2 1.1 -0.7 1.5 -0.3 1.5 0 0.8 -0.2 0.8 -0.5 1.1 -1 1 -0.5 1.6 -0.6 0.8 -1.5 0 -1.2 -0.1 -0.9 0.1 -0.9 -0.9 -1.8 -1.3 -0.6 -0.9 -0.1 -1.2 -0.6 -1.9 -0.8 -0.9 -1.1 -0.4 -1.1 0.2 -0.8 -0.2 -1.4 1.3 -1.5 1.3 -1.5 1.2 -0.1 1.4 0.1 1 0 1.5 0.5 0.1 0.9 -1.1 1.7 -1.1 1.4 -1.1 1 -1.3 1 -0.3 0.9 -0.1 2 0.4 0.7 -0.4 2 -0.6 1.2 -0.5 1.2 0.4 1.4 0.4 1.1 0.8 1.6 0.5 1 -0.1 1.3 0.8 1.8 1.2 0.7 0.7 0.6 0.5 1 1 0.5M150.9 202.2l0.9 -1.1 0.3 -1.5 0.5 -1.2 1.1 -1.5 0.2 -1.3 0.9 -1.2 0.3 -0.9 0.7 -0.5 0.4 -1.3 0.9 -1 0.3 -1.4 -0.8 -1.4 -0.6 -1.2 0.1 -1.1 0.3 -0.7 -0.7 -2 -0.6 -0.7 -0.6 -1.3 -0.8 -0.6 -1.2 -1.6 -0.6 -1.4 -0.1 -2.1 0.3 -0.9 0.1 -1.5 -0.9 -1.3 -1 -1.2 -1 -1.1 -1 -0.5 -0.5 -0.9 -0.5 -1.1 -0.2 -1.9 0.3 -1.8 -0.1 -0.9 -1.5 -1.1 -1 -0.4 -1.6 -0.5 -1.8 -0.5 -1.1 -0.4 -1.3 -0.9 -0.9 -0.7 -1.2 -0.4M153 207.6l-0.7 -0.6 -0.8 -1.8 -1 -1.7 -0.1 -1.1 0.5 -1.6 0 -0.9 0.6 -1.1 0.3 -1.7 -0.1 -0.9 -0.5 -1.5 0.8 -1 0.7 -0.6 0.8 -1 1.2 -0.9 0.6 -1 1.1 -1 1.4 -1.1 0.5 -1.3 1 -1.6 1 -1 0.7 -1.8 0.9 -0.9 0.3 -0.8 1.1 -1 0.4 -1.4 0.4 -1.3 0.5 -2 -0.1 -1 0.3 -1.8 -0.2 -1.1 0.9 -1.7 1.3 -1.4 0.8 0.1 0.9 -0.9 1.4 -0.2 1.6 0.7 1.1 1.3 1.2 -1.5 1 -1.7 0.4 -0.8 1.1 -0.4 1.6 0.3 1.5 0.8 0.7 0.4 0.9 -0.6 1.3 -1.1 1.4 -1.2 0.3 -1.7 0.6 -1.3 1.1 -1.8 0.5 -0.7 1.9 -0.6 1.1 -1.2 0.8 -0.6 1.4 -1.3 -0.1 -1.2 -0.1 -1.9 0.3 -1.4 -0.4 -1.6 0.3 -1.2 -0.5 -1.8 0.5 -1 1.7 -0.2 1.5 0.7 1.1 -0.8 1.1 0.1 1.4 0.7 0.9 0.9 0.2 1.4 0.6 1.5M176.1 229.7l-1.7 -0.3 -1.5 1.2 -1.5 0.7 -1.7 0.9 -0.9 0.3 -1.3 1.5 -0.8 1.8 0.8 0.8 -0.6 1.5 -0.3 1 -0.3 1.3 0 1 0.3 1.2 0.4 1.2 1.5 0.6 1.7 -0.5 1.6 0 1 0.6 0.6 1 0.5 0.9 -0.3 0.8 -1.2 1.4 -0.9 0.8 -1 0.2 -1.1 1 -1.4 0.1 -1.5 0.2 -1.7 0.2 -1.4 0.7 -1.2 -0.2 -1.2 -0.3 -1.4 0.2 -1.3 0.6 -0.8 1.1 -1.8 0.3 -0.9 0 -1.2 -0.4 -0.8 -0.1 -0.7 -1.1 -0.6 -0.6 -0.9 -0.7 -0.9 -0.1 -1.1 1.7 -0.9 0.5 -1.3 0.2 -0.8 0.3 -2 0.7 -1 -0.4 -1.2 -1.3 -0.9 -0.7 -1 -1.4 -0.3 -1.1 0 -1 0.6 -1.8 1.3 -0.6 1.6 -1 0.1 -1.8 0.6 -1.2 0.6 -1.4 0.7 -0.6 1.3 -1.4M179.7 216.2l-0.4 1.8 0 1.7 1.2 1.4 0.3 0.8 0.1 2.1 0.7 1.7 -0.5 1.7 -0.7 1.1 -1.7 0.6 -1 0.5 -1.3 1.4 -1.4 1.5 -0.8 0.4 -1.8 1 -0.4 0.7 -1.5 1.2 -0.9 1.8 -1.5 1.4 -0.3 1.2 0.3 0.9 -0.8 1.9 -1.6 0.8 -1 -1.3 -1.1 -1.3 -0.5 -1.4 -0.3 -1.1 -0.8 -0.9 -0.1 -1.9 -0.1 -1.5 -0.4 -1.3 -0.3 -1.3 -0.7 -1.4 0.5 -1.8 -0.2 -1.7 0 -1.4 -0.1 -0.9 -0.4 -1 -1.3 -1.1 -0.9 -0.6 -1.9 -0.3 -0.5 0.6 -1 0.3 -1.6 -0.1 -1.3 0.1 -1.4 0.5 -1.4 -0.3 -0.8 -0.3 -0.9 -0.9 -1.1 -1.6 -0.4 -0.8 -0.6 -0.7 -1.5 -1.2M151 206.8l1.4 -0.4 1 -0.5 1.1 -0.9 0.5 -1.8 0.8 -0.9 0.9 -1.7 1.5 -0.6 1.4 0 1.5 1 0.8 0.6 0.7 0.7 0.3 1 0.7 1.7 0.1 1.3 0.3 1.4 0.3 1.9 -0.5 1.5 -0.2 1.7 0.1 1.9 0.4 1.4 0.6 1.8 -0.5 0.6 0.1 1.3 -0.4 1.9 0.3 0.9 -0.3 1.9 -0.4 0.9 -0.2 2 -0.8 0.9 -0.9 0.3 -1.6 1.2 -1.3 0.7 -0.5 0.7 -0.5 0.9 -0.6 0.8 -1.5 0.6 -0.7 1.2 -1.3 -0.2 -2 -0.3 -1.5 -1.1 -0.9 -0.9 -1.4 -1.1 -1.1 -0.6 -1.1 -0.6 -0.9 -0.1 -1.3 0.7 -0.7 0.7 -1.3 1.4 -1.3 1.1 -0.6 1 -0.3 1 -0.6 2M178.1 212.4l1.5 0.8 1.1 0.1 1.3 -0.6 0.5 -1.2 1 -1.6 0.7 -1 0 -1.3 -0.8 -0.5 -0.1 -1.9 -0.4 -0.8 -1.3 -1.6 -1.5 -0.8 -0.8 -0.8 -0.3 -1.5 -0.3 -1.6 -1.5 -0.6 -1.5 -0.8 -0.7 -0.4 -0.8 -1.8 0.4 -1.1 0.2 -1 0.6 -0.5 0.5 -1.3 -0.7 -1.8 0.3 -1.3 1.1 -0.7 1.8 -0.8 1.3 -1.3 1.3 -1.1 1 -1.1 1.1 -1.7 1.7 -0.1 1 -0.8 0.9 -0.2 1.8 -0.2 0.8 -0.2 1.3 0.3 1.9 0 1 -1.8M140.5 210.2l-0.4 -0.7 -0.2 -1.9 -0.9 -1.8 0.5 -0.8 0.6 -1.7 0.5 -0.8 1.2 -1.4 0.9 -0.7 0.8 -1.3 1.2 -0.6 1.4 -0.1 1.9 -0.3 1.9 -0.4 1.2 0.2 0.8 0.9 1.2 0.3 0.7 1.3 -0.2 1.2 -0.5 1.9 -0.5 0.8 0.1 1.4 0.4 1.4 1 1.6 0.7 1.8 1.3 1.5 0.8 0.7 0.9 1.6 -0.1 1.6 -0.9 0.4 -1.1 -0.6 -0.4 -1.7 -0.2 -0.9 0 -0.8 -0.7 -1.7 -0.4 -1.3 -0.6 -1.9 -0.9 -1.6 -0.2 -1.3 1.5 -1.3 1.2 -1.2 1.4 -0.7 1.4 0.3 1 -0.2 1.9 -0.6 1.8 -1 1.4 -0.5 0.9 -0.5 0.7 -1 1.5 -1.3 0.5 -1.1M193.8 206.5l0 -2.1 -0.1 -1.6 -1.4 -1.3 -1.1 -0.8 -1 -0.5 -1.9 0.8 -1.8 -0.1 -1.6 -1 -1.2 0.1 -1.2 0.1 -1.7 0 -1.8 -1 -1.1 -1.4 -0.6 -1.9 -0.6 -1.4 -0.7 -0.8 -1.6 -1.3 -0.6 -1.2 0.7 -1.3 0.7 -1 1.4 -1.3 0.5 -0.6 1.2 -1.4 0.7 -1.4 0.6 -1.2 0.8 -1.5 -0.1 -0.9 -0.2 -1.8 -0.4 -0.7 -1.3 -0.9 -1.5 0.4 -1.3 0.9 -1 1.6 0.1 1.7 0.7 0.7 0.9 0.9 0 1.2 -0.8 1.3 -0.2 0.8 -1.1 1 -0.9 -0.1 -0.8 -1.1 -1 -1.1 -0.2 -1.2 -0.5 -1 -0.2 -2 -0.9 -1.1 0.2 -1.5 0.4 -1.5 0.4 -1.5 0.3 -1.8 1.2 -1.1 0.8 -1.6 1.1 -1.1 0.8 -0.4 0.9 -1.3 0.7 -0.6 2 -0.7M217.6 255.6l-0.6 1.3 -1.2 1.1 -1.1 0.2 -2 -0.5 -1.5 -0.9 -1.2 -0.5 -0.6 -1.9 0.8 -1.7 -0.8 -1.2 -1.7 0.2 -1.4 1.4 0.2 1.1 -0.2 1.6 -0.8 0.9 -1.7 0.2 -0.9 1.3 -0.9 1.6 -0.1 0.9 -0.8 0.9 -0.4 1 0.3 1.6 0.4 0.8 0.2 1.4 0.8 1.6 1 0.6 1.4 0.3 1.5 1.1 0.7 0.7 -0.1 1.3 -0.9 1.2 0.2 1.2 1 1.5 -0.6 1 -0.7 1.5 -0.2 1.2 -1.4 0.8 -1 1.5 -1.1 0.1 -1.1 -0.1 -0.3 1.1 -0.9 0 -1.5 1 -1.8 0.4 -1.1 0.5 -1.4 0.3 -0.6 0.8M227.4 253l0.9 0.3 1 0.5 1.3 0.4 1.7 0.8 0.6 1.6 0.5 0.7 0.2 1.4 -0.4 1.6 0.1 1 -0.9 1.3 -0.3 2 0.3 1.6 1.6 0.7 1.9 -0.1 1.4 0.6 1.3 -0.1 0.7 -0.5 1.6 -1.4 1.1 -1.5 1.1 -0.6 1 -0.8 1 -1.3 0.8 -0.4 0.7 -1.3 1.1 -1.5 0.2 -0.9 -0.2 -1.1 -0.7 -1.6 -0.4 -0.9 -1.4 -1.5 -1.1 -1.4 -1.4 -0.3 -2 0.7 -0.8 -0.1 -1.5 0.2 -0.9 0.9 -0.6 1.6 -0.1 2 -0.5 0.7 -0.4 2 0.2 1.1 -0.1 1.4 -0.1 1.3 0.8 1.7 0.3 0.9 1.1 0.9 1.2 0.4 1.2 0.5M212.6 263.9l-0.3 -1.3 -0.9 -0.6 -1.5 -0.9 -1.9 0 -1.3 -0.9 -0.7 -0.6 -0.1 -1.4 0.6 -0.9 -0.4 -1.5 -0.7 -0.7 -1.4 0.3 -1.7 0.1 -1.4 -0.8 -1.5 -0.8 -0.7 0.5 -1.6 1.1 -1.1 0.7 -1.1 -1.2 -1.2 -0.1 -1.1 -0.4 -1 -0.1 -0.8 -0.3 -1.6 0.9 -1.6 -0.1 -0.9 0.7 -1.8 0.2 -1.1 0.2 -1.7 0.2 -1.6 0.1 -0.6 -0.6 -1.8 -0.8 -0.5 -0.8 -1 -0.3 -2 0.4 -1.9 0.1 -1.2 0.3 -0.8 0.1 -0.3 1.1 0.2 2 0.7 1.5 -0.2 1.2 -0.2 1 0.9 1.4 1.9 -0.2 1.7 -0.6 1.1 -1.5 1.2 -0.6 0.7 -1.1 0.1 -0.9 0.6 -1.4 1 -1.6 0.6 -0.9 2 0 0.8 0.6 1 -1.3 1.1 -1.1 1 -0.2 1.7 0.6 0.8 -0.3 0.5 -1.1 1.1 -0.8 0.4 -0.7M233.7 235.4l-1.2 1.7 -2 0.6 -2 0.4 -0.8 -0.3 -1.8 -1 -1.2 -0.8 -1.9 -0.7 -1.8 -1 -1.6 0 -0.5 1.1 -0.6 0.8 -1.1 0.6 -1.9 0.6 -1.8 0.6 -1.4 0.1 -1.3 0.8 -1.3 0.6 -0.9 1.2 -0.7 0.5 -0.6 1.1 -1.2 1.2 -0.5 0.8 -0.4 0.8 -1.3 0.5 -1.2 1.4 -0.8 1.7 -0.5 1.7 -1.5 0.5 -1 1.5 -0.4 1.7 -0.1 1.7 -1.1 0.8 -1.5 0.5 -1.3 0.8M224.2 232.4l-0.9 0.4 -1.5 0.9 -2 0.5 -1 -1.8 -0.3 -1 0.5 -1.2 0.2 -0.8 0.6 -0.9 0.3 -1.4 -1 -1.1 -0.4 -1.5 -0.7 -1 -0.8 -1.4 0 -1.3 0 -0.8 -0.4 -1.1 -0.5 -1.3 1.4 -1.4 1 0.6 0 1.6 1 1.4 -0.5 1.6 0 1 -0.7 0.5 -1.3 1.4 -1.4 1.2 -1.1 1.4 -1.9 0.8 -0.4 1 -0.3 1 -1.2 0.4 -1.2 -1 -1.5 -0.6 -1.4 0.1 -1.2 0.5 -1.4 1.4 -1.8 0.4M242.5 240.5l0.7 1.8 0.7 1.4 2 0.6 0.9 1.9 0 1.2 -0.6 1 -1 0.3 -1.3 1 -1.1 1.4 -0.8 0.7 -1.3 1.3 -1.8 0.4 -0.7 1 -1.6 -1.1 -0.9 -1.3 -1.5 -1.1 0.2 -2 0.1 -1 -1.3 -0.4 -1.5 -1.1 -0.9 -0.2 -1.3 -1.6 -0.2 -1.2 -0.9 -1.9 -1.5 -1.2 -0.7 -0.5 -1.6 -0.1 -0.9 0.1 -1.3 -0.7 -1.1 -1.1 -0.9 0.3 -0.8 -0.2 -1.9 -0.1 -1.7 0.2M194.1 237.7l0.6 0.9 1.3 1.3 1.2 1.2 0.5 1.5 -0.2 0.8 0.9 1.1 0.4 1.7 0.1 1.7 -1.5 -0.5 -0.5 -0.6 -0.9 -1.1 -0.5 -1 -0.2 -1 -0.2 -0.9 0.5 -1.5 1.9 -0.7 0.8 -0.6 1.3 -1.5 0.5 -1.3 0.2 -1 -0.6 -0.7 -0.5 -1.2 -0.8 -0.3 -0.5 -1.6 -0.3 -1.2 -0.4 -0.7 -1.8 -0.1 -0.8 -1.8 -0.7 -1.2 -1.3 -1.3 -1.3 -0.9M211.3 227l-0.7 -1.3 -0.6 -0.6 -1.1 -1.3 -1.9 -0.8 -1.7 0.6 -1.7 0.3 -0.8 1.3 -0.1 0.8 0.8 1.3 0.6 1.4 -0.7 1 -0.5 1.6 -0.2 1 -0.7 1.9 -1.5 0.5 -1 0.9 -0.4 0.7 -0.9 0.7 -0.2 0.9 0 1.5 -0.3 0.9 -1.6 0.9 -1.9 0.2 -1.5 1.2 -0.3 1.1 0.5 0.7 -0.4 1.4 0.5 1.5 -0.2 1.9 -1.4 1.5 0.4 2 0.5 1.6 -0.1 1.4 -0.5 1.3 -0.3 1.5 -0.9 1.1 -1.4 0.7 -0.8 0.6 -0.7 0.5 -0.8 0.1 -1 1.1M191.7 242.7l-1 1 -0.1 1.3 -0.7 1.8 -1.5 1 0 1 0.9 0.8 0.5 1.5 0.1 1.2 -0.9 0.8 -0.7 0.5 -1 0.9 -0.6 1.2 -1.1 1.4 -1.8 0.1 -0.6 0.7 -0.2 0.8 -1.3 1.3 -0.9 1.4 -1.2 0 -1 0.4 -0.8 -0.1 -1.1 0.2 -1.8 0.1 -0.8 0 -1.5 1 -1.4 1.1 -1.8 0.8 -1.8 0.7 -1.5 -0.4 -0.8 0 -1.8 -0.7 -1.5 -0.8 -1 -0.1 -1.7 -0.3 -1.4 0.6M208.9 289.3l1.1 1.3 1.2 1.7 1.6 -0.6 1.2 0.1 0.6 -1.3 1 -0.9 1 -1 0.6 -1.4 -0.6 -1 -1.3 -0.7 -1.7 -0.4 -2 -0.6 -1.2 0.5 -1.1 0.8 -1.1 1.7 -1 0.7 -0.8 0.3 -1 -0.7 -1 0.6 -0.4 0.8 -0.8 1.1 -0.8 1.2 -1.1 0.4 -1.1 0.4 -1.5 1.2 -1.4 0.5 -1.5 0.7 -1.1 1.7 -0.9 0.8 -1 -1.4 0.3 -2 -0.2 -1.3 -1.6 0.1 -0.7 -0.5 -0.6 -1.1 0.1 -0.8 0.9 -1.8M222.2 270.8l0.5 -1 1.1 -0.2 1.1 0 1 -0.4 1.8 -0.2 0.3 -0.9 1.7 -0.8 1.3 -1.5 0.6 -0.8 1 -1.2 1.8 1 1 1.5 0.6 0.9 0.2 0.9 1.4 0.6 0.6 0.6 0.2 0.8 -0.2 0.8 -0.6 1.4 0.4 1 1.3 0.3 1.4 -0.6 0.9 -0.4 -0.2 -1.9 -0.4 -1.1 1.4 -0.9 0.9 -0.4 1.3 -1.3 1.1 -0.4 1.1 -0.7 0.5 -1.3 1.3 -1.6 -0.3 -1 -0.9 -1.8 -0.9 -0.9 -1.3 -1.2 -0.9 -0.6 -1.4 -1.1 0.8 -1.5 0.7 -0.8 1.1 -0.7 2 0 1.4 0.8 -1 1.8 -0.4 1.3 -1.7 0.8 -1.1 1.4 -2.1 0.3 -1 -1.2 0.1 -1.7 0.6 -0.7 1.3 -1.5 2 -0.5 1.5 1.3 0.8 -0.2 1.7 0 1.2 0.1M212.3 265.9l1 1.7 0.7 1.1 1.5 0.3 1.6 0.8 1.5 0.2 0.9 -0.1 1.3 0.2 1.5 -0.3 1 -1.5 1.2 0.3 1 -1 1.6 -0.5 1.1 -1.1 2 0.1 0.8 -0.8 1.1 0.4 0.9 0.4 -0.6 1 0.9 1.4 0.4 0.9 0.9 0.3 0.5 0.8 0.4 0.8 0.6 0.9 0.3 1.4 1 1 0.6 0.9 0.9 1 1.1 0.8 1.5 0.4 0.5 0.7 0.8 1.8 0.1 1.6 0 1.1 1.1 1.8 1.1 1 1.3 0.6 1.3 1.3 1.2 0.8 1.8 -0.9 0.7 -1.9 1.4 -1.2 -0.6 -1.7 -0.2 -1.2 -1.1 -0.5 -0.5 -1.2 -0.7 -0.9 -1.4 -1.5 -0.6 -0.6 0.7 -1.1 -0.2 -2 -0.2 -2 -0.5 -2 0.3 -1.8 -0.1 -0.8 -0.3 -1.7 -0.5 -1.1 -1.1 -0.4 -1.5 0.1 -1.3 -0.5 -1.6 -0.3 -1.7 -1.1 -0.8 -1.4 0.7 -1 0.9 0 0.6 0.7 -0.5 1.2M205.1 275.5l-0.9 1.4 -1.1 -0.8 -1.8 -0.8 -1.4 -1.1 -1.2 -1.6 -0.6 -0.9 -0.6 -1.8 0.7 -0.8 0.1 -1.1 -0.2 -0.9 1.6 0.2 0.7 -2 1 -1.5 0 -1.6 0.4 -0.9 0.7 -0.8 1.3 0 1 0.7 1.7 -0.2 0.7 0.3 -0.4 1.8 -0.7 1 -0.3 1.8 -0.3 0.9 -2 -0.1 -1.2 0.6 -1.3 1.4 -1.8 0.8 -0.8 -0.1 -1.2 -0.7 -1.1 -0.2 -1 0.4 -1.7 -0.5 -0.9 0.6 -1.8 0.1 -1.6 -0.2 -0.8 -1.5 -1.4 -1 -1.1 -0.2 -1.9 -0.3 -1.6 -0.1 -1 0.3 -1.2 -0.2 -1.8 -0.9 -0.9 -0.5 -1.5 -0.4 -1.2 -0.8 -2 -0.6 -0.9 -1.4 -0.7 -0.5 -1.5 0.3 -1.1 0.6 -1 0.6 -0.8 0.6 -1.4 1.1 -1.1 0.4 -0.4 1 -0.1 0.8 0.8 0.4 0.9 0.5 1.9 -0.2 1 -0.6 1.7 -0.3M240 271.9l-1.4 1.4 -1 0.5 -1.7 0.4 -1.2 0.7 -0.3 0.9 -0.9 0.7 -0.9 1.7 -1.2 1.2 0 1 0.6 0.6 -0.7 1.2 -1.9 0.8 -1.3 1 -1.9 0.2 -0.9 0.9 -1 0.4 -0.9 -1 -1 0 -1.5 -0.8 -1.4 0 -0.5 -0.7 -0.1 -2 0.2 -0.8 0.8 -0.8 0.6 -0.7 0.3 -0.8 1 -0.4 1.8 -0.5 1.6 -1.1 0.4 -2 -0.4 -1.7 0.8 -0.7 1.4 -0.9 1.3 -1.5 0.3 -1.6 -1 -1 -0.2 -1.2 0.4 -1.8 1.2 0 0.5 -1.9 0.6 -1.4 0.3 -0.9M208.7 283.3l1 -0.3 1.9 -0.7 1.3 -0.2 1.7 -0.8 1 -1 1.1 -0.1 0 1.5 1.5 1 0.7 1.9 -0.8 1.7 -0.7 1.3 -0.7 1.1 -1.5 1.2 1 1.2 1.7 0.6 1.4 0.2 0 0.9 -0.5 0.6 -0.9 0.6 -1.6 0 -0.6 1.2 -1.9 -0.2 -1.4 -1.1 -2 0.1 -1.2 -1.7 -1.4 -1 -1.5 -0.7 -1 -0.6 -1 -0.8 0.1 -1.5 1.1 -1.4 1.5 -1.2 1.3 0.1 0.9 -0.3 0.9 -0.6 0.2 -1.5 -0.1 -1.1 -1 -0.4 -1.6 -0.7 -1.6 -0.7 -0.5 -1.3M251.4 309.3l-1.8 0.2 -1 -0.5 -1.8 0 -1.6 -0.1 -0.9 0.9 -1.1 1.6 0.3 1.1 -1.3 0.9 -1.8 0 -1.3 0 -0.7 1.8 0.2 1 0.6 0.7 0.7 1.1 0 1.6 -1.3 1 -0.5 0.7 -0.7 1.6 0.6 1.2 1.4 1 1.4 0 1.2 0.8 1.2 -0.9 1.3 -1.6 -0.3 -2 -0.9 -0.3 -1.8 -0.8 -0.8 -0.2 -1.9 -0.3 -1.2 -0.4 -0.9 0.6 0.8 1.4 0.3 0.8 0.6 1.8 0.1 1.9 -0.7 1 -0.3 0.8 -0.3 1.3 -1 0.7 -0.9 1 1.2 1.5 1.3 1.3 0.2 0.9M208.5 309.6l0.7 -1.3 1.3 -0.4 1.7 0.8 1.1 -0.7 1.7 -0.8 1.9 0.6 0.8 -1 0.8 -0.6 0.9 0.1 1.2 0.6 1.4 0.4 0.9 0.6 2 -0.1 1 0.1 1.4 0.6 1.5 -0.2 1.3 -1 0.8 -1.1 -0.2 -0.7 0.8 -1.4 0.7 -0.4 1.3 0 1.8 1 1.3 -0.7 0.8 0.3 1.5 -0.5 0.6 -0.9 0.5 -0.8 0.7 -0.7 -0.6 -1.9 0.5 -1.6 0.6 -1 1.3 -1.2 -1.5 -0.7 -0.6 -0.6 0.2 -2 0.6 -1.1 0.5 -0.7 0 -1.8 -0.3 -1.1 0.1 -1.2 1.4 -1.5 2 0.1 0.2 -1.9 -0.1 -1.4 0.2 -1 0.7 -0.8 0.8 -1.3 0.9 -0.3 1.2 -0.9 0.9 -0.9 1.5 0.1 1 0.1 0.7 1.8 0.8 0.7 1.8 0.9 1.8 0.1 1 -0.6 0.7 -0.8 0.5 -0.6M245 292.2l-2 0.4 -0.5 -0.7 0.7 -1.9 0.6 -1.9 -0.3 -1.3 0.1 -0.9 -0.5 -0.7 -0.8 -1.1 -0.6 -1.1 0.5 -1.2 -1.6 -0.3 -1.2 -0.1 -1.7 1 0.3 2 0.1 1.4 -0.4 1.3 -0.2 1.7 -1 1.6 -1.5 -0.4 1.4 -1.2 0.9 -1.4 1.2 -0.7 1.4 0.1 -0.2 2 -1 1.1 -0.8 0.1 -1.6 -0.5 -1.2 0.1 -0.7 0.6 -0.7 0.9 -1.3 0.6 -0.7 -0.9 -0.8 0.2 -0.8 -0.5 -1.3 1.6 -1.7 -0.4 -0.5 -1.8 1 -1.4 0.5 -0.6 1.4 -0.4 0.8 -0.4 1.6 -0.4 1.2 -0.2 0.9 -1.6 0.6 -1.5 -1 -1.8 -1 -0.6 -0.9 -0.3 -1.9 0.1 -1.9 0.4 -0.7 1.8 -1.6 0.4 -0.5 1.4 1.3 0.8 1.3 1.2 0 1.6 0.6 1.7 1.2 0 1 0.1 1 0.6 1.6 1.2M245 300.5l0.3 1.5 -0.6 0.8 -0.6 1 1.1 1.5 -0.2 1.3 0.7 1.3 0.8 0.8 0.2 1.2 0.6 1.5 0.5 1.3 -0.1 1.9 0.4 1.1 0 1.6 0 1.5 -0.6 0.5 -0.3 1.1 -1.7 0.3 -1.1 -0.7 -1 -1.4 -0.4 -1.2 -0.5 -2 -1.5 0.2 -2.1 0.2 -0.5 -1 0.3 -1.1 -1 -1.8 -1.2 -1.7 -0.7 -0.8 -1.3 -0.5 -1 -0.1 -1 -0.7 -1 -0.5 -1.4 -1.5 -0.6 -2 -1.8 -0.9 -0.9 -0.8 -1.1 -1 -1 -1.4 -1.1 -1.5 -1.2 -1.5 0.4 -0.8 0.1 -1.8 -0.6 -0.8 -0.5 -0.6 -1 -1 -1 -0.4 -1.1 -1.8 -1.3 -0.3 -1.5 -1.3 0 -1 1.9 -0.4 0.5 -1 1.5 -1.2 1.5 -0.7 1.4 1.4M251.5 300.5l-0.8 0.2 -0.8 1.2 -1.9 0.4 -0.1 1.6 -0.2 0.8 -0.2 1.1 -0.8 0.6 -1.7 -0.8 -1.5 -0.2 -1.2 0 -1.1 1.4 0.1 0.9 -0.3 1 -0.3 1.4 -0.7 1.1 -1.4 0.6 -0.6 1.1 -1.4 0.7 -1.9 0.1 -1.6 0.6 -0.6 0.8 -1.4 -0.3 -1.6 0.5 -1.1 0.5 -1.2 1.7 -1.1 0.1 -1.2 1 -1.4 0.1 -2 0.4 -1.5 -0.2 -0.9 -1.4 0.1 -1.7 0.2 -1.3 -0.1 -0.9 -0.5 -1 -1.1 -0.2 -1.1 0.6 -1.1 -0.5 -1 -0.1 -0.5 -0.6 1.1 -1.1M246.6 294.2l0.8 0.4 0.7 1.3 -0.6 1.8 -0.2 1.5 -0.1 1.1 -1 1.6 0.6 0.8 1.8 0.9 1 0.3 1 -0.4 0.4 -1.5 0.6 -1 0.5 -0.7 -0.7 -1.9 0.1 -1.2 -1 -0.6 -1 -0.8 -1.2 0.2 -1.3 -1.2 -0.5 -1.1 0.1 -1.1 0.7 -1.7 1.5 -0.8 1.1 0 1.2 0.1 1.7 -0.6 1.3 -0.5 1.2 0.7 0.8 0.7 2 0.7 0.3 1.6 0.3 1.1M216.3 282.3l-0.9 1 -1.1 0.1 -1.9 -0.4 -1.1 0.2 -1.1 1.3 -0.6 0.9 -1.1 0.9 -0.7 1.7 0.5 1 1 -0.7 0.5 -1.5 2.1 -0.4 0.5 -0.6 -0.3 -2 -0.6 -1.9 -0.3 -1.8 0.4 -1.4 -1.4 -0.7 -1.3 -0.5 -1.9 0.5 -1.4 0.3 -0.7 -0.5 0 -1.9 1 0.1 1.9 0.5 0.9 0.2 0.8 -0.1 1.6 -0.7 1.3 -0.8 0.6 -1.3 1 0.5 1 1.3 0.4 0.8 0 1.4 0.9 1.7 -1.1 1.6 -1.7 0.3 -1.6 0.8 -0.8 -0.3 -0.7 -0.5 -0.1 -1 0.2 -2 0.3 -1.5 0.6 -0.6 0.4 -1.1 -1.3 -1.3 -1.7 -0.3 -1.2 -1.3 0 -1.7 0.5 -1.2 -0.4 -0.8 -0.8 -1.7 -1.5 -0.1 -1.8 0 -1.2 0 -0.8 -0.4 -1 -0.5 -1 -0.4M171.9 270.3l1.9 0.6 0.8 0.6 1.1 1 1 1 1 0.9 1.6 0.5 0.8 -0.2 0.9 -0.6 1.8 -0.4 1 -0.5 1.5 -0.3 1.4 -0.2 1.1 -0.3 1.7 0 1.5 0.3 1.6 1.3 1.3 1.1 1.8 0.7 1.7 -0.5 1.7 -0.8 0.9 -0.1 0.9 -0.8 1.4 -0.3 1.6 -1 0.8 -0.1 1 -0.9 2 -0.7 0.9 -0.4 2 0 1.3 -1 1 -0.7 1.8 -0.9 1.5 -1 1 -0.7 1.4 -0.1 1.5 0.4 0.9 0.1 1.2 0.6 1.6 1.2 1.5 0 1.9 -0.7 1.7 -0.6 1.6 -0.5 1.3 -0.3 2 0 1.5 -0.2 1.1 -0.6 1.4 -1.1 0.7 -0.4 0.8 -0.6 1.3 -1.2 1.9 -0.8 1.3 -1.2 0.2 -0.8 0.3 -0.9 0.5 -2 -0.2 -1.1 -0.2 -2M175.5 260.3l-0.7 1 -0.6 1.4 -1.1 0.8 -1.7 0.1 -1.8 0.9 -1.5 0.3 -1.4 0 -1 -0.5 -1 -0.3 -1.1 -0.6 -1 -1 -0.7 -0.6 -1.2 -1.4 -1.1 -0.6 -1.9 -0.9 -1.1 -1.4 -1.4 -0.9 -1.1 -0.4 -1.7 -0.5 -1.9 -0.7 -0.8 -0.2 -1.3 -0.6 -1.5 -0.2 -2 0.3 -1.7 0.4 -1 0.3 -0.8 0.8 -1.7 -0.4 -1.1 -0.1 -0.8 0.2 -0.8 1.7 0.2 1.7 0.3 1.1 0.2 1.5 0.2 1.3 0.9 1.6 1 0.8 1 0.4 1.7 1 1.9 0.9 0.9 0.3 1.3 1.7 1.1 1.2 0.7 0.8 0.8 1 0.7 0.7 0.3 1.3 -0.1 1.7 -0.8 0.8 -0.3 1.5 -0.1 0.8 -0.6 1.8 -0.5 0.8 -1.9 0.5M167.4 288.4l0 2.1 -0.9 1.7 -0.2 0.9 -0.4 1.1 0.2 1.1 0.8 1.6 0.7 0.3 1.1 0.2 0.9 0 1.2 -0.4 1.3 -0.5 1.5 -0.3 1.6 -0.6 1 -0.3 1 -1.7 1.4 -1 1.8 -1 1.2 -1.2 0.8 -0.3 0.9 -0.4 0.6 -1 -0.4 -2 0.1 -1 0 -0.9 0.1 -1.1 0.8 -0.7 0.7 -1.4 0.5 -1.9 -0.1 -0.9 -0.1 -2 0.2 -1.8 -0.1 -1.9 0 -1.8 0.9 -1.4 0 -1.5 0 -1.8 -0.2 -1.2 -0.6 -0.6 -0.6 -1 -0.8 -1.8 -1.2 -1.3 -0.8 -1 -0.5 -1.6 -0.3 -0.8 -1.4 -1.4 -1 -1.6 -0.1 -1.3 0.2 -0.9 0.5 -1 0.7 -1.3 1.2 -1.4 -0.1 -0.9 0.2 -1.2 0 -1.6 0.5 -1.1 0.1 -1.2 0.2 -0.9 0.4 -1.3 0.1 -1.1 -0.5 -1.7 -0.1 -2 -0.2 -0.7 -0.4 -0.9 -0.3 -1.3 -0.5 -1.2 -0.6 -1 -0.4 -1.3 -0.5 -0.8 -0.3 -0.8 -1.6 -1.2 -0.9 -0.9 -1.5 -0.4 -1.5 0.2 -1.7 -0.4 -0.9 -0.7 -0.9 -0.4 -1.1 -0.4 -1.2 0 -2 0.3 -0.9 0.2M186.5 286.9l-1.3 -1.6 -0.9 -1.1 -1.1 -0.8 -1.4 -0.7 -1.6 -0.7 -1.2 -0.4 -1.1 -1.2 -1.4 0.1 -0.9 -0.1 -0.8 -0.5 -1.2 -1.3 -1.1 -0.6 -1.7 -1 -1.4 -0.2 -1.5 -0.1 -1.2 0.6 -1.2 0.3 -1 0.1 -1 -0.3 -1.8 -0.7 -1.2 -0.9 -1.1 -0.9 -0.5 -0.7 -0.8 -1.9 -1.2 -1.1 -0.7 -0.7 0.3 -1 0.3 -0.9 1 -1.7 0.7 -0.7 1 -0.6 1.2 -0.2 1.7 -0.1 1.4 0.3 1.6 0.3 1.5 0.5 1.3 0.4 1.6 -0.4 1.3 -0.3 1.1 -0.1 0.9 -0.5 1.9 -0.5 0.9 0.3 0.9 0.2 1.7 0.2 1.3 -0.3 1.3 -0.4 1.7 -1.1 0.9 -0.3 1.1 -0.7 0.6 -0.5 0.8 -0.3 1.4 0.1 0.9 -0.3 1.1 -0.8 1.1 -1.5 1.5 -0.6 2 -0.5 1.4 -1 1.5 -0.8 1.4 -0.9 0.7 -0.9 0.1 -0.9 -0.5 -2 -0.5 -1.9 -1.3 -1M246.1 216.3l1 0.6 1.8 1 0.8 0.5 0.3 1.2 0.2 1.1 -0.2 1.4 -0.8 1.7 0.4 1.6 0 2.1 0.4 0.8 0.2 1.5 0 1 0.2 0.9 1.6 1.1 1.2 1 1.7 0.2 1.7 -1.3 2 -0.3 2 -0.2 0.7 -0.5 1.4 -0.3M223.3 206l1.1 -1.6 0.7 -0.4 0.8 -0.1 1.3 -0.3 1.4 0.1 1.5 0.5 0.5 0.8 -0.8 0.4 -1.7 1 -0.8 0.5 -1.3 -0.2 -0.9 -0.2 -0.9 0.1 -1.5 0 -1.4 0 -1.9 -1 -1.1 0.1 -1.3 0.5M217 226.6l1.2 -0.6 1.2 -0.6 0.9 0.2 2 -0.4 1.3 -0.8 1.2 -1 1.4 -0.9 0.5 -1.1 0.1 -1 0 -1 0.4 -0.9 0.7 -1.9 1.2 -1.4 0.5 -1.3 -0.1 -0.9 -0.5 -1.9 -1.4 -0.9 -0.4 -1 -1.8 -1 -1 -0.6 -1 0 -1.8 -0.3 -1.4 -1.2 -0.4 -1.4 0 -0.9 -0.4 -0.8 -0.3 -1.2 -0.4 -0.9M217.8 272.7l0.6 -2 0.1 -1.2 0.1 -1.7 0 -1.6 0.1 -0.8 0.1 -1.2 -0.5 -1.1 -0.3 -1.8 -0.2 -2.1 -0.2 -0.8 -0.4 -1.8 -0.1 -2.1 -0.3 -2 0.5 -1.7 0.5 -2 1.1 -1.6 0.1 -0.9 0.3 -1.2 0.3 -1.1 0.3 -1.5 0.6 -1.6 0.4 -1 -0.5 -1.4 -0.5 -1.6 0.1 -1.5 0.3 -1.4 0.1 -1.6 0.1 -1.3 0 -1.9 -0.2 -1.4 -0.1 -1.2 -0.4 -1.3 -0.5 -1.1 -0.1 -1.2 1 -1.1 1.1 -1.1 1 -0.8 0.8 -1.3 0.7 -1.1 0.4 -0.8 0.5 -1.3 0.4 -0.9 -0.1 -1.1 0.8 -1 0.7 -0.8 0.6 -1.2 0.4 -1.1 0.2 -0.8 0.3 -1.6 0.5 -1 0 -1.2 -0.2 -1.7 -0.2 -1.8 -1.1 -1.1 -1.7 -1.2 -0.9 -0.4 -1.4 -0.4 -1.9 -0.7 -1.8 -0.7 -0.8 -0.3 -0.7 -0.4 -1.4 -1.2 -1.4 -0.7M185.5 220.7l-1.1 0.4 -1.3 0.7 -1 0.8 -1.2 1 -1.2 1.3 -1.1 1.4 -0.9 0.5 -0.8 0.6 -0.7 0.6 -1.2 0.5 -0.6 1.7 -0.4 1 0 1.7 -0.1 0.8 -0.1 0.9 -0.7 1 -0.2 1.9 -0.4 0.8 -0.4 1.2 -0.9 1 -0.9 0.8 -0.3 2 0.3 0.9 0.3 1.2 -0.4 1.3 -0.3 1.3 0.8 1.5 1.1 1.1 0.9 1.6 1.3 0.8 0.1 1.3 0.5 1.8 1.2 1.3 1.2 1 1.2 1.1 1 1 0.4 0.8 1.6 1.3 1 0.8 1.8 0.9 1 0.8 1 1.1 0.7 0.5 1 0.5 1 0.6 0.9 0.4 0.9 0.4 0.4 0.9 1.6 1.2 2.1 -0.1 1 0.2 1.8 0.1 1.9 -0.5 0.8 -0.8 0.7 -0.9 0.9 -1.2 1 -1.5 0.8 -1.8 0.5 -1 -0.1 -1 -0.9 -0.9 -1.2 -1 -0.6 -1.4 -1 -0.7 -0.5 -0.9 -1.3 -1 -0.5 -1.2 -0.4 -1 -0.3 -1.5 0.3 -1.3 -0.5 -1.6 -0.5 -0.9 -0.3 -1.3 -0.3 -1.4 0.3 -2 1.1 -1.6 0.6 -1.3 0.6 -0.5 1.2 -0.9 1.8 -0.8M147.8 205.7l0.8 0.7 0.9 0.6 1.3 0.7 2.1 0 1.5 0.3 1.6 -0.1 1.2 -0.3 1.1 0 1.3 -0.4 2 -0.5 1.7 -0.5 1 -0.6 1.1 -0.7 1.1 -0.8 0.7 -1.1 0.5 -1.2 0.8 -1.5 0.7 -0.3 1.3 -0.4 1.1 -0.5 1.6 -0.1 1.7 1.1 1.4 1.3 1.2 1.1 1.4 0.8 1.4 1 1.2 0.4 1.8 1 1.1 0.6 1.6 1.2 1.3 1.3 1.5 1.2 0.6 0.5 0.9 0.8 0.8 0.4 1.3 0.1 1.8 -0.8 1.3 -0.5 1 -0.1 0.8 0.3 1.6 0.4 1.7 0.7 1 0.8 0.9 0.6 0.8 1.9 0.6 2 0.4 1.5 0.9 0.9 1.5 1.1 1.3 0.7 0.9 1.8 -0.1 0.9 0.1 1.4 -0.2 1.1 0 1.4 -0.2 1.5 -0.2 0.8 0.1 1.9 -0.2 1.2 0.3 1 0.1 1.4 0 1.9 -0.5 1.9 -0.6 0.6 -0.8 1.1 -0.6 1.3M213.7 197.5l0.4 2 0.2 1.7 -0.6 1.5 -0.7 1.6 -0.1 1 0.1 1.9 0.3 1.8 0.8 1.2 1 0.5 1.7 0.9 1.8 0.8 1.7 1.1 1 0.9 1.4 1.1 0.7 0.5 1.1 0.8 1 0.7 1.1 1.6 0.4 1.1 0.2 0.9 0.3 0.9 0.3 1.3 0.4 0.8 1.1 1.2 1.1 0.6 1.8 0.6 1.9 0.3 1 0.1 1.2 0.4 0.9 0.3 1.6 0.1 1.1 -0.1 1.1 -0.8 0.9 -0.5 0.6 -0.7 1.1 -0.9 1.5 -1.1 1.2 -0.2 1.8 1 1.4 0.5 1.5 0.7 1.3 -0.5 1.1 0 1.4 0.6 1.1 0.7 0.9 -0.1 1.4 0.2 1.5 0.1 0.8 0.7 0.7 0.6 1 0.9 0.4 1.5 0 1.1 -0.5 1 -0.2 0.8 -0.4 1.2 -1 0.9 -2 0.2 -1.8 -0.1 -1.8 -0.3 -1.8 -0.2 -1.7 -0.2 -1.5 -0.5 -1.6 -1 -0.9 -1 -1 -1.6 0.2 -1.5 0 -1.8 -0.2 -1.9 0.4 -2 0.9 -1.7 0.2 -1.7 1.5 -1.4 0.6 -1.1 0.2 -0.8 0.7 -1.2 1 -0.4 0.8 -0.5 1.3 -1 0.8 -0.4 1.2 -1 0.2 -0.8 0.7 -1 1.2 -1.6 1.1 -1.5 1 -1.1 0.8 -0.9 0.9 -1.1 0.7 -0.3 1.3 -0.1 1.1 -0.9 1 -0.8 1.4 -0.5 0.8 -0.5 0.9 -0.5 1.2 -0.9 1.4 -1.2M216 243l-1.7 -0.6 -0.9 -1.1 0.4 1.3 1.7 1.2 1.5 -0.9 -1 0 -1.9 -0.5 -1.3 0.1 0.9 0.4 -1.9 -0.7 0.1 1.3 0 0.5 -0.1 1.5 -0.5 0.7 -1.1 -0.5 -0.8 -1.4 1.8 -1.1 -1.8 -1 -0.8 0.6 2 0.8 -1.8 -1.4 1.3 0.4 0.6 -1.9 0.1 -0.5 1.6 -0.4 1.4 -1.5 -0.5 -0.8 -0.1 0M229 268l1.4 -0.6 -1.2 -1.4 -0.4 -0.4 1.1 -1.5 0 1.7 0.6 0.7 -1 1.1 0.5 -2.6 -0.1 -0.7 -0.3 0.7 -1 -0.1 -1.1 -0.2 -0.8 -1.3 -1 1 0 -0.3 -0.1 -0.1 -0.2 1.4 -0.8 0.3 1 -0.5 0.9 -1.4 0.4 1.2 -0.1 -1.2 -1.6 -1 0.7 1 1.2 0.3 -0.5 -0.3 1.6 1.8 0.1 -0.7 1.6 1.3 -0.4 2 0.1 3.3 0.6 0.5 0.1 1.2 0 -1 -2.5 -1 -1.3 0.8 0 -1.2 1.7 -1.5 -0.7 0 1.8 1.4 -1.2 -0.8 -0.1 -0.1 0.2 0.3M183 258l1.1 -0.4 -1.2 -1 3 -0.4 1.5 2 -1.1 -0.7 -0.2 -0.2 0.6 -2.1 0.5 0.7 2.3 -0.1 -2.6 -1.7 0.7 0.9 -0.2 -0.1 -0.6 0.8 -3.1 -1.5 -2.1 0.4 1.1 0.7 2.8 -0.4 -0.1 0.9 -0.5 2.7 0.4 0.6 -0.6 1 0.1 -1.5 0.2 -1.2 0.3 -0.9 -1 -0.5 -0.7 0.5M226 288l-1.5 2.1 -0.2 -0.6 1.8 -1.4 -0.7 -0.5 0.6 -0.7 1.9 -1.2 0.7 0.7 1.8 -0.1 -0.3 1.3 -0.1 -0.1 0.7 1.4 -1.6 1 -1.4 0.5 -1.1 -1.7 1.1 0.9 2.6 -0.6 0.8 0.7 0.6 3 -0.7 2 -2.4 0.9 1 0.1 -1.3 -1.3 -0.7 1.5 1.6 0.5 1.3 -2 -1.1 -1.4M240 300l1.1 -0.3 0.2 -0.2 -1.2 -1.6 -1.7 -2.3 -0.1 1.1 1.1 -0.3 0.4 -0.9 -0.6 1.9 -0.8 1.7 0.1 0.2 1.1 -0.7 -1.5 -1 1.1 1.1 -0.9 0.6 -0.5 1.2 1.9 0.9 -0.3 -1.6 -0.3 0.1 0.6 2.1 1.3 2 2.7 -0.3 0.1 -0.5 0.7 -0.9 -0.4 2.6 0.5 0.3 -1.7 1.7 -1.2 0.8 0.4 -0.1 0.5 0.8 0.6 -1.7 -0.1 0.8 -0.6 -0.3 0.7 -0.2 0.6 1.2 -0.7 0.7 0.1 -0.4 0.8 0.9 1.2 -0.9 0.8 -1.8 -2.3 -2.5 -1.2 0.8 0.5 0.2 -1.6 -0.9 -1.5 -1.2 -0.9 -0.5 1.5 1 -2.1 0.2 2.6 -0.6 0.1 0.7 1.3 -1.4 -0.4 0.7 0.9 -0.6 0.3 0.9 0.4 0.5 2.1 -0.4M172 212l1.2 -0.3 0 1.3 -0.2 -2.3 0.8 1 0.7 0.3 -0.8 0.2 1.2 1.4 0.2 1.7 0.1 0.2 0.5 1.6 0.3 0 -1.2 -1.1 0.5 -1 1.4 0.3 -1.5 0.5 0.7 2.1 -0.2 -1.3 -0.7 0 0.4 -0.4 -0.9 0.1 -1.7 -0.2 -0.1 1.1 -0.5 -1.1 1.1 -0.5 -2.6 -1.4 0 -0.1 0.2 0.4 2.1 1 -0.5 -0.8 -0.8 0.5 0.6 0.3M194 232l1.1 -0.2 -1.2 0.5 1.2 0.4 1.4 -0.7 -1.1 1 -0.1 -0.9 -0.6 2.1 1.1 -1.5 0.8 -3 -0.9 0 -2.4 -0.8 -0.2 0 -0.6 -1.4 2.6 2.2 -3.2 0 -1 0.9 0.3 0.6 -0.3 -0.3 1.3 -0.1 0.6 -0.5 0.5 0.1 -1.8 -0.7 -0.2 -0.3 0.4 -1.1 -1.3 0.9 -0.2 -0.7M234 242l-1 1 1.3 -0.1 -1.8 2.4 1.6 -0.5 -0.1 -0.5 -2.3 -0.8 1.4 -1.4 0.3 -2.6 -0.5 -0.2 -0.3 -0.5 0.7 -0.3 1.1 -0.9 -0.5 -0.3 -1.3 0.7 1.8 0.2 -0.1 -3.1 -1.4 1.2 -1 0.1 -0.3 1.3 2.5 1.7 -0.1 2.4 -0.5 0.8 1.3 0.3 0.2 0.9 0.2 -2.7 1.5 0.7 1.5 -1.3 0.4 -1.6 -0.7 0.2 0.3 2.1 -1.3 0.9 -0.6 -1.1 -0.3 1 0.9 -0.6 -0.2 -1.6 -0.9 1.1 -1.5 0.1 -0.6 -0.4 -1.7 0.8 0 1.2 0.3 -1.6 -0.3 -0.2 -0.6 -1.5 0.7 0.6 1.1 -0.5M150 222l-0.5 -0.5 1.6 0.7 -1.9 0.1 1.2 1 -1.2 -0.6 -0.2 1.1 -1.3 -2.3 1.7 0.2 0.1 2.9 0.6 -0.2 0.2 -1.7 -1.3 0.4 -1 1.8 0.4 1.1 1.1 0 -2 -1.6 2 -2.2 1.1 0.3 -0.5 0.3 -0.2 -0.9 -1.1 -0.8 -0.8 3.2 1.2 -2.5 0.5 -0.6 0 -2.2 -1.1 2.1 -2.1 -0.5 1.2 1 0.8 -1.5M246 275l0.4 1.5 -0.1 -1.8 -0.3 0.1 -1.7 -1 1.2 -0.9 -0.7 0.2 0.8 2.1 1.2 0.2 -0.3 1 0.3 -0.1 -0.2 -1.9 0.7 0.3 -0.3 0.7 -1.6 1.3 1.5 -0.3 -1.5 0.3 -0.5 1.2 -0.3 1 -1.2 0.2 -1.2 -0.9 -0.5 0.3 -0.7 0.5 1.9 0.2 -0.2 -1 1.6 -1.2 0.7 -1.1 0.9 -0.3M213 262l-1.4 0.1 -0.8 1.3 -0.5 -1.5 0.1 -0.1 0.6 1.2 1 -0.1 0.2 -0.7 0.3 1.1 0.2 0 0.8 0.6 -0.6 -0.2 0.2 -1.2 -1.2 -0.6 1.2 -0.4 0.3 -1 1.3 -0.6 1.2 1.9 -0.8 0 0.1 -1.1 -0.2 -0.8 2 0.1 -0.5 1.2 0.3 1.9 -0.1 -1.1 -1.1 -0.8 -0.7 -1.2 -2.4 0.5 1.4 0.5 -0.1 -0.5 0.9 1.9 0.8 0.8 -0.2 -0.7 -0.2 -0.4 0.8 0.9 -0.7 -1.1 0.4 0.9 -1.8 1.7 1.9 0.9 0.5 -1.1 1.3 -0.4 1.2 1.3 -1.4 -0.4 -1.7 -0.7 0.8 0 0.4 -0.7 -0.9 0 1.4 1.2 -0.1 -1.4 -0.9 2.2 -0.5 0.8 -0.5 0.6 -0.6 0 1.7 -0.1 -0.1 -0.1 -0.9 -1.1 -0.9 0.1 -0.1 -1.1 -2.9 0.1 0.4 -1.2M222 302l1 -1.3 0.9 3 -0.6 -0.6 1.4 -2.2 1.3 -2.7 -0.7 0.2 1.2 -0.6 3 0.2 -0.9 -0.1 -0.1 0 -1.5 1 0.1 1.1 -0.6 -0.5 -0.6 -0.5 1.2 2.3 -0.4 0.1 -1.3 -0.8 -2.9 -1 -0.4 1.6 0.3 -0.7 -0.8 -0.5 0.4 0.1 0.6 1.8 1.3 0.9 -1 1.3 -1.2 -1.5 0.7 -0.4 0.8 0.3 0.9 0.3 0.6 -0.2 -0.4 0.2 -0.4 -1.2 -2.7 -0.4 -0.2 1.6 0.2 2.5 1.1 -0.4 0.6 -0.5 1 0.1 -0.4 0.5 -0.5 0.5 -1 1.2 0.2 1 0.7 -1.5 0.7 0.1 0.5 0.3 -0.5 -2 -0.5 -0.1 -2.4 -1.4 -1.3 0.3 -0.9 -0.5 0.7 -0.2 -2.1 1.2 2.4 1.3 -0.9 -0.7 2.8 -1.6 0.5 0.5 1 0.3 -1.1 -0.4M160 206l0 -0.8 -0.5 0.7 -0.4 -1.2 -0.5 -1.4 0.1 -2.2 0.7 1.7 0.8 -1 -1.5 0.2 -0.7 2 0 -1.1 -0.5 0 0.8 -1.5 -0.3 1 -0.5 -0.2 0.4 0.1 1.1 0.7 1 -1.7 -0.3 1.9 -0.4 -2.8 0.5 -0.2 0.3 -0.6 -1 1.6 0 -1.5 1.8 -0.6 0.1 -1.5 0.2 0.5M176 238l2.2 -0.6 0.3 0.6 0.9 -0.8 -2.4 -1.4 -0.1 -0.4 0.3 -0.5 1 -1.1 1.3 0 0.6 0 2.4 0.9 -1.9 -0.1 0.1 1.5 0.6 2 0.2 -0.5 -1.2 0.7 -1.4 -0.5 -1 -0.7 0.7 -0.6 -0.6 0.8 -0.6 -0.7 1.1 2.5 -1.4 1.4 0 -0.3 0.1 2.1 -0.4 0.3 -1.9 -1.4 -0.8 0.3 -0.3 1.5 -2.1 -1.5 -1.1 0.3 0.9 -1.7 1.1 0.4 -1.6 -1.7 0 0 1.4 -0.9 -0.3 0.2 1.2 -0.4 0.8 -1.3 0.1 1.7 -0.2 2.9 1.8 -0.6 -0.8 0.6 -1.7 -1.9 -1.7 0.9 0.5 -0.3 -0.2 -1.8 0.5 0 -0.2 1.9 1 -0.4 0.3 -0.6 0.9 -1.1 0.3 0.6 1.6 -1.8 -1 -0.2M205 250l-0.2 0.8 0 -1.5 0.8 -0.7 -0.5 0.8 -1.2 3.2 -0.1 1.5 0 0.1 -1.8 0 -0.9 1 0.7 -0.9 1.3 0.2 -0.2 -0.7 0 -0.1 1.8 -1.3 -1 0.9 -0.2 -0.1 0.4 -2.3 0.7 -0.6 0.1 1.4 2.3 -2.6 -1.5 -0.4 -0.5 -1.5 -1.3 0.1 -0.4 -0.9 2.8 2.5 0.5 -1 1 -0.2 -0.9 1.1 -0.2 1 -0.6 0.5 1.3 1.4 1 0.3 0.2 0 -1.9 1.2 0.7 -1.8 -0.6 -0.7 -1 1.5 -1.3 0.4 -0.3 -2.5 1 0 -0.3 0.5 -1 0.1 -0.1 -1 1 -1.8M234 283l-1 0.5 0.8 0 -0.4 -1.3 0.1 2 0.3 2.2 1.4 -0.5 -2.1 0.9 -0.2 -0.6 -2 -0.9 0.3 -2.1 -0.1 2.3 0.3 -1.2 0.5 -1.3 0.5 1.5 0.8 -1.9 1 -2.7 0.4 -2.4 -0.9 0.8 -0.5 1.3 -0.9 1.1 1.4 0.9 -0.8 -0.4 -0.1 3.3 0.6 -2 -0.1 -0.4 -0.4 1.8 0.2 -0.8 -1.4 -1 0.4 -0.4 0.4 -1.3 0.4 0.1 -0.2 -2.5 0.4 -0.3 -2.4 1.6 -0.9 -0.2 -0.6 1.1 1.3 0.7 2 -1.2 0.8 1.8 0.6 -0.3 -0.6 1.4 -0.3 1.6 0.3 -1.1 2.1 -2.9 0.4 1.8M243 262l0.2 1.6 -1.9 -1.1 -0.8 1.1 -1.3 -0.7 -1.4 -1.9 2 0.5 1.5 0.1 -0.2 1.5 0.5 -0.9 0.4 0.4 -1 -0.4 -1.3 1.5 0.4 -0.5 0.6 -0.1 0.8 -0.3 1.6 -0.4 0.2 -0.6 -0.9 0.8 -1.2 -0.4 -1.5 1.1 0.6 -0.6 1.9 -0.1 -0.4 -0.4 -0.1 1.3 1.1 -0.7 0.9 -1.4 -0.1 -0.3 -0.6 0.5 1.8 -0.9 -0.1 -1.6 0.1 -0.8 -1.7 1.6M226 255l1.6 -0.4 0.8 -0.5 1.7 0 -0.2 1.4 1.4 0.4 -1.2 -0.5 -2.5 -1 0 1.3 -0.8 1.9 1 2.6 -2.3 -3.6 0 1 0.1 1.6 0.4 -0.1 1.1 -2 1 -1.3 -0.1 0.8 0.1 -0.8 0.2 1.9 0.3 -0.9 0.5 2.7 0 1.3 0.1 -0.6 0.5 0.8 0.7 2.7 -2.9 -0.6 -0.4 -1.5 0.1 0.8 -2.6 0.1 0 0.4 -0.7 1 -0.4 -2.1 0.9 0.9 -1.8 -1.4 -0.2 0.3 0.3 -0.6 2 -1.4 0.3 -1.6 -0.1 0.7 -0.4 -0.6 2.2 -1.2 -1.5 1.3 1.5 -2 0 -0.2 1 -1.9 1.5 -0.5 0.3 1.5 -0.9 -0.4 0.7 1.8 -0.6 -0.7 -1 0.4 1.5 -0.2 -0.4 0.8 0.9 -1" fill="none" stroke="#fff" stroke-width="0.5" opacity="0.95" stroke-linejoin="round"/>
<path d="M141.8 193C142.2 193.7 142.7 194.7 144.2 197.2C145.7 199.7 148.2 204.4 150.6 208C153 211.6 155.8 215.1 158.5 218.5C161.2 221.9 164 225.3 167 228.3C170 231.3 173.3 234 176.5 236.5C179.7 239 182.7 241.3 186 243.4C189.3 245.5 193 247.4 196.4 248.8C199.8 250.2 203 251.2 206.5 252C210 252.8 214.1 253.3 217.3 253.6C220.6 253.9 223.2 253.8 226 253.6C228.8 253.4 231.9 252.8 234.4 252.3C236.9 251.8 238.9 251.2 241 250.6C243.1 250 244.7 249.3 246.7 248.5C248.7 247.7 251.9 246.1 253 245.6" fill="none" stroke="#fff" stroke-width="3.3" stroke-dasharray="3.1 2.1"/>
</g>
<text x="141.4" y="304.4" font-size="10" fill="#fff">NK cell track</text>
<line x1="226.2" y1="304.5" x2="243.5" y2="304.5" stroke="#fff" stroke-width="2"/>
</g>
<g id="panel_d">
<text x="257.9" y="176.9" font-size="15">d</text>
<clipPath id="dcl"><rect x="275.6" y="195.6" width="114.2" height="113.8"/></clipPath>
<g clip-path="url(#dcl)" fill="none" stroke-linecap="round" stroke-linejoin="round">
<path d="M296.9 309.9l1.7 1.4 1.6 1.4 1.4 1.8 1 1.9 1.6 1.5 1.7 1.4M313.2 249.9l1.4 1.6 1.4 1.7 1.7 1.4 1.5 1.7 1.8 1.3 1.2 1.7 1.9 1.2 1.9 1.1 2.1 0.7 2.1 0.8 1.7 1.3" stroke="#423fce" stroke-width="1.1"/>
<path d="M301.7 244l1.4 1.7 1.9 1.1 1.3 1.8 1 2 1.6 1.5 1.2 1.8 1.2 1.8 1.3 1.8 1.4 1.7 1.3 1.8M277.8 274.8l1.8 1.3 1.5 1.7 1.8 1.2 1.9 1.1 1.8 1.3 1.2 1.8 1.4 1.7 0.9 2 1 2 1.2 1.8 1.2 1.9M284.9 275.9l1.5 1.7 0.9 2 1.3 1.8 1.4 1.7" stroke="#337bf5" stroke-width="1.1"/>
<path d="M336.6 297.2l1.6 1.4 1.4 1.8 1.1 1.9 1.2 1.8 1.7 1.4 2.1 0.4 2.1 0.7 2.2 0.4 2.1 0.6 2 0.9M283 260.3l0.5 2.2 0.8 2 0.9 2.1 1.8 1.1 2 1M381 306.2l2.2 -0.1 2.1 0.8 1.8 1.2 2.1 0.7 2.2 0.5 2.1 -0.4 2.1 -0.6 2.2 0" stroke="#425ef1" stroke-width="1.1"/>
<path d="M303.8 273.7l1.3 1.7 1.6 1.5 1.7 1.4 1.9 1.1 1.8 1.2 1.8 1.3 1.9 1.2 1.7 1.4 1.9 1.1 1.8 1.2 1.5 1.6 2 0.9 1.9 1.1 1.7 1.4 1.5 1.6 1.2 1.8" stroke="#4032bb" stroke-width="1.1"/>
<path d="M293.9 286.7l1.1 1.8 0.9 2 1.7 1.5 1.2 1.8 1.9 1.1 2.1 0.7 1.8 1.3 1.5 1.6M301.2 235.6l1.7 1.4 1.3 1.8 1.3 1.8 1.7 1.3 1.5 1.7 1.3 1.8 1.6 1.5 1.8 1.3 1.7 1.4 1.8 1.2 1.8 1.2 1.1 1.9M324.8 289.8l1.9 1 2.2 0.6 1.5 1.6 1.8 1.3 2.1 0.4 2.1 0.7 2.1 0.6" stroke="#4341d1" stroke-width="1.1"/>
<path d="M319.8 265.5l1.7 1.4 1.8 1.3 2 1 2.1 0.5 2.2 0.5 2.1 0.6 1.8 1.3 1.9 1.1M307.4 311.7l1.6 1.4 1.6 1.6 1.6 1.4 1.8 1.3 1.6 1.5 1.5 1.6 1.6 1.5 1.8 1.4 1.7 1.4 1.7 1.3 1.2 1.8 1.2 1.9 1.7 1.3 2 1 2 0.9" stroke="#454fe7" stroke-width="1.1"/>
<path d="M271.6 212.3l1 2 1.1 1.8 1.2 1.9 0.8 2 1.3 1.9 0.7 2 1 2 1.1 1.9 1.6 1.5 1.9 1.2" stroke="#3180f6" stroke-width="1.1"/>
<path d="M290.3 235.7l1.3 1.7 1.3 1.8 1.6 1.5 1.8 1.3 1.8 1.3 1.7 1.4 1.3 1.8 1 2 1.3 1.7 1.3 1.8" stroke="#3f63f1" stroke-width="1.1"/>
<path d="M275.7 201.4l0.2 2.2 0 2.2 0.4 2.2 1.1 1.9 0.6 2.1" stroke="#4652eb" stroke-width="1.1"/>
<path d="M333.1 311.9l1.9 1 1.9 1.1 2.1 0.5 2.2 0.6 2.1 0.4 2.2 0.6 1.8 1.1 2 1 2.1 0.4 2 1 2 1 1.7 1.4 2 0.8 1.4 1.7 2 1M298.3 303.3l1.8 1.3 1.9 1.1 1.6 1.5 1.3 1.8 1.8 1.2 1.3 1.8 1.8 1.3 1.4 1.7 1.6 1.5 2 1M322.8 266.3l1.4 1.7 1.8 1.3 1.8 1.3 1.7 1.3 1.9 1.2 1.6 1.4 2 1 1.9 1.2M304.2 307.5l1.7 1.4 1.9 1.1 1.4 1.6 1.8 1.3 1.9 1.2 1.5 1.6 1.7 1.4 2.1 0.6 2.2 0.3 1.9 1.2 1.7 1.3 1.9 1.1M378.6 284.2l2.1 0.6 2.1 0.6 2.1 0.7 2.2 0 2.2 -0.3 2.1 0.7 2.1 0.5 1.9 1.1 2.2 0.4 2.1 0.5 2 1 2.2 0.3" stroke="#3f2eb4" stroke-width="1.1"/>
<path d="M320 284l1.2 1.9 1.7 1.4 2 0.9 2 0.9 1.5 1.6 1.8 1.3 1.9 1 1.5 1.7 1.5 1.6 1.3 1.7 0.9 2 1.5 1.7 1.7 1.3 1.6 1.5 2.1 0.8 2.2 0.3M377.4 305.2l2.2 -0.1 2.2 -0.1 2.1 0.4 2.2 0 2.2 0.1 2.2 -0.1 2.2 -0.1 1.9 1.1 1.9 1.2 2.2 0.2 2.2 0.1 2 0.7 2.2 -0.2 2.2 -0.1 2.1 -0.9" stroke="#2f84f6" stroke-width="1.1"/>
<path d="M332.5 277.6l1.7 1.5 2 0.9 2.1 0.6 1.9 1.1 2.1 0.6 2.1 0.8 2 1 2 0.7 1.8 1.4M334.4 295.2l1.3 1.7 1.7 1.5 1.4 1.7 1.8 1.3 1.9 1 1.6 1.6 1.9 1.1M346.2 287.6l1.9 1.1 1.2 1.9 1.8 1.3 2 0.9 1.9 1.2 1.9 1 2 0.9M289.1 300.6l1.4 1.7 1.4 1.7 1.7 1.4 1.7 1.4 1.8 1.3M289.8 198.5l0.6 2.1 1.3 1.8 1 2 0.9 2 1 1.9 1 2M320.3 250.3l1.2 1.8 1.8 1.3 1.8 1.4 1.4 1.6 1.6 1.5 1.1 1.9 0.8 2.1 1.4 1.7 1.3 1.8 1.2 1.8 0.6 2.1 1 2 1.1 1.9" stroke="#4344d7" stroke-width="1.1"/>
<path d="M388.4 288.3l2.1 0.7 2.1 0.8 2.1 0.4 2.2 0.1 2 0.9 2.2 0.3 2.2 0.3 2.1 0.6 2.2 0.2 2.1 -0.6 2.2 0.5 2.1 0.5 2.2 -0.4" stroke="#3f2fb5" stroke-width="1.1"/>
<path d="M297.8 291.9l1.5 1.6 1.8 1.2 1.7 1.4 2.1 0.7 2.2 0.4 1.9 1.1 1.8 1.3 2.2 0 1.9 1.1 2.1 0.8 1.8 1.2 1.5 1.5M382.9 310l2.2 0.5 2.1 0.5 2.1 0.6 2 0.9 2 0.9 1.5 1.6 1.4 1.8 1.6 1.5 1.5 1.6 1 1.9 1.7 1.5 1.6 1.4 1.7 1.4 2.1 0.6 2.2 0.2 2 0.9" stroke="#209be6" stroke-width="1.1"/>
<path d="M301.4 206.9l0.4 2.2 1.2 1.8 1 2 1.1 1.9 1.7 1.4 1.9 1.1 1.8 1.2 1.9 1.2 1 2 0.9 2 0.6 2.1M274.6 228.8l1.6 1.6 1.6 1.5 1.8 1.2 1.5 1.6 1.2 1.9 1.2 1.8 1.7 1.5M376.5 303.9l2.2 -0.3 2.1 -0.6 2.1 -0.5 2.2 -0.3 2.2 0.2 2.1 0.4 2.2 0.3 2.1 0.6 2.2 0.5 2.1 0.5 2.2 0.4 2.2 0.2 2.2 0.1 2.2 -0.1M334.2 288.3l1.9 1.2 2 0.8 2.1 0.7 1.9 1.1 2 0.9 2.2 0.2 2.2 0.2 2 0.8 1.8 1.3 2.1 0.8" stroke="#4651ea" stroke-width="1.1"/>
<path d="M275.7 261.6l1.1 2 1 1.9 1 2 1.4 1.7 1.5 1.5 1.6 1.6 1.1 1.9 0.8 2 0.6 2.2 0.8 2 0.9 2 1.1 1.9 1.6 1.6 1.5 1.6 1.4 1.7" stroke="#4137c2" stroke-width="1.1"/>
<path d="M332.9 286.7l1.9 1.1 2 1 2 0.8 2 0.8 2 1 2.2 0.2 1.9 1.2 2 0.7 1.8 1.3 2 1 2 0.8" stroke="#423cc9" stroke-width="1.1"/>
<path d="M279.2 217.5l0.3 2.2 0.7 2.1 0.6 2.1 1.1 1.9 1.8 1.3 1.8 1.2 1.9 1.2 1.5 1.6 0.8 2 1 2 1.7 1.4 0.8 2 0.8 2.1M325.6 302.4l1.6 1.5 1.5 1.6 1.3 1.7 1.8 1.4 1.9 1 2.1 0.6 1.9 1.2 1.9 1.2 2.1 0.6 1.9 1 1.6 1.6 1.4 1.6 1.4 1.7 1.6 1.6 1.5 1.5M294 211.1l0.7 2.1 0.5 2.1 0.7 2.1 0.1 2.2 0.4 2.2 0.8 2 1.7 1.4 0.7 2.1 0.9 2 0.3 2.2 1.4 1.8 0.4 2.1 0.7 2.1" stroke="#4139c6" stroke-width="1.1"/>
<path d="M297.9 239l1.1 1.9 0.6 2.1 1.2 1.9 1.7 1.4 1.4 1.7 1.7 1.4 1.9 0.9 1.5 1.7 1.8 1.3M310 267.5l1.5 1.6 1.2 1.8 1 2 1.2 1.8" stroke="#2b8af4" stroke-width="1.1"/>
<path d="M297.6 238.4l1.5 1.6 1.4 1.7 1.3 1.8 1.1 1.9 0.7 2.1 1 1.9 1.3 1.8 0.7 2.1 1.4 1.8" stroke="#4448dd" stroke-width="1.1"/>
<path d="M339.1 283.1l1.9 1.2 1.9 1.1 2.2 0.4 2.1 0.2 2.1 0.9 1.9 1 1.7 1.4 2.1 0.7 2.2 0.4M352.3 298.2l1.5 1.6 2.2 0.5 2.2 0.3 2.1 0.5M351.3 275.4l2.1 0.4 2.2 0.3 2.2 0.4 2.1 0.5 2.1 0.7 2.2 -0.1 2.2 0 1.9 1.2 2 0.8 2.2 0.5 2.1 0.6 2.2 -0.2" stroke="#3a6ef3" stroke-width="1.1"/>
<path d="M364.9 285.8l2 1 1.8 1.3 1.4 1.6 1.9 1.2 1.9 1.1 2 0.9 2.2 0.1" stroke="#454ae0" stroke-width="1.1"/>
<path d="M287.4 212.9l0.8 2.1 1.5 1.6 1.6 1.5 2.1 0.8 1.9 1.1 1.7 1.4 1.8 1.1 1.5 1.7 1.1 1.9 1.2 1.8 1.2 1.9 1.5 1.6 1.4 1.7 1.3 1.7 1.2 1.9M292 279.1l1.2 1.8 1.4 1.8 1.5 1.6 1.7 1.4 1.1 1.9" stroke="#415ff1" stroke-width="1.1"/>
<path d="M332.4 267.2l1.9 1 1.9 1.3 2.1 0.6 2.1 0.7 2.1 0.5 1.8 1.3 1.5 1.5 0.9 2.1 1.3 1.7 1.3 1.8M332.7 310.9l1.9 1.1 1.9 1 2 1 1.8 1.3 2 0.8M300.1 254l1.6 1.5 1 1.9 0.8 2.1 1.1 1.9 1.3 1.8 1.4 1.6 1.7 1.4 2 1 1.7 1.4 2 0.9 2 0.8 1.9 1.1" stroke="#4035bf" stroke-width="1.1"/>
<path d="M350.9 304.8l2.1 0.6 2.2 0.4 2.2 0 2.2 0.2 2 0.8 2 1 2 0.9 2 0.8 1.8 1.3M338.6 282.8l1.4 1.8 1.8 1.2 1.9 1 2 1 2 1 1.8 1.2 2.1 0.7 2.2 0.1 2.1 0.5 2.2 0.5 1.8 1.3 1.6 1.4 1.6 1.6 1.5 1.6 1.7 1.4" stroke="#4136c0" stroke-width="1.1"/>
<path d="M316 297.4l1.6 1.5 2 1.1 1.6 1.4 1.7 1.4 1.9 1.1 2.2 0.4 2.1 0.6 2.1 0.7 1.7 1.4 1.7 1.3 1.9 1.1 2.1 0.8 2.1 0.5 2.2 -0.2M284.4 275.5l1.6 1.5 1.6 1.5 2 0.9 1.5 1.6 2 0.9 2.1 0.6 1.8 1.3 1.6 1.5 1.5 1.7 1.2 1.8 1.2 1.8 2.1 0.8 1.8 1.2" stroke="#423fcf" stroke-width="1.1"/>
<path d="M309.9 241.3l1 2 1.3 1.7 0.9 2 1.2 1.9 1.4 1.6 0.6 2.2 0.8 2 1.2 1.9 1.1 1.9" stroke="#4447da" stroke-width="1.1"/>
<path d="M349.8 277.7l2.1 0.5 2.1 0.8 2.2 0.2 2 0.8 2.1 0.7 1.9 1.2 2.1 0.6 1.9 1.1 1.9 1 2.2 0.4 2.2 -0.1 2.2 0.3M378 298.8l2.2 0.2 2.1 0.5 2.2 0.3 2.2 0.3 2.2 -0.1 2.1 -0.5 2.2 0 2.2 -0.1 2.2 0.3 2.2 -0.1 2.2 -0.1 2.1 0.5 2.1 0.5 2.2 0 2.2 0.4" stroke="#454ee6" stroke-width="1.1"/>
<path d="M337.7 308.7l1.8 1.3 1.6 1.5 1.5 1.6 1.8 1.3 1.4 1.6 0.9 2 1.9 1.2 2 0.9 2 1 2.2 0.1 2 0.8 1.9 1.1 1.9 1.1M299.3 227l1.7 1.5 1.6 1.4 1.5 1.6 1.5 1.6 1 2 1.1 1.9 1.1 1.9 0.8 2.1 1 1.9 1.1 1.9 1.4 1.7 1.6 1.5 2.1 0.8 1.9 1.1M281.1 239.8l1.5 1.5 0.7 2.1 0.8 2.1 1.5 1.6 1.6 1.5 2 1 1.8 1.2 2 0.9 2.1 0.8 2.2 -0.2 2.1 0.3 1.9 1.1 1.9 1.2 1.4 1.7 1.4 1.7M363.1 307.3l2.1 0.6 1.7 1.4 2.1 0.8 2.2 0.1 2.2 -0.1 2.1 0.5 2.1 0.6 2.1 0.6 2.2 0.5 2.2 0.1 2.2 -0.2 2.1 0.4" stroke="#4061f1" stroke-width="1.1"/>
<path d="M322.3 278.9l1.8 1.2 1.9 1.2 1.3 1.8 1.2 1.8 1.1 1.9 1.3 1.8 1.6 1.5M302.8 206.5l1.4 1.7 1.7 1.4 1.2 1.9 1 1.9 1.4 1.7 1.4 1.7 1.5 1.6 0.9 2 0.4 2.2" stroke="#3b6cf3" stroke-width="1.1"/>
<path d="M316.4 302.3l2 1 2.1 0.5 2.2 0.5 2.2 0.2 2.2 -0.1 2.1 -0.3 2.2 0.3 2.2 0.2 2.1 0.7 2 0.9 1.9 1.1 2.1 0.7 2 0.9 2.2 0.3M271.2 210.6l0.7 2.1 0.9 2 1.2 1.9 0.7 2.1 0.7 2 0.4 2.2 0.1 2.2 -0.3 2.2 0.4 2.1 1 2 1.2 1.8 0.8 2.1" stroke="#4062f1" stroke-width="1.1"/>
<path d="M295.1 257.6l1.6 1.5 1.3 1.7 1.4 1.8 1.3 1.7 1.7 1.3 2.1 0.7 2.1 0.7 1.9 1.2 1.8 1.2" stroke="#4446d9" stroke-width="1.1"/>
<path d="M282.5 213.9l0.8 2 1.1 2 0.8 2 0.7 2.1 0.4 2.1" stroke="#445af0" stroke-width="1.1"/>
<path d="M355 309.3l2.2 0.7 2.1 0.2 2.2 0.5 2.2 0.2 2 0.9 2.1 0.4 1.7 1.5 1.5 1.6 1.9 1 1.8 1.3M299.3 303.3l1.9 1.1 1.8 1.2 1.8 1.2 1.9 1.3 2 0.8 2.1 0.7 1.8 1.3 2 0.9 1.9 1.1 2 0.9 2.2 0.2 2.1 0.4 2.2 0 2.1 0.9M346.8 291.2l1.8 1.2 1.7 1.5 1.6 1.4 2 1.1 2 0.7 2.1 0.7 2.2 0.3 2.1 0.8 2 0.7 1.8 1.4 2.1 0.7 2 0.7 2 0.9M277.4 254l0.2 2.2 0.5 2.1 0.9 2 0.8 2.1 0.8 2 0.2 2.2 0.4 2.2 0.6 2.1" stroke="#3d67f2" stroke-width="1.1"/>
<path d="M313.1 279.2l1.5 1.6 1.7 1.4 2.2 0 2.2 0.3" stroke="#19a5df" stroke-width="1.1"/>
<path d="M290.8 203.3l1 2 0.8 2 0.9 2 0.3 2.2 0.5 2.2 0.4 2.1 0.6 2.1 0.5 2.2 1.1 1.9 0.6 2.1 1.2 1.8" stroke="#2e85f6" stroke-width="1.1"/>
<path d="M276.6 234.5l1 2 1.6 1.5 1.6 1.5 1.2 1.8 0.8 2.1 0.2 2.2 0.7 2 0.3 2.2 0.7 2.1M356.3 289.9l1.8 1.2 2 0.9 1.9 1.3 2.1 0.5 2.1 0.8 2.1 0.3 2.2 -0.3 2.2 0.4 2.2 -0.2 2.2 -0.1 2.1 0.6 2.1 0.8 1.8 1.1M297.2 314.2l1.7 1.4 1.8 1.3 1.5 1.6 1.5 1.6 1.7 1.5 2.2 0.1 2 0.8 2.2 0.5 2.1 0.6 2.1 0.4 1.9 1.2" stroke="#423ecd" stroke-width="1.1"/>
<path d="M288.8 278.1l1.4 1.7 1.7 1.3 2 0.9 2.2 0.6 2 0.8 1.9 1.2 1.5 1.6 1.8 1.2 1.3 1.7 1.4 1.8 1.6 1.5 2 0.8 1.9 1.2 1.7 1.4 1.8 1.3M323.4 277.2l2 0.8 2.2 0.4 2 0.8 2.2 0.4 2.2 0.3 1.9 1.1 1.9 1 1.8 1.3 1.8 1.3 2 0.9 2.1 0.6 2.1 0.8 2 1" stroke="#4650e8" stroke-width="1.1"/>
<path d="M384.8 286l2 0.8 2.2 0.4 2.2 0 2.2 0.1M311.7 274l1.9 1.1 1.6 1.5 1.9 1.2 1.8 1.2 1.7 1.4 1.8 1.2 1.8 1.3" stroke="#4034be" stroke-width="1.1"/>
<path d="M339.5 278l1.6 1.5 2 1 1.9 1.1 1.9 1.1 1.4 1.7 1.7 1.5 2.1 0.5 2.2 0.4 2 0.7 2.2 0.4 2.2 -0.1 2.2 -0.3 2 -1 2 -0.7M342.3 282.6l2 0.8 2 0.9 1.7 1.4 1.9 1.2" stroke="#337cf5" stroke-width="1.1"/>
<path d="M276.9 275.2l1.6 1.5 1.8 1.3 1.8 1.3 1.6 1.5 1.6 1.4 1.8 1.3 1.9 1.1 1.6 1.5 1.4 1.7 1.5 1.6M336.6 313.8l2 0.9 1.8 1.2 2.1 0.7 2.2 -0.2 2.2 0.3 2 0.8 2.2 0.3 2.2 0.5 2.1 -0.2 2.2 -0.5 2.2 0 2.2 0" stroke="#3b6bf3" stroke-width="1.1"/>
<path d="M333.2 287.8l1.8 1.3 1.6 1.5 1.4 1.7 1.4 1.7 1.9 1.1 1.8 1.2 1.9 1.2 1.9 1 1.6 1.5 1.3 1.8 0.8 2.1 0.9 2 1.6 1.5 1.5 1.6M302.9 256.4l2 1 1.6 1.5 1.7 1.4 1.6 1.5 1.3 1.8 1.4 1.7 1.2 1.8 1.4 1.7 1.4 1.8 2 0.8 2.1 0.8 2.2 0 2.1 0.4 2.2 0.2" stroke="#454ce2" stroke-width="1.1"/>
<path d="M301.9 246.6l0.7 2.1 0.9 2 0.9 2.1 1.2 1.8 1.3 1.8M292.7 206.3l0.6 2.1 1.2 1.9 1.7 1.4 0.9 2 1.1 1.9 0.6 2.1 0.1 2.2M301.2 312.7l1 1.9 0.7 2.1 1.3 1.8 1.9 1.2 1.9 1 2.1 0.7 2.1 0.5 2.2 0.2 2.2 0.4 2.2 -0.5 2.1 0.2 2.2 0.4 2.2 -0.2 2.2 -0.1M338.5 269.3l2.1 0.6 2.1 0.6 2.2 -0.1 2.2 0.4 2.1 0.7 2.1 0.7 2 0.8 1.9 1.2 2 0.7 1.7 1.5 1.9 1.1 1.8 1.2 2.2 0.5" stroke="#4653ed" stroke-width="1.1"/>
<path d="M297.8 293.5l1.7 1.4 1.7 1.4 2.1 0.7 1.9 1.2 1.9 1.1 2 0.9 1.5 1.6 1.2 1.8" stroke="#4031ba" stroke-width="1.1"/>
<path d="M326.8 268.6l1.6 1.5 1.3 1.7 0.7 2.1 1.9 1.1 1.9 1.2 1.8 1.3M303.8 291.2l1.7 1.5 1.9 1 1.7 1.4 1.7 1.5 2.1 0.4 2.1 0.6M339.4 300.1l1.6 1.5 1.8 1.2 1.5 1.7 1.5 1.6 2.1 0.3M346 309.3l2.1 0.7 1.5 1.5 2 0.9 1.7 1.4 1.7 1.5M279.1 290.2l1.8 1.3 1.7 1.4 1.8 1.3 1.7 1.4 1.8 1.3 2 1 1.6 1.4 1.5 1.6 1.4 1.8 1.2 1.8 0.9 2 1.1 1.9 1 2" stroke="#4340d0" stroke-width="1.1"/>
<path d="M304.1 261.2l1.3 1.8 1.2 1.9 1.1 1.9 1.5 1.5 1.6 1.6 1.5 1.6 1.5 1.6 1.4 1.7 1.2 1.8M277.6 254.9l1.1 1.9 1.1 1.9 1.3 1.8 1.6 1.5 1.5 1.6 1.5 1.6 1.7 1.4 1.9 1.1 1.9 1.1 1.3 1.8 1.4 1.7 1.3 1.7M278.8 214.7l1.1 1.9 1 2 1 1.9 1 2 0.6 2.1 1.4 1.7 1.7 1.3 1.8 1.4 1.2 1.8 1.8 1.4 2 0.9 1.8 1.2 2.1 0.7 1.6 1.4 1.4 1.7 2 1.1M314.1 313.4l1.8 1.3 1.8 1.2 1.7 1.4 1.6 1.5 1.9 1.1 1.9 1.2 2.1 0.6 1.8 1.2" stroke="#3e65f2" stroke-width="1.1"/>
<path d="M311.8 226.7l0.6 2.1 1 2 0.5 2.1 0.7 2.1 -0.1 2.2 0.2 2.2" stroke="#3082f6" stroke-width="1.1"/>
<path d="M335.8 263.7l1.5 1.6 1.9 1.1 1.8 1.3 1.6 1.5 2.1 0.6 2 1" stroke="#3c6af3" stroke-width="1.1"/>
<path d="M299.3 240.9l1.9 1.2 2 0.8 1.9 1 1.8 1.3 2.1 0.9 2 0.7 2.2 0.2 2.1 0.9 2 0.8 1.7 1.4" stroke="#288ef0" stroke-width="1.1"/>
<path d="M285.2 274.2l1.5 1.6 1.2 1.9 1 1.9 1.3 1.8 1.2 1.8 1.8 1.4" stroke="#4345d7" stroke-width="1.1"/>
<path d="M271.5 281.9l1.5 1.6 1.4 1.8 1.5 1.6 1.3 1.7 1.4 1.7 1.3 1.8 1.7 1.5 1.8 1.2 1.3 1.7 1.6 1.6" stroke="#4654ef" stroke-width="1.1"/>
<path d="M313.7 293.3l1.9 1.1 1.7 1.4 2 1 1.9 1.1 1.6 1.5 1.3 1.7 1.9 1.3 2 0.9 2.1 0.2 2.2 -0.2 2.2 -0.4 2.2 0.1" stroke="#1d9fe3" stroke-width="1.1"/>
<path d="M389.4 310.9l2.2 -0.4 2.1 -0.7 2.1 -0.6 2.2 -0.2 2 -0.9 2 -0.7 2.2 0 2.2 0.4 2.1 0.6 2.2 0.4 2.1 0.5 2.2 0.5 2.2 0" stroke="#2c89f5" stroke-width="1.1"/>
<path d="M354 304.1l1.9 1.1 1.7 1.4 1.8 1.3 1.7 1.4 1.5 1.6 0.9 2 1.4 1.7 1.8 1.3 1.8 1.2 2.1 0.6 2.1 0.9 2.1 0.2" stroke="#2c89f4" stroke-width="1.1"/>
<path d="M312.5 310l1.8 1.2 1.9 1.1 1.9 1.1 1.5 1.6 1.9 1.1 1.7 1.3 2 1.1 1.9 1.1 1.6 1.5 2 0.8M283.7 309.2l1.4 1.6 1.8 1.4 1.8 1.2 1.9 1 1.7 1.4 1.8 1.4 1.4 1.6 1.8 1.4 1.8 1.3 1.6 1.4 1.9 1.1 1.8 1.4 1.3 1.7 1.2 1.9" stroke="#3e26a9" stroke-width="1.1"/>
<path d="M287.3 292.7l1.7 1.4 1.8 1.2 1.3 1.8 0.9 2 0.8 2.1M303 274.8l1.7 1.3 1.8 1.3 2.1 0.6 2.1 0.8 1.9 1.1 1.9 1 1.9 1.2 2.1 0.5 2.2 0.3 2.1 0.8 1.8 1.3 1.9 1 2 1 2.1 0.6" stroke="#3872f4" stroke-width="1.1"/>
<path d="M290.7 302.8l1.9 1.1 1.6 1.4 1.5 1.6 1.3 1.8 1.3 1.8 0.9 2 0.9 2 1.6 1.5 2.2 0.6M365.9 299.1l1.7 1.3 2 1 1.8 1.3 2.1 0.7 2.2 0.3 2.2 0.1 2.1 -0.4 2.2 0.3 2.1 0.5M295.9 251.5l1.4 1.7 1.2 1.9 1.2 1.8 0.9 2 1 2 1.1 1.9 1.8 1.3 1.6 1.5M293.8 284.5l1.7 1.3 1.6 1.5 1.8 1.3 2.2 0.5 2 0.7 2.2 0.2 2.2 0.4 2 0.9 2.1 0.7 1.6 1.4 1.4 1.8 1 2 0.2 2.1 0.9 2M295.2 245.1l1.7 1.4 1 1.9 1.5 1.7 1 2" stroke="#4138c4" stroke-width="1.1"/>
<path d="M311.3 269.1l1.8 1.4 1.6 1.4 2 0.9 2.2 0.4 1.6 1.4 1.8 1.3M304.5 226.1l1.3 1.7 1.3 1.9 1.2 1.8 1 1.9 1.2 1.9 1.1 1.9 1.5 1.6 0.5 2.1 0.5 2.2 -0.4 2.1 0.2 2.2 0.5 2.1 0.9 2.1 1.2 1.8 0.9 2" stroke="#2397ea" stroke-width="1.1"/>
<path d="M316.6 301.1l2 1.1 2.1 0.3 2.1 0.7 1.8 1.2 1.3 1.8 1.7 1.4 1.5 1.6 1 2 1.4 1.7 0.9 2 1.6 1.5 1.7 1.4 1.8 1.1 2.2 0.5" stroke="#4558f0" stroke-width="1.1"/>
<path d="M375.7 314.4l2.2 -0.1 2.2 -0.2 2.2 0.2 2.2 0.4 2.1 0.5 2 0.8M305.2 262.7l2 1 2.1 0.7 1.9 0.9 1.8 1.3 1.9 1.2 1.8 1.2 1.4 1.8 1.3 1.7 1.9 1.2 1.8 1.3 1.2 1.8 1.5 1.6 1.7 1.4M299.9 256.7l1.9 1.1 1.7 1.5 1.3 1.7 0.5 2.2" stroke="#423bc9" stroke-width="1.1"/>
<path d="M304.1 256.2l1.3 1.8 1.5 1.6 1.6 1.5 1.7 1.3 1.8 1.3 2 0.9 2 0.9 2.2 0.6 2 0.9 1.9 1 1.9 1.2 1.9 1 1.8 1.4 1.9 1 1.9 1.1" stroke="#298ef1" stroke-width="1.1"/>
<path d="M304.5 259.1l1.3 1.7 1.4 1.7 0.9 2.1 1 1.9 0.8 2.1M288.6 309.9l1.8 1.2 2.1 0.9 2 0.9 1.5 1.6 2 0.9 1.8 1.2 2.1 0.7 2 0.8 2.2 0.4 2.1 0.5" stroke="#317ff5" stroke-width="1.1"/>
<path d="M309.3 251.5l1.5 1.7 1.9 1.1 2.1 0.3 2.1 0.8 1.9 1.1 2 1 1.4 1.6 1.5 1.7 1.3 1.7 0.7 2.1 1.1 1.9 1.1 1.9" stroke="#423bc8" stroke-width="1.1"/>
<path d="M307 301.9l2 1 2.1 0.5 2.1 0.7 2.1 0.7 2.2 0.5 2.1 0.5 2 0.8 2 1.1 1.8 1.2 1.6 1.5 1.6 1.5 2.1 0.7" stroke="#4160f1" stroke-width="1.1"/>
<path d="M314.9 271.2l2 0.9 2.2 0 2 0.7 2 1 1.8 1.2 1.8 1.4 2 0.8 2 0.9 2 1 2 0.8 2 1 2 0.9 2 1 2.1 0.6 2.2 -0.1 2.2 0.2" stroke="#396ff3" stroke-width="1.1"/>
<path d="M307 280.3l1.4 1.7 1.7 1.4 1.6 1.5 1.4 1.7 1.7 1.4 1.7 1.4 1.8 1.2 1.7 1.4 1.8 1.4 2 0.8 2.1 0.7 2.1 0.6" stroke="#4033bc" stroke-width="1.1"/>
<path d="M299.4 205.8l1.4 1.7 0.9 2 0.6 2.1 0.5 2.2 0.4 2.1 0.6 2.2 1.1 1.8 1.4 1.7 0.8 2.1 1.1 1.9 0.8 2 0.8 2.1 1 2 0.7 2 0.2 2.2 1 2M367.9 299.2l2 1 2.1 0.5 2.2 0.2 2.2 0.4 2.2 0.2 2 0.8 1.8 1.3 2.1 0.8 2.1 0.5 2.2 0.3 2.1 0.6 2.1 0.6" stroke="#3f2db3" stroke-width="1.1"/>
<path d="M306.9 313.8l1.8 1.2 1.5 1.7 1.8 1.2 1.8 1.3 1.8 1.3 1.7 1.4 1.6 1.4 1.6 1.6 1.7 1.4M370.1 300.7l2.1 0.6 2 0.7 2.2 0.4 2.2 0.2M327.3 268.9l1.8 1.1 1.6 1.6 1.5 1.6 1.6 1.5 1.5 1.6 1.1 1.9 1.5 1.6 1.4 1.7 1.8 1.3 1.8 1.3 1.9 1" stroke="#3773f4" stroke-width="1.1"/>
<path d="M301.1 236.5l1.1 2 0.5 2.1 1.4 1.8 1.5 1.5 1.9 1.1 1.9 1.2 1.6 1.5 1.5 1.6 0.9 2 0.6 2.1 0.8 2.1 1.5 1.6" stroke="#3e26a8" stroke-width="1.1"/>
<path d="M273.9 282.4l1 1.9 1.2 1.8 1.5 1.7 0.9 2 0.7 2.1 1.6 1.5 1.6 1.5" stroke="#454de3" stroke-width="1.1"/>
<path d="M290.8 219.7l0.7 2 1.1 1.9 1.2 1.9 1 1.9" stroke="#3e29ad" stroke-width="1.1"/>
<path d="M287 207.4l1.1 1.9 0.9 2 1.5 1.7 0.9 1.9 1.1 2 0.8 2 1.1 1.9 0.8 2.1 0.8 2 0.9 2 1.4 1.7 1.5 1.6" stroke="#435cf1" stroke-width="1.1"/>
<path d="M313.7 282.4l1.3 1.7 1.5 1.6 1.4 1.8 1.9 1.1 2 0.8 2 1.1 1.6 1.4 1.1 2 1.5 1.5 1.8 1.3 2 0.8 2.2 0M296.3 234.3l1.7 1.4 1.3 1.8 1.7 1.4 1.8 1.3 2 0.9 2 0.9 2.1 0.5 1.7 1.4 1.7 1.5 1.8 1.1 1.9 1.2 1.6 1.5 1.6 1.5M322.2 293.4l1 2 1.3 1.7 1.1 2 2 1 1.7 1.4 2 0.9 2.1 0.6 2.2 0.3 2 0.8 2 1 2.1 0.8 1.3 1.7 1.4 1.7" stroke="#3d68f2" stroke-width="1.1"/>
<path d="M345.2 285.1l1.7 1.4 1.9 1 2 1 2.1 0.7 2 0.9 2.1 0.7 2.1 0.7 1.7 1.4 1.3 1.7 2.1 0.9 1.9 0.9 2.2 0.5 2.2 0.3 2.1 -0.3 2.1 -0.7M287.7 267l0.9 2 1.1 1.9 1.3 1.8 1.1 1.9 0.8 2 1.2 1.9 1.6 1.5 1.7 1.4 1.9 1.1 2 0.8 2.1 0.8 2 1 1.7 1.4 1.7 1.3 2.1 0.8" stroke="#423cca" stroke-width="1.1"/>
<path d="M304.6 232.7l1.1 1.9 1.9 1.2 1.7 1.4 1.4 1.7 1.5 1.6 1.8 1.3 1.7 1.3 1.6 1.6 1.4 1.7 1.8 1.3 1.8 1.2 1.8 1.3 1.6 1.4 1.8 1.3" stroke="#454be0" stroke-width="1.1"/>
<path d="M297.2 278.9l2.1 0.7 1.3 1.7 1.8 1.3 1.7 1.4 1.7 1.4 1.7 1.4 1.9 1.2 1.4 1.7" stroke="#423ac8" stroke-width="1.1"/>
<path d="M302.3 249.5l1.3 1.8 1.5 1.6 1.4 1.7 1.2 1.8 1.6 1.6 1.7 1.3 2.1 0.7 2 1 1.9 1 2 1 2.1 0.6 2.2 0.5 2.1 0.3 2.1 0.8M387.5 310.7l2.2 -0.2 2.2 -0.2 2.1 0.6 2.2 0" stroke="#3970f3" stroke-width="1.1"/>
<path d="M284.4 283.3l1.4 1.8 1.1 1.8 1.5 1.7 1.4 1.7 1.7 1.4 1.6 1.5 1.7 1.4 1 2 1.6 1.4 1.5 1.7 1.8 1.2 1.4 1.7 1.5 1.6 1.7 1.5M300.3 275l1.7 1.5 1.8 1.2 1.7 1.4 1.6 1.5 2.1 0.9" stroke="#413ac7" stroke-width="1.1"/>
<path d="M284 214.8l1 1.9 0.9 2 1.1 1.9 0.8 2.1 0.8 2 1.2 1.9 0.7 2.1 0.7 2.1" stroke="#4032ba" stroke-width="1.1"/>
<path d="M334.8 301.2l1.9 1.1 2.2 0.4 2.1 0.5 2.2 -0.3 2.1 0.6 2 0.9 1.9 1.2 1.7 1.3 1.9 1.1 1.4 1.7 1.3 1.8 2 1 2 0.9M354.8 294.1l1.9 1.1 1.8 1.3 2.1 0.6 1.8 1.2M304.2 273.5l2 0.8 1.9 1.1 1.3 1.8 1.5 1.6 1.9 1.2" stroke="#435bf0" stroke-width="1.1"/>
<path d="M380.2 307.4l2.2 0.4 2.1 0.7 2.2 0.2 2.2 -0.2 2.1 -0.3 2.2 -0.4 1.9 -1.1 2.1 -0.5 2.2 -0.6 1.9 -0.9" stroke="#1d9fe4" stroke-width="1.1"/>
<path d="M326.4 253.8l1.8 1.3 1.6 1.4 1.8 1.3 1.7 1.5M286.8 292.9l1.9 1.1 1.7 1.4 1.7 1.4 1.8 1.3 1.5 1.6 1.4 1.7 1.5 1.6 1.5 1.6 1.6 1.5" stroke="#3f2fb6" stroke-width="1.1"/>
<path d="M273.6 248.3l1.2 1.8 1 2 0.7 2.1 1.1 1.9 0.9 2 1.1 1.9 1.1 1.9 1.2 1.9 1.6 1.5" stroke="#4031b9" stroke-width="1.1"/>
<path d="M322.2 292l2.1 0.9 2.2 0 2.1 0.6 2.1 0.6M343.8 312.8l1.4 1.8 1.9 1.1 2 0.9 2 0.9 1.8 1.2 2.1 0.7 2.1 0.8 1.9 1.1 1.7 1.4 1.9 1 2.1 0.7" stroke="#2c88f5" stroke-width="1.1"/>
<path d="M355.7 271.6l1.9 1 2.2 0.4 2.1 0.6 2.2 0.5 2.1 0.3 1.6 1.6 2.1 0.4 2.2 0.5 2.1 0.5 1.9 1.2" stroke="#423dcc" stroke-width="1.1"/>
<path d="M330.5 302.3l2.1 0.5 1.9 1.2 1.7 1.3 1.9 1.2 2.1 0.7 2.1 0.4 2.2 0.4 2.2 0.3M279.1 284.8l1.7 1.3 1.5 1.6 1.3 1.8 1.4 1.7 1.9 1.2 1.6 1.5 1.2 1.8 1.1 1.9 1.5 1.7" stroke="#4341d2" stroke-width="1.1"/>
<path d="M290.3 247.1l1.9 1.2 1.7 1.3 1.2 1.9 0.6 2.1 0.6 2.1 0.2 2.2 0.8 2 0.7 2.1 1.2 1.9M343.4 264.8l1.9 1.1 2 1.1 2 0.8 2 0.9 2 1 2.1 0.3 2 1 2.1 0.7 2.1 0.6 2 1.1 1.7 1.4 2 0.8 2 0.8 2.1 0.7" stroke="#4340d1" stroke-width="1.1"/>
<path d="M349.5 270l1.9 1.2 1.7 1.4 1.7 1.3 1.9 1.2 2.1 0.7 2 0.7 2.1 0.8 2.2 0.2 2.2 0.2 2.1 0.4 2.2 0.5 2.1 0.6 1.9 1.1" stroke="#3f64f2" stroke-width="1.1"/>
<path d="M311 240.4l1.3 1.8 1.4 1.6 2 1 1.8 1.3 1.8 1.2" stroke="#454be1" stroke-width="1.1"/>
<path d="M346.5 299.5l2 0.9 2 0.9 2.1 0.7 2.1 0.6 2.2 0 2.2 0.2 2.1 0.4 2.1 -0.8" stroke="#19a5de" stroke-width="1.1"/>
<path d="M333.3 307.5l1.7 1.3 2.1 0.7 1.7 1.5 1.5 1.6 1.4 1.7 2.1 0.7 2 0.9 1.7 1.4 2.2 0.5 2.1 0.7 2.2 0.1 2.1 0.5 1.9 1.1 2 1 2.1 0.4" stroke="#4034bd" stroke-width="1.1"/>
<path d="M317.7 276.1l1.6 1.4 1.4 1.8 2.1 0.6 2 0.8 2 1 1.8 1.2 2.1 0.7 1.6 1.5 1.5 1.6 1.6 1.5 1.5 1.6 1 2 1.6 1.5 1.3 1.8 2.1 0.7 2.2 0.4" stroke="#3081f6" stroke-width="1.1"/>
<path d="M292.7 242.9l1 2 0.2 2.2 1.2 1.8 1.4 1.7 1.6 1.5 1.4 1.7 1.8 1.3 1.9 1.1 1.8 1.3 1.6 1.5 1.9 1.1 1 1.9 1.1 1.9 0.9 2 0.8 2.1" stroke="#4557f0" stroke-width="1.1"/>
<path d="M306.6 313l1.7 1.3 1.7 1.4 1.7 1.4 1.7 1.4 1.4 1.7 1.6 1.5 1.9 1.1 2 1 2.1 0.7 2 0.8 2.1 0.7 2.1 0.7 1.9 1 2.2 0.5 1.7 1.4M343.1 272l1.3 1.7 1.8 1.3 1.9 1.2 1.8 1.2 1.8 1.3 1.6 1.5 2.1 0.5 2.1 0.6 1.7 1.5 2 0.8M346.5 301.7l1.8 1.2 2 1.1 2 0.9 1.5 1.5 1.9 1.3 2.1 0.6 2.1 0.3 2.2 0.5 2 0.8 2.2 0.5 1.3 1.7 1.7 1.4 1.5 1.6" stroke="#4030b8" stroke-width="1.1"/>
<path d="M319.1 263.9l2 1 2 0.8 2.2 0.3 1.7 1.4 2 0.8 2.2 0.5 2.2 0.3 2.2 -0.1 2.1 0.3 2.1 0.8 2.1 0.4 2.2 0 2.2 0.2" stroke="#12afd6" stroke-width="1.1"/>
<path d="M332.5 312.4l1.8 1.2 1.8 1.2 1.7 1.5 1.8 1.2 1.9 1.2 2 0.9 2.1 0.6 2 1 1.9 1 1.9 1.2" stroke="#4652ec" stroke-width="1.1"/>
<path d="M307.1 271.6l1.4 1.6 1.6 1.5 1.8 1.4 1.8 1.3 1.7 1.3 1.6 1.5 1.7 1.4 1.4 1.7 1.6 1.5 1.7 1.4" stroke="#4136c1" stroke-width="1.1"/>
<path d="M291.7 274.8l1.5 1.6 1.3 1.8 1.5 1.6 1.3 1.8 1.8 1.3 1.5 1.6M299.7 305.6l1.7 1.4 1.4 1.7 1.2 1.9 1.6 1.5 1.1 1.9 0.8 2 1.5 1.7 1.5 1.5 2 1.1 1.9 1" stroke="#4342d3" stroke-width="1.1"/>
<path d="M293.6 296.5l1.7 1.4 1.8 1.3 2.1 0.7 2.1 0.4 2.2 0 2.2 0.1 2.1 0.8 1.9 1.2 1.7 1.4 1.7 1.3 2 0.9 1.7 1.4" stroke="#2790ef" stroke-width="1.1"/>
<path d="M305.5 258.9l1.4 1.7 1.6 1.5 0.1 2.2 0.6 2.1M374 309.4l1.9 1 2.1 0.7 2.2 0.5 2.1 0.3 2.2 0.5 2.2 0.3 2.1 -0.3 2.2 -0.1 2.2 0.1 2.2 0.3 2.2 0.3 2.2 0.3 2.2 0.1 2.1 -0.5 2.2 -0.4 1.8 -1.3" stroke="#4459f0" stroke-width="1.1"/>
<path d="M278.2 283.2l1.7 1.4 1.5 1.6 1.9 1.1 1.6 1.5 1.1 1.9 1.3 1.8 1.6 1.5M297.4 299.6l1.4 1.7 1.4 1.7 1.3 1.7 1.8 1.3 1.7 1.4 1.4 1.8 1.6 1.4 1.6 1.5 1 2 1.1 1.9 0.8 2.1 1.3 1.7 1.6 1.6 1.5 1.6 1.3 1.8M298.9 213.1l0.5 2.2 0.2 2.2 0.7 2.1 1.6 1.5 1.3 1.7" stroke="#4656f0" stroke-width="1.1"/>
<path d="M381.8 299.7l2.2 0.5 2.2 0.1 2.2 -0.2 2.1 -0.4 2.2 -0.3 2.2 0.4 1.8 1.3 1.8 1.3 1.8 1.2 2.1 0.4 2 0.9 2.1 0.7 2.1 0.8M292.6 206.7l0.5 2.2 0.6 2.1 0.8 2 0.9 2.1 1.3 1.7 1.1 1.9 0.9 2 0.8 2.1 0.7 2 0.9 2 1.2 1.9" stroke="#3e27aa" stroke-width="1.1"/>
<path d="M353.8 281.2l1.7 1.4 1.7 1.3 2.1 0.8 1.9 1.1" stroke="#3675f4" stroke-width="1.1"/>
<path d="M366 294.5l2 0.9 2 0.7 2 1 1.6 1.5 2 1M326.6 296.2l1.9 1.2 2.1 0.6 2.1 0.7 2.1 0.7 2.2 0.3" stroke="#454ce3" stroke-width="1.1"/>
<path d="M324.1 276.4l1.7 1.4 1.9 1.1 2 0.9 1.8 1.3 1.7 1.4" stroke="#4653ee" stroke-width="1.1"/>
<path d="M289.3 216.3l1.1 1.9 1 1.9 0.4 2.2 0.6 2.1 1.5 1.6 1 2 0.6 2.1 1 2 0.4 2.1 0.2 2.2 0 2.2 0.9 2 1.1 1.9 1.2 1.9" stroke="#454de4" stroke-width="1.1"/>
<path d="M297 237.2l1.6 1.5 1.4 1.7 1.9 1.1 1.8 1.2 1.6 1.5 1.3 1.8 1.4 1.8 1.1 1.8 1.3 1.8 1.3 1.8 1.6 1.5 1.4 1.7 1.2 1.9" stroke="#4137c3" stroke-width="1.1"/>
<path d="M333.1 308.7l1.9 0.9 2 1 2.1 0.6 2 0.9 2.2 0.3 2.2 0.1 2.2 -0.2 2.2 -0.3 2.1 -0.7 2 -0.9 2.1 -0.5" stroke="#3871f3" stroke-width="1.1"/>
<path d="M290.9 264.7l1 1.9 1.2 1.9 1.5 1.6 1.7 1.3 1.7 1.5 1.6 1.5 1.2 1.8 1.8 1.3 1.2 1.8 1.8 1.4 2 0.8 1.6 1.5 1.2 1.9" stroke="#3f2bb0" stroke-width="1.1"/>
<path d="M313.6 247.6l1.4 1.7 1.6 1.5 1.2 1.9 1.7 1.4 1.6 1.5 1.7 1.3 0.7 2.1 1 1.9 1.2 1.9 0.9 2 1.8 1.3 1.6 1.5 2.1 0.9 2.1 0.4M320.7 302l2 1 1.7 1.3 2 0.9 1.8 1.3 1.8 1.3 1.9 1.1M291.6 210.1l1.3 1.9 1.1 1.8 1 2 0.6 2.1 0.5 2.2 0.7 2 0.9 2 1.2 1.9 0.9 2" stroke="#3e28ac" stroke-width="1.1"/>
<path d="M293.9 308.6l1.4 1.7 1.8 1.3 1.7 1.3 1.4 1.8 1.5 1.6" stroke="#4138c5" stroke-width="1.1"/>
<path d="M347.1 302.9l1.6 1.5 1.8 1.3 2.1 0.6 2.2 0.1M270.9 232.2l1 1.9 0.4 2.2 0 2.2 -0.2 2.2 -0.1 2.2 -0.4 2.2 0.6 2.1 1.1 1.9 1 1.9 1.6 1.5 1.6 1.6 1.3 1.7" stroke="#4654ee" stroke-width="1.1"/>
<path d="M311.3 261.8l2.2 0.5 2 0.9 2.1 0.7 1.9 1 2.1 0.7 2.2 0.2 2 0.9 1.9 1" stroke="#3a6df3" stroke-width="1.1"/>
<path d="M301.7 306.7l2.1 0.6 2.2 0.3 2.2 -0.1 2.1 0.4 2.2 0.1 2.2 0.5 2 0.8 1.9 1.1 2 1 1.9 1.1M386.3 309.3l2.1 0.9 2 0.8 2.1 0.5 2.1 0.7 2.2 0.3 2.2 0.4 2.1 -0.3 2.2 -0.1 2.2 0.7" stroke="#3f63f2" stroke-width="1.1"/>
<path d="M280.4 209.6l-0.1 2.2 0 2.2 0.2 2.2 0.7 2.1 0.8 2 1.5 1.6 1.4 1.7 1.3 1.8 1.2 1.8 0.6 2.1 0.3 2.2 0.6 2.1 0.9 2 0.8 2.1" stroke="#3f30b7" stroke-width="1.1"/>
<path d="M351.7 273.1l2 1 2.1 0.6 2.2 0.2 2.2 0.4 2.1 -0.2 2.2 0.5 2.2 0.4 2.1 0.2 2.2 0.4 2.2 0.3 2.2 0.2 1.8 1.3 1.7 1.3 1.3 1.8 1.6 1.5 1.7 1.4" stroke="#3e66f2" stroke-width="1.1"/>
<path d="M299.2 258.9l1.2 1.9 1 1.9 1.7 1.4 1.7 1.4 1.5 1.6" stroke="#3e2aae" stroke-width="1.1"/>
<path d="M281.2 198.9l0.7 2.1 0.2 2.2 0.9 2 0.8 2 1.2 1.9 0.8 2 0.7 2.1 1.1 2 1.7 1.3 1.3 1.7 1.8 1.3 1.9 1.2" stroke="#454ee5" stroke-width="1.1"/>
<path d="M271 196.8l1.3 1.7 1.8 1.3 1.3 1.8 1.3 1.8 1.5 1.6 0.6 2.1 0.7 2.1 0.5 2.1 0.6 2.2 0.3 2.1 0.4 2.2" stroke="#2593ed" stroke-width="1.1"/>
<path d="M376.2 294.5l2.2 0.6 2.1 0.4 2.1 0.7 2.1 0.7 2 0.9 2.1 0.5 2 1 1.8 1.2 1.9 1.1 2.1 0.6 2.2 0.6 2.1 0.6" stroke="#4447db" stroke-width="1.1"/>
<path d="M294.2 229.3l1.2 1.8 0.7 2.1 0.5 2.2 0.9 1.9 1.2 1.9 1 2 1.3 1.8 1.3 1.7 1.5 1.6 1.5 1.7 1.4 1.6 1.6 1.5 1.5 1.7 1.4 1.6 2 1" stroke="#4655f0" stroke-width="1.1"/>
<path d="M346.9 266.7l2 0.9 1.6 1.5 1.6 1.6 1.8 1.2 1.9 1 1.8 1.3 2.1 0.8 2 0.9 2.1 0.3 2.2 -0.3 2.2 -0.6 2.1 -0.2" stroke="#3577f4" stroke-width="1.1"/>
<path d="M276.2 295l2 0.8 2.2 0.2 2.2 0.3 2.2 -0.2 1.9 1 1.9 1.1 2.2 0.5 2 0.9 2 0.9 2 0.9 2.1 0.5 2.1 0.9" stroke="#3676f4" stroke-width="1.1"/>
<path d="M319.2 256.5l1.9 1.1 1.6 1.5 1.4 1.7 1.6 1.5 1.6 1.5 2 1.1 1.4 1.7 1.8 1.2 1.9 1.1 1.7 1.4 1.7 1.3 1.8 1.4 1.8 1.2 2 1 1.7 1.3 1.9 1.1" stroke="#4445d8" stroke-width="1.1"/>
<path d="M271.2 208.6l1.3 1.8 1.6 1.4 1.7 1.5 1.8 1.2 1.7 1.5 2 0.9 1.9 1 2.1 0.7 2.2 0.1 2.2 0.5 2.1 0.5 1.7 1.5 1.4 1.6 1.4 1.8 1 1.9" stroke="#2b8bf3" stroke-width="1.1"/>
<path d="M338.5 262.1l1.3 1.7 1 2 0.8 2 1.2 1.9 1.6 1.6 1.5 1.5 1.6 1.5 1.6 1.5 2.1 0.5 2.2 0.5 1.8 1.2 2.1 0.6" stroke="#425df1" stroke-width="1.1"/>
<path d="M360.1 296.2l1.9 1.1 2.1 0.7 2.2 0.4 2.2 -0.2 2.1 0.5 2.2 0.2 2.2 0.1 2.2 0.1 2.1 0.6 2 0.9 1.9 1.2 2.1 0.6" stroke="#347af5" stroke-width="1.1"/>
<path d="M343 303.5l2.2 0.2 2.2 0.4 1.8 1.3 1.6 1.5 1.8 1.2 1.2 1.9 1.8 1.3 2.1 0.6 2.1 0.5" stroke="#3c69f2" stroke-width="1.1"/>
<path d="M311.4 239l1.4 1.6 1.7 1.5 1.8 1.2 2.2 0.4 1.8 1.3 1.6 1.5 1.1 1.9 1.1 1.9 1.5 1.6 0.6 2.1 1.6 1.5 1.2 1.9 1.7 1.4 1.8 1.2" stroke="#454be2" stroke-width="1.1"/>
<path d="M269.9 203.2l1.2 1.9 1.1 1.9 0.7 2.1 0.6 2 1.5 1.7 1.3 1.7 1.8 1.3 2 1" stroke="#2495eb" stroke-width="1.1"/>
<path d="M333.3 271.2l1.7 1.4 1.5 1.7 1.6 1.4 2.1 0.8 2.1 0.5 1.9 1.2" stroke="#3f2cb1" stroke-width="1.1"/>
<path d="M322 212l1.4 1.4 1.1 1.7 1 1.7M336 215l1.9 0.6 1.7 1 0.5 1.9M384 268l-0.1 2 -0.5 1.9 -1.5 1.4 -0.6 1.9 -1.5 1.3 -1.4 1.4M343 236l1.2 1.6 1.9 0.7 1.9 -0.4 2 -0.1 2 0.4M386 250l1.8 0.8 0.9 1.8 1.2 1.6" stroke="#dcc438" stroke-width="1.25"/>
<path d="M330 222l-1.6 1.2 -1.4 1.5 -1.9 0.5 -1.9 0.4M380 258l-1.8 0.9 -1.5 1.3 -1.4 1.5M326 229l1.4 1.4 0.6 1.9 0.2 2M333 230l-0.9 1.8 -1.1 1.7 -1.3 1.5 -1.2 1.6 -0.8 1.8 -1.7 1.1" stroke="#19b5c9" stroke-width="1.25"/>
<path d="M338 226l-1.6 1.2 -1.2 1.5 -1.4 1.5 -0.8 1.9 0.1 2M345 222l-0.4 2 -0.3 1.9 -0.4 2M365 210l0.9 1.8 0.7 1.9 1.8 0.8 1.7 1.1 1.9 0.3 1.8 1" stroke="#93c74b" stroke-width="1.25"/>
<path d="M348 232l-1.1 1.7 -0.4 2 0.4 1.9 0.8 1.9 1.3 1.5M362 247l1.3 1.5 0.4 2 0.6 1.9 0.9 1.8M378 275l-1 1.8 -1.4 1.3 -0.9 1.8 -1.6 1.3 -1.4 1.4" stroke="#425ff1" stroke-width="1.25"/>
<path d="M356 205l-2 0.3 -1.7 1.1 -0.7 1.8 -1.2 1.7" stroke="#3873f4" stroke-width="1.25"/>
<path d="M368 262l-1.9 0.7 -2 -0.1 -1.8 -0.7M354 228l-1.1 1.7 -0.5 1.9 -0.7 1.9 -1.3 1.5 -1.7 1 -1.9 0.6" stroke="#fdc836" stroke-width="1.25"/>
<path d="M372 270l-0.4 2 0 2 -0.3 1.9 -0.5 2 -0.9 1.8" stroke="#37c897" stroke-width="1.25"/>
<path d="M374 205l-1.7 1 -2 0.2 -2 0.1 -2 0.2 -1.9 -0.7 -1.8 -0.8M384 206l1.9 0.6 2 0.3 1.7 1 1.5 1.4" stroke="#fec338" stroke-width="1.25"/>
<path d="M350 218l1.7 1 1.8 0.9 2 0.3 2 0.4 1.9 0.5M312 203l2 0 1.9 0.7 2 0.1 1.9 -0.5 1.9 -0.6" stroke="#2e87f7" stroke-width="1.25"/>
<path d="M275.5 210C275.9 210.7 276.4 212 277.6 214.4C278.8 216.8 280.9 221.3 282.7 224.6C284.5 227.9 286.4 231.1 288.3 234.3C290.2 237.5 291.9 240.8 293.9 244C295.8 247.2 297.8 250.7 300 253.8C302.2 256.9 304.6 259.7 307.2 262.4C309.8 265.1 312.5 267.6 315.5 270C318.5 272.4 321.9 274.7 325 276.8C328.1 278.9 330.8 280.9 334 282.8C337.2 284.7 340.8 286.6 344 288.2C347.2 289.8 349.8 291.1 353 292.5C356.2 293.9 359.3 295.3 363 296.7C366.7 298.1 370.9 299.6 375 301C379.1 302.4 384.9 304.4 387.6 305.3C390.3 306.2 390.4 306.2 391 306.4" stroke="#e8141c" stroke-width="1.5" stroke-dasharray="2.2 3.4" stroke-linecap="butt"/>
<path d="M295.5 195.8C295.9 196.3 296.4 196.9 298 198.6C299.6 200.3 302.3 203.4 304.9 205.9C307.4 208.4 310.8 210.9 313.3 213.6C315.8 216.2 319.7 219 319.7 221.8C319.7 224.6 314.3 227.4 313.5 230.6C312.7 233.8 313.6 237.7 315 240.8C316.4 243.9 319.4 246.8 322.2 249.2C325 251.6 328.7 253.4 332 255.3C335.3 257.2 338.5 259.1 341.9 260.9C345.3 262.6 349 264.2 352.5 265.8C356 267.4 359.4 268.5 363 270.2C366.6 271.9 370.2 273.9 374 276C377.8 278.1 382.9 280.9 385.7 282.5C388.5 284.1 390.1 285 391 285.5" stroke="#e8141c" stroke-width="3.1" stroke-dasharray="5.8 4.5" stroke-dashoffset="3" stroke-linecap="butt"/>
</g>
<linearGradient id="cb1" x1="0" y1="0" x2="0" y2="1"><stop offset="0" stop-color="#f8d23a"/><stop offset="0.18" stop-color="#e6c83e"/><stop offset="0.36" stop-color="#7cc46a"/><stop offset="0.55" stop-color="#25b3c8"/><stop offset="0.75" stop-color="#2e7df2"/><stop offset="1" stop-color="#4334c8"/></linearGradient><rect x="374.9" y="208.5" width="6.4" height="26.5" fill="url(#cb1)"/>
<text x="373.2" y="207.2" font-size="10">90°</text>
<text x="375.4" y="243.6" font-size="10">0°</text>
<line x1="364.8" y1="304.7" x2="381.9" y2="304.7" stroke="#000" stroke-width="1.6"/>
<rect x="275.6" y="195.6" width="114.2" height="113.8" fill="none" stroke="#333" stroke-width="1"/>
<text x="332.7" y="191" font-size="12.7" text-anchor="middle">CAF#1 orientation</text>
<clipPath id="dcr"><rect x="396.5" y="195.6" width="113.9" height="113.8"/></clipPath>
<g clip-path="url(#dcr)" fill="none" stroke-linecap="round" stroke-linejoin="round">
<path d="M416 195.5C416.4 195.8 416.4 195.3 418.4 197.5C420.4 199.7 425 205.5 427.9 208.5C430.8 211.5 434.1 213.4 436 215.5C437.9 217.6 439.4 218.6 439.2 220.8C439 223 436.2 226.1 435 228.5C433.8 230.9 432.2 233.1 432 235C431.8 236.9 432.6 238.4 433.5 240C434.4 241.6 435.5 242.8 437.3 244.5C439.1 246.2 442 248.6 444.5 250.5C447 252.4 449.4 254.1 452.5 255.9C455.6 257.7 459.5 259.8 463 261.5C466.5 263.2 470.1 264.8 473.4 266.4C476.7 267.9 479.8 269.4 483 270.8C486.2 272.2 489.4 273.5 492.4 274.9C495.4 276.3 498.1 277.6 501 279C503.9 280.4 507.5 282.3 509.5 283.4C511.5 284.4 512.4 285 513 285.3L513 194L416 194Z" fill="#f9cdd0" stroke="none"/>
<path d="M396.7 275.2l2.2 -0.4 1.8 1.4 1 2.1 1.7 1.6 1.8 1.3 1.8 1.5 1.7 1.6 2.2 0.7M427.8 272.2l2.3 0.5 2.2 0.5 1.7 1.5 1.8 1.5 1.5 1.7 2.1 1.1" stroke="#45c78b" stroke-width="1.1"/>
<path d="M408.9 238.4l1.2 1.9 1.4 1.9 1.8 1.4 1.5 1.7 1.2 2 0.9 2.1 0.7 2.2 1.3 1.9M403.7 281.1l1.7 1.5 2 1 1.8 1.5 1.3 1.9 1.5 1.7" stroke="#3d67f2" stroke-width="1.1"/>
<path d="M412.2 274.5l1.1 2 2.2 0.9 0.1 2.3 0.5 2.2 1.7 1.6 1.3 1.8 0.8 2.2 1 2 1.3 2 1.1 2 1.8 1.3 1.1 2.1" stroke="#2bc1aa" stroke-width="1.1"/>
<path d="M403.9 209.1l1.3 1.9 1.8 1.4 1.2 2 1.3 1.9 0.5 2.2 1.3 1.9 0.1 2.3 0.5 2.2 1.2 2.1 1.7 1.5 1.2 1.9M402.7 293.5l0.5 2.3 1.3 1.9 1.3 1.9 2.1 0.8 1.8 1.5 2.3 0.3 1.5 -1.7 2.3 -0.2 2.3 -0.2" stroke="#25bdb4" stroke-width="1.1"/>
<path d="M419.4 268l1.5 1.7 1.7 1.6 1.4 1.8 1.7 1.6" stroke="#454ce2" stroke-width="1.1"/>
<path d="M429.4 269.6l2 1.1 1.9 1.2 2.1 1 2.1 0.9 1.6 1.6 1.4 1.9" stroke="#3774f4" stroke-width="1.1"/>
<path d="M424.2 243.1l1.6 1.7 1.6 1.6 1.9 1.4 0.5 2.2 1.1 2 -0.1 2.3 0.3 2.3 1.9 1.3 1.9 1.3 0.1 2.3M503.4 283.9l2 1.1 2.2 0.8 1.9 1.1 2.2 0.8 2.2 0.5 2.3 0.6 2.2 0.3 2.3 0" stroke="#2692ee" stroke-width="1.1"/>
<path d="M402.3 201.6l0.3 2.3 0.1 2.3 -0.1 2.3 0.2 2.3 0.5 2.2 0 2.3" stroke="#54c77f" stroke-width="1.1"/>
<path d="M411.6 311l2 1.2 2.1 1 1.8 1.3 1.7 1.6 1.6 1.7 1.1 2 1.7 1.6 1.9 1.2 1.7 1.6 1.7 1.5 1.5 1.7 2 1.2M423.4 207.8l0.7 2.2 0.8 2.1 1.3 1.9 1 2.1 1 2.1" stroke="#1e9ee4" stroke-width="1.1"/>
<path d="M428.8 245.8l1.3 1.9 1.5 1.8 1.1 2" stroke="#327df5" stroke-width="1.1"/>
<path d="M421.4 284.8l2 1.1 2.1 0.8 1.5 1.8 1.6 1.7 1.6 1.6 1.8 1.4 1.7 1.6 1.7 1.5 2 1.1 1.9 1.4 1.8 1.4" stroke="#4652ec" stroke-width="1.1"/>
<path d="M428.9 271.8l2.2 0.8 0 2.3 1.5 1.8 1.9 1.3 2.3 0.2 2 1 2.3 0.5 1.8 1.4 2.2 0.6M410.3 265.4l2 1.3 1.9 1.2 2 1.2 1.7 1.5 1.7 1.6 1.5 1.7 1.5 1.8 1.7 1.5 1.8 1.5 1.7 1.4 1.4 1.9M407.8 202.8l1.2 1.9 0.9 2.1 1.5 1.8 1.6 1.6 1.4 1.9 0.6 2.2 0.2 2.3 1 2 1.3 2 1.7 1.5" stroke="#1aa3e0" stroke-width="1.1"/>
<path d="M443.5 303.1l2.1 0.9 2.3 0.4 2.1 0.8 1.8 1.5 1.9 1.3 2.1 0.8 1.9 1.3 2 1.1 1.8 1.5 1.9 1.2" stroke="#13aed8" stroke-width="1.1"/>
<path d="M489.3 301.7l2.3 0.2 2.2 -0.8 2.3 -0.3 2.3 -0.2 2.3 0.2 2.3 0.1 2.2 0.6 2.2 0.5 2.2 0.8 2.3 0.4 2.2 0.4" stroke="#1ca0e2" stroke-width="1.1"/>
<path d="M425.1 265.7l0.9 2.2 1.6 1.6 2.1 1 2 1.1 2.2 0.8 1 2M398 282.4l1.7 1.7 1.7 1.5 2.1 0.9 2.2 0.5 2.3 0.4 2.1 -0.9 2.3 0.1 2.3 0.1" stroke="#e2c438" stroke-width="1.1"/>
<path d="M440 250.1l1.4 1.9 1.6 1.6 1.6 1.6" stroke="#3e66f2" stroke-width="1.1"/>
<path d="M424.9 269.7l2.3 -0.1 2.3 0.2 2 1.1 1.3 1.9 0.6 2.2 0.6 2.3 0.3 2.2 -0.8 2.2" stroke="#bfc538" stroke-width="1.1"/>
<path d="M412.8 221.6l1.5 1.7 1.7 1.6 1.2 1.9 1 2.1 1 2.1 1.1 2 1.1 2 1.6 1.7" stroke="#3f63f2" stroke-width="1.1"/>
<path d="M404.1 217.5l2.1 1 0.7 2.2 1.3 1.9 1.6 1.6 1.4 1.8 1.5 1.8 1.6 1.7M397.3 236.5l-0.6 2.2 -1 2.1 -1.4 1.9 -0.1 2.3 -1.6 1.7 -1.1 2 -0.2 2.3 -0.9 2 -0.4 2.3 0 2.3 1.3 1.9M421 295.4l1 2.1 1.2 1.9 0.6 2.3 0.8 2.1M398.5 298l1.3 2 2.2 0.7 1.5 -1.7 2.2 0.6 2.3 0.1 2.1 -0.9 1.7 -1.5 2.1 -0.9 2.3 0.2 1.8 -1.5 2.2 -0.8" stroke="#f9e030" stroke-width="1.1"/>
<path d="M461.4 290.1l2.3 -0.1 2.2 0.2 1.9 1.4 1.8 1.4 1.8 1.4 1.9 1.4 1.5 1.7 1 2.1 -0.1 2.3 0.6 2.2" stroke="#32c49f" stroke-width="1.1"/>
<path d="M452.9 306.2l2 1.1 1.9 1.4 1.8 1.4" stroke="#3a6ef3" stroke-width="1.1"/>
<path d="M464.6 271.1l1.8 1.4 1.8 1.4 2.2 0.7 2.3 0.3 2.2 0.5 2 1.2 2.2 0.7 2.3 0.5 2.1 0.8 2.3 0 2.2 0.8" stroke="#327ef5" stroke-width="1.1"/>
<path d="M411.6 221.5l1.3 1.8 1.4 1.9 1 2 0.5 2.3 0.7 2.2 0.8 2.1 2 1.2 2 1.2" stroke="#95c74a" stroke-width="1.1"/>
<path d="M499.3 290.1l2.3 0.1 2 -1.2 2.2 -0.7 1.7 1.5 2.3 -0.2 2.2 0.6 2.2 0.7 2.2 -0.6 1.9 -1.2 2.2 -0.8 1.9 -1.4 2.2 0.4" stroke="#f5c338" stroke-width="1.1"/>
<path d="M433 289.3l1.7 1.5 1.3 1.9 2 1.1 2.2 -0.6 1.9 1.3 0.5 2.3 0.5 2.2 0 2.3 -0.1 2.3 1.5 1.7 1.8 1.5 1.6 1.7" stroke="#bac638" stroke-width="1.1"/>
<path d="M426.4 273.8l2 1.2 1.9 1.3 1.6 1.6" stroke="#2199e8" stroke-width="1.1"/>
<path d="M404.5 210.6l1.1 2 1.3 1.9 1.5 1.7 1.3 1.9 0.9 2.1 1.3 1.9 1.3 1.9 1.3 1.9 1.5 1.7 0.9 2.2 0.7 2.1" stroke="#3578f4" stroke-width="1.1"/>
<path d="M476.8 304.6l2.2 0.7 1.6 -1.6 2.3 -0.1 2.3 0.4 2.2 0.5 2.3 0.3 2.2 -0.6 2.3 0.7 0.1 2.3 1.7 1.5 2.2 0.8 2.3 -0.1" stroke="#96c749" stroke-width="1.1"/>
<path d="M397.8 267.7l1.1 2.1 2.1 1 2.2 -0.5" stroke="#fad532" stroke-width="1.1"/>
<path d="M421 282.8l2.1 1 1.6 1.7 1.7 1.5 1.7 1.6 1.5 1.7" stroke="#4342d2" stroke-width="1.1"/>
<path d="M443.8 309.8l1.8 1.5 1.9 1.2 2.1 1.1 1.8 1.3 1.6 1.6 2 1.3 1.6 1.6 2 1.1 1.9 1.3 1.4 1.8M396.8 256l0.6 2.2 1 2.1 0.4 2.2 1.2 2 0.7 2.2 1.3 1.9 0.6 2.2 1.4 1.9M438 198C438.3 199 440.2 202.2 440 204C439.8 205.8 438.5 208 437 209C435.5 210 432 209.8 431 210" stroke="#2297e9" stroke-width="1.1"/>
<path d="M420.5 289.5l2.1 1 2 1.1 2.2 0.8 2.2 0.3 1.8 1.4 1.9 1.4" stroke="#29bfae" stroke-width="1.1"/>
<path d="M486.7 295.7l2 1.2 2.2 0.5 1.9 1.4 1.6 1.6 1.5 1.8 1.9 1.3 2.1 0.8 2.2 0.6 2.2 0.8 1.9 1.3 2.2 0.6 2.3 0.1" stroke="#4459f0" stroke-width="1.1"/>
<path d="M484.5 311.7l2.2 0.7 2.2 0.4 2.2 0.7 2.1 0.9 2.2 0.9 2.1 0.9 2.1 1 2.1 0.8 2.3 0.4M478.5 275.1l1.8 1.4 2.1 0.8 1.9 1.4 1.9 1.3 2.3 0.2 2.2 0.5 2 1.3 2.2 0.5 2.3 0.1 2.3 0 2 1.1 1.6 1.6" stroke="#3676f4" stroke-width="1.1"/>
<path d="M432.8 265.1l1.8 1.5 1.6 1.7 1.3 1.9 1.7 1.4" stroke="#4655f0" stroke-width="1.1"/>
<path d="M396.6 239.7l1.2 2 0.3 2.3 2.1 0.9 1.7 1.5 -0.1 2.3 0.9 2.2 1.4 1.8 2.3 0.2 2.3 0.5 1.6 1.7" stroke="#fbd134" stroke-width="1.1"/>
<path d="M439.6 311.1l1.9 1.3 1.8 1.4 1.4 1.9 1.6 1.6 1.8 1.5 1.7 1.5 1.9 1.3 1.8 1.4 2.1 1 2 1.1 2.3 -0.2 2.2 0.4" stroke="#2d87f6" stroke-width="1.1"/>
<path d="M406.9 250.1l0.6 2.2 0.5 2.2 0.5 2.3 0.3 2.3 0.8 2.1 0.6 2.2 0.8 2.2 0.9 2.1" stroke="#21baba" stroke-width="1.1"/>
<path d="M397.2 310.9l2.1 1.1 1.8 1.4 1.8 1.4 2.1 0.9 2.2 0.7 2 1.1 2 1.2 2 1.2 1.7 1.5 1.6 1.6" stroke="#1e9de5" stroke-width="1.1"/>
<path d="M422 215.5l1.7 1.6 2.3 0.4 2.2 0.6 1.8 1.4" stroke="#fad732" stroke-width="1.1"/>
<path d="M403 245.2l-1.3 1.9 1 2 1.2 2 1.1 2" stroke="#f9df30" stroke-width="1.1"/>
<path d="M436.5 262.5l0.8 2.2 0.2 2.3 1.7 1.4 1.5 1.8" stroke="#20babc" stroke-width="1.1"/>
<path d="M397.7 235.1l1.2 2 0.9 2.1 0.9 2.1 1 2.1 1.2 1.9 1 2.1 1.3 2 0.6 2.2 0.8 2.1 0.6 2.3 1.3 1.8 1.2 2" stroke="#4342d3" stroke-width="1.1"/>
<path d="M396.9 287.9l1.1 2 1.4 1.8 1.4 1.8 1.7 1.6 1.6 1.7 1.5 1.7 2 1.2 1.4 1.8 1 2.1 1.3 1.9" stroke="#423ccb" stroke-width="1.1"/>
<path d="M453.1 311.2l2.3 0 1.9 1.3 2 1.2" stroke="#84c757" stroke-width="1.1"/>
<path d="M396.5 212.5l0.7 2.2 0 2.3 0 2.3 0.5 2.2 0.9 2.1 0.7 2.2 0.8 2.2 1 2.1 1.4 1.8" stroke="#298ef1" stroke-width="1.1"/>
<path d="M414.9 290.7l1.5 1.7 1 2.1 1.2 1.9 1.1 2.1" stroke="#4ac786" stroke-width="1.1"/>
<path d="M396.7 201.5l1 2.1 0.7 2.2 1 2 1.3 2 1 2 0.8 2.2 1.2 1.9 1.4 1.9" stroke="#2cc1a8" stroke-width="1.1"/>
<path d="M407.4 281.2l1.8 1.4 1.5 1.7 2 1.1 1.5 1.8 1.1 2 1.8 1.4" stroke="#3577f4" stroke-width="1.1"/>
<path d="M417.5 204.2l0 2.3 0.4 2.3 -0.3 2.3" stroke="#8cc751" stroke-width="1.1"/>
<path d="M419 298.5l1.8 1.4 1.5 1.8 1.4 1.8 1.7 1.6 1.4 1.8 2.1 0.9 2.2 0.6 2.3 -0.1 2.3 0.2" stroke="#3871f3" stroke-width="1.1"/>
<path d="M409.5 225.6l1.4 1.7 1.6 1.7 1.4 1.8 1.4 1.8 1.8 1.5 1.2 2 1 2 1.1 2" stroke="#3872f4" stroke-width="1.1"/>
<path d="M416.8 283.2l2 1.1 1.6 1.7 1.2 1.9 1.1 2.1 1.3 1.8 1.7 1.7" stroke="#2495eb" stroke-width="1.1"/>
<path d="M397.6 220.9l1.2 2 1.6 1.7 0.3 2.2 1.8 1.6 1.3 1.8 2.3 0.4 2.2 0.5 1.8 1.5 2.1 1 2 1 2 1.2" stroke="#b1c638" stroke-width="1.1"/>
<path d="M448.8 300.8l1.8 1.4 1.2 2 1.5 1.7 1.8 1.5 1.4 1.8" stroke="#75c764" stroke-width="1.1"/>
<path d="M446.4 251.9l1.8 1.5 1.9 1.2 1.9 1.3 1.2 2 2 1.2 1.8 1.4 1.6 1.7 1.6 1.6 1.6 1.6 1.9 1.4 1.8 1.4 1.5 1.8" stroke="#423bc9" stroke-width="1.1"/>
<path d="M410.5 234.1l1.8 1.5 2 1 1.5 1.8 0.8 2.2 0.3 2.2 -0.4 2.3" stroke="#23bbb8" stroke-width="1.1"/>
<path d="M403.8 225.1l1.4 1.8 1.7 1.5 1.5 1.7M428.4 209.6l1.5 1.8 1.2 2 1.3 1.9 1.6 1.6 1.3 1.9 1.6 1.6" stroke="#15abda" stroke-width="1.1"/>
<path d="M397.7 220.3l1.4 1.8 1.3 1.9 2.3 0.3 2.3 0.1 1.9 1.4 1.4 1.8 1.1 2" stroke="#bec638" stroke-width="1.1"/>
<path d="M397.7 280.9l1.1 2.1 1.1 2 1.6 1.6 1.6 1.7 1.9 1.3 1.4 1.8 2 1.2 2 1.1 1.8 1.3 2.1 1.1" stroke="#4449de" stroke-width="1.1"/>
<path d="M397.1 279.6l1.7 1.6 1.7 1.5 1.8 1.5 1.6 1.7 2 1.1 1.9 1.2 2.1 1.1 1.7 1.5" stroke="#15b3cf" stroke-width="1.1"/>
<path d="M501.6 310.6l2.2 0.7 2.2 0.9 2.2 0.2 2.3 0.4 2.3 -0.4 2.1 -0.7" stroke="#317ff5" stroke-width="1.1"/>
<path d="M423.6 294.6l2 1.1 2 1.2 2 1 1.8 1.6 1.9 1.2 1.5 1.7 1.9 1.4 1.7 1.5 2.2 0.7 2.1 0.9" stroke="#209be7" stroke-width="1.1"/>
<path d="M435.5 299.2l2.2 0.8 2 1 2.2 0.7 1.9 1.3" stroke="#12b1d5" stroke-width="1.1"/>
<path d="M403.6 238.6l1.4 1.8 1.4 1.9 2 1.1" stroke="#2790ef" stroke-width="1.1"/>
<path d="M396.7 208.2l0.6 2.2 0.7 2.2 0.7 2.2 1 2 0.2 2.3 -0.1 2.3 0 2.3" stroke="#16b3ce" stroke-width="1.1"/>
<path d="M405.7 232.1l0.7 2.2 1 2.1 0.7 2.2" stroke="#3c69f2" stroke-width="1.1"/>
<path d="M433.9 288.2l-0.1 2.3 -0.7 2.2 0.2 2.3 0.4 2.2 0.8 2.2 0.9 2.1 1.5 1.8 2.1 1" stroke="#fbd233" stroke-width="1.1"/>
<path d="M409.3 251.8l1.7 1.6 1.1 2 1.4 1.9 1 2 0.6 2.2 0.7 2.2M436.8 276.8l1.8 1.5 1.4 1.7 1.4 1.9 1.9 1.3 1.6 1.6 1.9 1.3 2.2 0.6 2.2 0.9 1.6 1.6" stroke="#1ba2e1" stroke-width="1.1"/>
<path d="M400.9 211.2l1.4 1.8 1.1 2 0.2 2.3 2.2 0.7 1.2 2 0.1 2.3 0.6 2.2 1.1 2 1.1 2 0.7 2.2 2.2 0.7" stroke="#b4c638" stroke-width="1.1"/>
<path d="M396.7 200.9l-0.2 2.3 -1.3 1.9 -1 2.1 -0.7 2.2 -1.2 1.9 0.1 2.3 0.5 2.2 1.6 1.8 2 -1.1 2.3 0.5 2.1 0.9" stroke="#3e65f2" stroke-width="1.1"/>
<path d="M411.2 195.9l0.4 2.3 2 0.9 2.3 -0.5 2.3 -0.1 2.1 -0.9 0.8 2.2 -0.7 2.2 1.2 1.9 1.7 1.6 1.7 1.5 1.9 1.3" stroke="#fdc437" stroke-width="1.1"/>
<path d="M446.5 294.1l1.8 1.4 2.1 0.8 1.9 1.4 1 2.1 1.1 2 1.6 1.6" stroke="#2791ee" stroke-width="1.1"/>
<path d="M421.7 306.6l2.1 1 2.2 0.7 1.9 1.2 1.8 1.5 1.7 1.5 1.7 1.6 1.9 1.2 2 1.2" stroke="#4449df" stroke-width="1.1"/>
<path d="M397.2 258.3l1.1 2 1.1 2 1.5 1.7 1.5 1.8 1.3 1.9 1.6 1.7" stroke="#209ae7" stroke-width="1.1"/>
<path d="M429.2 285.5l1.9 1.4 1.7 1.4 1.8 1.5 1.9 1.3 1.9 1.2 1.8 1.5 1.3 1.9 1.5 1.7 1.9 1.3" stroke="#3e27aa" stroke-width="1.1"/>
<path d="M430.1 288l2.1 1.1 2.3 -0.3 2.1 -0.9 2.2 0.4 2.1 1.1 1.9 1.2" stroke="#dac438" stroke-width="1.1"/>
<path d="M429.4 254.5l1.2 1.9 1.7 1.6 1.8 1.4 2.2 0.8 1.7 1.6 1.9 1.3 1.7 1.5 1.7 1.5 1.9 1.4 1.6 1.7 1.3 1.8" stroke="#2c88f5" stroke-width="1.1"/>
<path d="M399.2 228.2l0.3 2.3 0.6 2.2 0.6 2.2 1 2.1 0.8 2.2 0.9 2.1 1.3 1.9 1.3 1.9 1.1 2M417.3 216.8l1 2.1 1.6 1.6 1.7 1.6" stroke="#337bf5" stroke-width="1.1"/>
<path d="M407 293.7l0.9 2.1 0.2 2.3 0.2 2.3 1.1 2" stroke="#c8c538" stroke-width="1.1"/>
<path d="M418.3 278.9l1.4 1.8 1.6 1.7 1.3 1.9 0.9 2.1 1.3 1.9 1.4 1.8 1.2 2 1.2 1.9 1.4 1.9M410 200l0.8 2.1 0.9 2.1 0.2 2.3 0.2 2.3 0.1 2.3 -0.1 2.3 -0.3 2.3 0.2 2.2 0.8 2.2 1.5 1.7 1.2 2" stroke="#19a5df" stroke-width="1.1"/>
<path d="M405.9 213.7l0.5 2.3 0.7 2.1 0.5 2.3" stroke="#2f84f6" stroke-width="1.1"/>
<path d="M415 215.4l0.6 2.2 0.7 2.2 1.1 2 1.6 1.7 1.2 1.9" stroke="#4139c6" stroke-width="1.1"/>
<path d="M489.7 311l2.3 0.1 2.3 -0.3 2.2 -0.4 2.3 -0.1 2.3 -0.2" stroke="#2bc0aa" stroke-width="1.1"/>
<path d="M397.6 206.5l0.3 2.2 0.3 2.3 0.1 2.3 0.4 2.3" stroke="#1bb7c5" stroke-width="1.1"/>
<path d="M400 243.1l1.4 1.8 0.5 2.3 0.1 2.3M446 221 L449 227" stroke="#28beb0" stroke-width="1.1"/>
<path d="M451.6 267l1.4 1.8 0.7 2.2 0.7 2.2 1.4 1.8 1.8 1.5 2.3 0.2 2.3 0.2" stroke="#36c797" stroke-width="1.1"/>
<path d="M497.1 286.6l2.2 0.3 2.3 -0.1 2.3 0.4 2.1 0.9 2.2 0.8" stroke="#454de4" stroke-width="1.1"/>
<path d="M466.2 282.7l2.1 0.9 1.8 1.4 1.3 1.9 1.2 2 1.6 1.7 1.7 1.5 1.9 1.4 2.1 0.8 2.3 0.5" stroke="#4558f0" stroke-width="1.1"/>
<path d="M397.1 293.5l1.8 1.4 1.9 1.3 2 1.1 1.6 1.7 1.1 1.9 1.6 1.8 1.4 1.8 1.5 1.8 0.7 2.1 1.1 2" stroke="#17a9dc" stroke-width="1.1"/>
<path d="M448.7 284.2l2 1 2.1 0.9 2.1 1 2.3 -0.3 2.3 0.5 2.1 0.7 2.2 0.7 2 1.2 2.2 0.7" stroke="#288ef0" stroke-width="1.1"/>
<path d="M399.2 294.5l1.3 1.9 1.2 2 1.2 1.9 0.7 2.2 0.9 2.2 1.5 1.7 1.6 1.6 2 1.2 1.2 2 0.7 2.2 1.1 2 1.6 1.7" stroke="#33c59c" stroke-width="1.1"/>
<path d="M470.4 291.2l2.1 0.7 2.1 1 1.9 1.3 2.3 -0.2 2.3 -0.1 2.3 -0.4" stroke="#76c763" stroke-width="1.1"/>
<path d="M403 241.9l1.3 1.9 1.4 1.8 1.4 1.8 1.5 1.8 2 1.2 1.8 1.4 1.6 1.6 1.2 2 0.5 2.2 0.9 2.2 0.4 2.2" stroke="#4135c0" stroke-width="1.1"/>
<path d="M410.1 289.2l1.5 1.8 1.1 2 1.7 1.5 1.5 1.7 2.1 1 1.8 1.4" stroke="#4030b8" stroke-width="1.1"/>
<path d="M405.6 203.7l0.2 2.3 0.5 2.2 0.4 2.3 0.1 2.3 0.3 2.2 0.3 2.3" stroke="#16b3cd" stroke-width="1.1"/>
<path d="M399.4 218.9l0.9 2.1 1.3 1.9 1.1 2.1 1.4 1.8 0.9 2.1 0.8 2.2 0.8 2.2" stroke="#423dcc" stroke-width="1.1"/>
<path d="M396.7 199.7l1.9 1.3 2 1.1 0.1 2.3 -0.1 2.3 -2 1.1 -0.8 2.2 -1 2 -1.4 1.9" stroke="#17b4cd" stroke-width="1.1"/>
<path d="M469 233 L474 236" stroke="#2e87f7" stroke-width="1.1"/>
<path d="M480 233C479.8 233.8 479.7 236.3 479 238C478.3 239.7 476.5 242.2 476 243" stroke="#fdc836" stroke-width="1.1"/>
<path d="M444 226C444.5 225.3 446 223.2 447 222C448 220.8 449.5 219.5 450 219" stroke="#37c897" stroke-width="1.1"/>
<path d="M396 212C396.2 212.5 396.3 212.7 397.5 215.1C398.7 217.5 401.1 222.9 403 226.5C404.9 230.1 406.6 232.8 408.9 236.9C411.2 241 414.1 246.4 417 250.8C419.9 255.2 423 260 426 263.5C429 267 431.9 269.5 435 272C438.1 274.5 441.7 276.6 444.9 278.7C448.1 280.8 450.8 282.7 454 284.6C457.2 286.5 460.7 288.4 463.9 290C467.1 291.6 469.8 292.7 473 294C476.2 295.3 479.1 296.3 482.9 297.7C486.7 299.1 491.6 300.8 496 302.4C500.4 304 506.7 306.2 509.5 307.2C512.3 308.2 512.4 308.3 513 308.5" stroke="#e8141c" stroke-width="1.5" stroke-dasharray="2.2 3.4" stroke-linecap="butt"/>
<path d="M416 195.5C416.4 195.8 416.4 195.3 418.4 197.5C420.4 199.7 425 205.5 427.9 208.5C430.8 211.5 434.1 213.4 436 215.5C437.9 217.6 439.4 218.6 439.2 220.8C439 223 436.2 226.1 435 228.5C433.8 230.9 432.2 233.1 432 235C431.8 236.9 432.6 238.4 433.5 240C434.4 241.6 435.5 242.8 437.3 244.5C439.1 246.2 442 248.6 444.5 250.5C447 252.4 449.4 254.1 452.5 255.9C455.6 257.7 459.5 259.8 463 261.5C466.5 263.2 470.1 264.8 473.4 266.4C476.7 267.9 479.8 269.4 483 270.8C486.2 272.2 489.4 273.5 492.4 274.9C495.4 276.3 498.1 277.6 501 279C503.9 280.4 507.5 282.3 509.5 283.4C511.5 284.4 512.4 285 513 285.3" stroke="#e8141c" stroke-width="3.1" stroke-dasharray="5.8 4.5" stroke-dashoffset="3" stroke-linecap="butt"/>
</g>
<linearGradient id="cb2" x1="0" y1="0" x2="0" y2="1"><stop offset="0" stop-color="#f8d23a"/><stop offset="0.18" stop-color="#e6c83e"/><stop offset="0.36" stop-color="#7cc46a"/><stop offset="0.55" stop-color="#25b3c8"/><stop offset="0.75" stop-color="#2e7df2"/><stop offset="1" stop-color="#4334c8"/></linearGradient><rect x="497.5" y="208.5" width="5.8" height="26.5" fill="url(#cb2)"/>
<text x="494.3" y="205.6" font-size="10">90°</text>
<text x="497.6" y="243.6" font-size="10">0°</text>
<line x1="485.2" y1="304.7" x2="502.8" y2="304.7" stroke="#000" stroke-width="1.6"/>
<rect x="396.5" y="195.6" width="113.9" height="113.8" fill="none" stroke="#333" stroke-width="1"/>
<text x="453.3" y="191" font-size="12.8" text-anchor="middle">Track orientation (NK)</text>
</g>
<g id="panel_e">
<text x="525.1" y="177.2" font-size="15">e</text>
<path d="M601.2 200.5L601 202.5L600.7 204.5L600.4 206.5L600 208.5L599.4 210.5L598.7 212.5L597.8 214.5L596.9 216.5L595.8 218.5L594.7 220.5L593.6 222.5L592.6 224.5L591.7 226.5L591 228.5L590.6 230.5L590.5 232.5L590.7 234.5L591.2 236.5L591.9 238.5L592.8 240.5L593.8 242.5L594.9 244.5L596 246.5L597.1 248.5L598 250.5L598.8 252.5L599.5 254.5L600.1 256.5L600.5 258.5L600.8 260.5L601 262.5L601.2 264.5L601.2 266.5L601.8 266.5L601.8 264.5L602 262.5L602.2 260.5L602.5 258.5L602.9 256.5L603.5 254.5L604.2 252.5L605 250.5L605.9 248.5L607 246.5L608.1 244.5L609.2 242.5L610.2 240.5L611.1 238.5L611.8 236.5L612.3 234.5L612.5 232.5L612.4 230.5L612 228.5L611.3 226.5L610.4 224.5L609.4 222.5L608.3 220.5L607.2 218.5L606.1 216.5L605.2 214.5L604.3 212.5L603.6 210.5L603 208.5L602.6 206.5L602.3 204.5L602 202.5L601.8 200.5Z" fill="#e0e0e0" opacity="0.75"/>
<path d="M603.7 241.7h0M601.3 248.1h0M607.7 236.8h0M601.6 253.1h0M593.3 223.5h0M598.7 232h0M607.5 228.4h0M595.8 230h0M612.2 232.7h0M606.4 235.8h0M595.3 244h0M599.2 220.6h0M610.1 226.3h0M598.7 232.4h0M596.8 244.8h0M604.4 250.6h0M599.9 217.7h0M601.2 236.7h0M609.4 233.6h0M596 235.3h0M611.5 233.9h0M608.3 224.2h0M603.2 232.9h0M602.7 212h0M606.6 242.1h0M596.8 241.8h0M601.1 254.5h0M599.7 220.7h0M608.4 221h0M599.2 235.9h0M605.8 237.5h0M612.1 233.2h0M602.1 218.3h0M606.9 232.6h0M602.7 235.2h0M602.6 248.5h0M598.3 235.4h0M609.4 238.9h0M598.4 223.1h0M596.9 245.6h0M603 252.5h0M599.4 241.1h0M608.6 225h0M605.4 215.8h0M601.9 202.2h0M602 252.2h0M599.6 242.7h0M597.5 223h0M593 237.4h0M607.5 227.3h0M608.7 234.4h0M596.4 218.7h0M599.8 231.8h0M596.4 242.2h0M607.6 242.2h0M611.2 236.9h0M596.2 231.9h0M606.7 218.6h0M598.6 213.2h0M595.5 229.2h0M606.8 243.6h0M602.2 214.1h0M605.3 218.1h0M598 239.4h0M605.8 222.9h0M591.1 230.2h0M595.1 220.5h0M601.7 205h0M602.4 217.8h0M599.9 213.9h0M602.5 207.2h0M598.6 249.2h0M591.9 236.7h0M600.4 235.3h0M603 247.6h0M599.1 251h0M601.4 222h0M595.6 229.7h0M599 236.2h0M605.4 238.9h0M605.9 228.8h0M609.5 231.2h0M591.2 235.5h0M601.3 211.3h0M599.4 251.1h0M605.2 240.2h0M597.5 232h0M598.5 250.8h0M608.5 224.4h0M597.7 238.9h0M605.9 217.2h0M592.8 232h0M604.7 220.8h0M609.4 223.8h0M602 225.4h0M602 249.6h0M604 252.6h0M599.1 240.9h0M597.9 216.6h0M601.3 266.8h0M603 252h0M600.7 242.1h0M604.6 230.6h0M600.3 230.6h0M600.2 220.5h0M595.6 231h0M598.2 244.5h0M605.7 236.2h0M600.7 240.2h0M599.5 214.7h0M603.5 221.9h0M609 241.4h0M601.4 244.1h0M605.5 239.3h0M602.6 248.4h0M604.5 219h0M604.2 220.6h0M602.4 211.6h0M599 233.1h0M601.7 259h0M606.8 246.3h0M600.7 204.8h0M599.3 228.3h0M595.9 241.9h0M597.5 227.7h0M611 230.7h0M593 231.7h0M606.8 218.9h0M598 230h0M604 224.5h0M610.7 228.4h0M598.5 223.8h0M594 231.7h0M602.1 255.5h0M597.1 237.3h0M600.4 247.7h0M600.7 244.8h0M603.8 227.4h0M599 230.9h0M597.4 239.6h0M595.2 243.8h0M601.9 260.6h0M597.8 249.5h0M601.5 224.8h0M603.3 248.2h0M596.2 236.3h0M597.5 247.3h0M597.4 233h0M601.1 207.9h0M594.9 239.5h0M602.1 238.1h0M599.6 210.8h0M602.5 237h0M597.7 243.6h0M609.1 239.8h0M603.1 210.4h0M597.7 248.1h0M610 234h0M594.8 231.9h0M599.2 212.1h0M603.7 238.8h0M601.2 217.3h0M596.7 235.7h0M599.3 221.9h0M609.2 227.3h0M597.7 248.4h0M603.6 245.4h0M595.6 238.2h0M591.5 231.8h0M601.4 236.4h0M595.4 224.9h0M597.9 216.5h0M600.5 245.8h0M605.1 226h0M592.5 230.3h0M604.9 217.8h0M598.3 233.1h0M602.2 235.7h0M605.6 227.2h0M601.4 226.9h0M605.4 244.6h0M603.7 252.2h0M607.2 228.7h0M608.6 224.7h0M602.5 206.6h0M599.4 226.9h0M602.1 258.6h0M594.1 222.2h0M603.1 222.4h0M604.5 245.6h0M610.2 228h0M602.2 226.6h0M611 238.3h0M602.6 226.8h0M609.5 235.5h0M600.7 212.9h0M596.8 242.9h0M602.3 238.4h0M594.1 236.8h0M594.5 221.9h0M596.3 218.3h0M604.5 239.7h0M610.7 233.7h0M601.9 237.8h0M596.3 243.7h0M597.2 223.5h0M604.1 217h0M605.9 240.2h0M600.1 226.9h0M599.3 224.9h0M602.1 222.9h0M600.6 232.9h0M601.9 254.1h0M607.5 237.2h0M612.1 230.7h0M600.8 212.9h0M605 231.5h0M603.3 232.9h0M599.7 213h0M608.1 235.1h0M601.4 251.6h0M606.2 243.2h0M601.5 236.2h0M603.2 220.7h0M603.6 235.2h0M605.7 223.9h0M601 209.8h0M607.8 232.2h0M603.5 253.2h0M608.5 239.7h0M599.8 254.4h0M594.8 226.2h0M604.5 248.2h0M597.1 230.6h0M599.5 250.4h0M605.9 236.1h0M598.3 245.9h0M604.5 228.1h0M599.5 222.3h0M592.1 234.6h0M605.2 238.5h0M609 227h0M604.7 235.5h0M602.1 251.4h0M600.3 234.9h0M601.4 201.6h0M604.4 232.2h0M598.8 224.8h0M605.8 223.7h0M601.7 223.6h0M597.3 222.3h0M604.6 232.9h0M600.5 230h0M603.2 235.2h0M597.7 248h0M606.9 225.1h0M597.8 232.7h0M592.3 228.3h0M595.9 239.7h0M606.9 242h0M598.4 246h0M596.2 243.6h0M600 241.9h0M605.8 232.9h0M602.2 224.2h0M603.2 240h0M593.4 236.9h0M607.9 236.8h0M601.7 247.4h0M597.2 231.5h0M597.6 230.9h0M605.9 242h0M592.6 226.5h0M602.1 207h0M603.2 232.6h0M595.7 243.6h0M602.7 257.2h0M602.1 235.4h0M599.4 213.4h0M604 222.7h0M600.4 247.2h0M596.9 233.6h0M593.1 228.5h0M605.5 222.7h0M599.3 251.3h0M604.9 230.2h0M600.4 237.8h0M609.3 233.6h0M600.5 243.8h0M601 226.2h0M602 216.6h0M601.4 227.1h0M597.8 238.3h0M610 228.6h0M600.1 239.1h0M595.3 233.2h0M609.2 235.2h0M597.2 223.1h0M603 247.5h0M601.7 213.7h0M599.1 238.3h0M608.4 229.3h0M603.2 248.1h0M607.2 221.7h0M608.9 233.6h0M605.4 243.3h0M603.4 246.7h0M600.8 256.3h0M611.2 226.8h0M610.8 226.8h0M596.5 242.7h0M598.9 219h0M598 242.6h0M606.4 236.8h0M604.1 216.4h0M603.9 249.9h0M604.7 214h0M601.6 213.6h0M611.6 232.4h0M604.5 225.1h0M598.5 221.8h0M595.3 240.4h0M593.2 240.9h0M605.2 243.3h0M593.4 239.6h0M601.7 228.5h0M597.4 227.9h0M600.9 214.4h0M599.5 238.6h0M598.2 231.5h0M605.4 226.4h0M599.6 249.3h0M601.7 203.5h0M607.8 225.1h0M598.7 249.5h0M600.2 216.5h0M601.9 255.6h0M607.3 236.3h0M593.3 223.5h0M598.3 228.4h0M596.1 238.4h0M600.1 253.7h0M603 235.7h0M602.9 210.3h0M603.6 224.5h0M595.3 242.2h0M604.6 250h0M595.6 229h0M599.8 240.9h0M606.2 238.4h0M602.3 209.5h0M597.3 232.7h0M600.5 242.9h0M600.9 260.4h0M602.1 204h0M604.1 243.9h0M606.8 225.8h0M610.5 238.7h0M605.1 247.6h0M605.8 236.6h0M601.2 229.6h0M602.4 238.4h0M593.7 228.4h0M592.7 238.7h0M600.2 214.2h0M603.4 243h0M596.4 245.5h0M601.4 261.9h0M602.7 222.9h0M600 221.6h0M600.7 244.7h0M597.1 232.3h0M606.1 224.6h0M610.4 233h0M594.6 236.8h0M597.6 223.5h0M598.6 237.8h0M602.1 226.5h0M591.9 230.9h0M596.8 239.4h0M598.2 236.1h0M604.5 226.4h0M601.4 254.4h0M597.6 234.7h0M602.3 214.2h0M607 231.9h0M602.8 217.5h0M604.4 240.8h0M611.2 228.2h0M600.6 206.7h0M606 227.7h0M599.9 230.4h0M601.7 252.2h0M609.4 232.4h0M603.8 241.5h0M597.3 228.2h0M611 228h0M605.5 236.6h0M601.6 246.6h0M601.8 202.3h0M597.7 221.7h0M604 221h0M604.9 237.6h0M600 231h0M598.3 250.7h0M595.2 229.3h0M603.9 243.6h0M601.7 260.1h0M609.2 231h0M605 216.4h0M592 233.1h0M598.7 224.8h0M600.3 241.1h0M605.1 249.2h0M596.5 238.7h0M607.5 236.6h0M597.3 242.3h0M603.5 233.3h0M605.5 225h0M611.2 230h0M608.5 227.8h0M601.8 208.7h0M594.5 235.1h0M601.2 214.6h0M596.2 245.7h0M603.3 236.2h0M604.2 238.9h0M607.8 220.7h0M598.3 236.2h0M601.8 228.5h0M595.7 225.1h0M594.9 240.5h0M599.3 239.4h0M606.4 223.6h0M601.2 219.9h0M600.7 249h0M605.4 242.1h0M598.9 246.8h0M598.5 230h0M595.6 221.8h0M599.3 232.4h0M604.8 220h0M604.1 213.9h0M604.5 236.2h0M595.5 220.6h0M596.9 237.4h0M601.3 214.2h0M600 229.4h0M602.8 253.5h0M600.7 250.8h0M599 222.7h0M600.7 256.8h0M599.2 223.6h0M597.2 237.1h0M601.2 212.7h0M597 237.4h0M605 231.1h0M601.4 256.6h0M604.1 216.3h0M597.5 242.9h0M596.4 230.4h0M602.5 233.6h0M609.5 225.9h0M602.1 237.4h0M605.6 248.4h0M606 218.4h0M606.9 231.1h0M600.3 245.6h0M605.2 249.4h0M600.5 245.9h0M595.8 229.1h0M594.4 231h0M605.5 240.3h0M602.4 247.7h0M606.1 237.4h0M601 207.3h0M595.9 221h0M609.8 224h0M609.9 227.6h0M597.3 223.6h0M601.4 211.3h0M599.3 224.1h0M601.1 239.7h0M602.3 230.8h0M593.6 230.1h0M602.4 247.2h0M597.6 229.3h0M609.6 227.1h0M602.1 214.1h0M591.9 230.2h0M603.5 249.1h0M594.7 225.6h0M602.2 250.2h0M596.4 233.9h0M608.8 235.2h0M605.6 221.1h0M609.1 241.7h0M607.6 231.2h0M603.4 250.7h0M606.5 224.5h0M598 243.5h0M604.3 215.4h0M596 233.8h0M594.5 228h0M601.1 225.1h0M608.2 222h0M597.7 218.6h0M598.7 218.8h0M610.3 229.7h0M592.7 238.1h0M604.1 239.6h0M609.9 227.6h0M603.9 225.2h0M607.4 240.9h0M601.2 259.6h0M598.4 236.5h0M599.9 227.5h0M599.7 242h0M595.3 229.5h0M608.7 235.5h0M598.6 225.4h0M600.7 208.9h0M602 224.7h0M600.1 222h0M603.4 220.4h0M591.2 229.5h0M603.5 238.7h0M599.4 213.1h0M604.2 222.6h0M605.1 218.3h0M601.9 236.5h0M598.3 216.4h0M608.4 239.1h0M601.1 228.8h0M611.1 231.9h0M598.6 244.8h0M610.8 230.6h0M596 231.8h0M600.9 234.5h0M598 230.2h0M606.2 228.3h0M605.8 228.1h0M600.3 238.5h0M607.8 227.6h0M601.6 219.3h0M602.4 254h0M601.3 228.9h0M594.6 223.3h0M608.4 224.9h0M608 239.5h0M601.8 213.1h0M607 245.9h0M592.5 231.8h0M605.9 221h0M601.8 243.1h0M605.2 235.2h0M605.6 221.1h0M604.8 230.3h0M590.8 230.9h0M607.1 230.4h0M595.1 237.9h0M595.2 231.4h0M605.4 227.7h0M603.8 236.4h0M599.3 230.2h0M591.5 228.8h0M592.7 229h0M603.1 243.1h0M595.5 223.5h0M596.9 222.2h0M602.4 208.6h0M601.8 254h0M601.6 201.8h0M599 220.6h0M602.4 249.6h0M602.2 207h0M600.6 206.5h0M599.4 237.3h0M604.8 242.4h0M600.5 231.4h0M599.6 247.6h0M609.8 224.3h0M595.8 222.3h0M601 246.1h0M595.1 222.2h0M599.7 219.2h0M603.1 215h0M608.6 227.2h0M597.5 231.3h0M603.5 212.1h0M609 234.8h0M598.3 216.6h0M601.9 249.5h0M602.4 210.4h0M603.9 242.2h0M600.4 236.4h0M595.6 222h0M606.1 227.6h0M594.6 238.8h0M600.9 246.3h0M595 224h0M597.8 217.7h0M610.9 237.4h0M597.8 224.1h0M599.5 242.1h0M592.7 228.4h0M601.1 255.5h0M599 221.1h0M601.2 224.4h0M600.5 241.8h0M607 236.2h0M603.6 221h0M597.1 237.6h0M603.6 224.8h0M602.3 229.8h0M604.8 218.4h0M604.1 212.2h0M600.3 235.4h0M601.4 261.9h0M602.4 206.3h0M606.9 239.8h0M595.2 230.4h0M604.8 238h0M590.8 231h0M611.6 228.1h0M600.8 230.5h0M593.1 235.3h0M603.7 238.1h0M606.4 218.8h0M607 238.2h0M603.6 238.2h0M603.3 221.9h0M610.5 236.5h0M602.6 257.7h0M595.3 223.8h0M600.5 254.5h0M601.9 236.3h0M601.5 200.6h0M594.7 238.7h0M607.1 239.7h0M600.6 257.2h0M604.7 243.6h0M602.9 229.7h0M593.7 241h0M602.3 221.5h0M607.3 239.6h0M600.7 222.4h0M596.6 225.1h0M601.5 241.1h0M604 247.8h0M595 228.2h0M599.8 221.5h0M594.8 243.9h0M604.7 236.6h0M611.1 227.6h0M597.9 230h0M602.2 241.5h0M596.8 239h0M610 231.5h0M606.1 229.3h0M597.8 249.8h0M603.8 252.2h0M605.5 235.8h0M602 226.9h0M593.1 233.4h0M601.8 230.9h0M600.8 235.2h0M592.2 230.5h0M593.5 240.6h0M600.1 256.2h0M602.1 256.7h0M599.6 216.9h0M611.2 236.7h0M600.1 236.6h0M607.2 220.9h0M602.9 245.9h0M601.8 252.6h0M597.7 216.6h0M596.3 229h0M593.3 227.2h0M605.4 239.1h0M600.7 214.9h0M608.5 241.7h0M599.8 232.8h0M604.6 246.7h0M600.8 242.6h0M603.3 243.3h0M611.9 233.9h0M597.5 247.2h0M601.5 263.1h0M593.4 226.8h0M601.1 201.5h0M607 232.9h0M603.7 233.4h0M594.8 226.5h0M598.8 244.1h0M604.2 240.8h0M608.5 223.8h0M590.9 230.8h0M609.8 235.4h0M603.2 223h0M607.6 224.2h0M609.1 234.4h0M605.5 247.8h0M609.6 228.4h0M603.5 226.8h0M599 222.9h0M608.5 238.2h0M605.8 218.3h0M597.9 232.5h0M594.4 224.2h0M597.4 228.7h0M607.1 238.3h0M603.9 251.9h0M603.3 250.6h0M600.6 233h0M603.3 242.2h0M592.7 234.5h0M608.4 231.2h0M600.7 257.5h0M611.3 235.9h0M604.4 216.2h0M608.3 235.3h0M605.5 220.8h0M597 239.1h0M608 224.1h0M602.7 255.2h0M594 226.2h0M606.9 241.4h0M592.9 239.6h0M600.6 234.6h0M596.5 236.9h0M596.5 232.2h0M594.7 228.9h0M604.3 221.6h0M593.1 238.1h0M599.6 228.1h0M594.1 236.2h0M604.6 230.6h0M591.7 233.2h0M602.1 219.2h0M592.4 236.1h0M610.7 235.1h0M606.1 243.2h0M596.4 240.5h0M602 215.9h0M598 245.9h0M606.7 223.4h0M592.2 234.8h0M601.6 231.7h0M601.3 262.9h0M602.5 234.7h0M605.8 241.4h0M595.8 223.5h0M601.3 214.1h0M595.6 238.8h0M609 239.4h0M598.4 223.6h0M605.2 235.2h0M610.3 226.8h0M609.5 223.7h0M609.1 223.4h0M593 236h0M603.5 224.6h0M602.7 235.1h0M610.8 235.5h0M611.2 229.4h0M603.3 254.4h0M610.3 237.9h0M611.2 235.5h0M605.9 235.9h0M594 239h0M603 237.9h0M598.9 236.6h0M609.7 236.1h0M607 226.5h0M603.9 220.8h0M596.4 243.9h0M601.7 244.1h0M608.4 227h0M594 241.7h0M606.6 233.5h0M606 236h0M604.7 251h0M607.2 237.6h0M600.7 243.5h0M606.6 240.4h0M601 248.4h0M599.6 227.6h0M608.4 236.6h0M600.5 214.1h0M601.4 255.9h0M608.4 237.1h0M601.3 206.3h0M602.2 226.3h0M608.3 234.2h0M592.6 236.1h0M600.8 242h0M604.9 236.7h0M600.4 239.3h0M605.6 228.3h0M602.9 246.3h0M592.9 239.3h0M595.1 238.4h0M602.2 252.4h0M607 221.8h0M599.5 237.9h0M602 248.5h0M597.7 217h0M599.2 217.3h0M601.7 258.1h0M605.1 238.2h0M604 250.9h0M607.4 227.5h0M603.1 229.1h0M599.5 245.9h0M600.4 227.2h0M602.5 215.1h0M608.1 225.3h0M607.7 224.4h0M606 230.5h0M607.8 239.6h0M602.6 243.5h0M603.3 249.6h0M599 249h0M602.8 224.1h0M603.2 209.8h0M604.9 230.5h0M608.6 231.9h0M604.8 249.7h0M606.1 222.2h0M594.7 228.1h0M591.8 233h0M603.9 251.7h0M605.8 222.5h0M596.7 217.5h0M594.6 236.8h0M597.7 229.1h0M601.9 234.6h0M593 236.3h0M600.7 238.7h0M605.3 239.1h0M604.5 221.1h0M601.5 239.4h0M599.1 212.1h0M598.2 237h0M603.2 240.8h0M596.4 222.4h0M606.6 232.4h0M599.2 251h0M605.7 231.8h0M604.2 236.9h0M605.4 218.1h0M599.4 213.7h0M608.6 234.8h0M603.8 225.3h0M608.2 228.9h0M604.8 222.5h0M611.8 235.8h0M601.3 242.3h0M598.9 229.8h0M598.1 241.8h0M601.2 244.1h0M610.3 239.6h0M598.1 218.9h0M605.9 234h0M597.1 236.3h0M611.7 235.6h0M603.6 249.1h0M601.5 259.1h0M596.5 224.9h0M592.2 233.1h0M599.4 223.9h0M599.6 231.1h0M598.5 215.4h0M601.4 239.9h0M601.9 246.6h0M609.4 231.6h0M605.4 216.7h0M601.6 221h0M596.1 230.9h0M600.5 241h0M597.8 249.4h0M594 224h0M592.6 238.9h0M604.4 215.9h0M602.5 218.1h0M596.6 234.9h0M599.3 249.2h0M593.4 229.2h0M610.9 238h0M601.8 259.9h0M603.6 248.4h0M598.2 246.2h0M601.6 244h0M600.5 207.5h0M592.7 239.7h0" stroke="#a6a6a6" stroke-width="0.75" stroke-linecap="round" fill="none" opacity="0.7"/>
<path d="M634.5 214L634.5 216L634.5 218L634.4 220L634.3 222L634 224L633.7 226L633.4 228L632.9 230L632.3 232L631.6 234L630.8 236L629.9 238L628.9 240L627.9 242L626.9 244L626 246L625.2 248L624.5 250L624.1 252L623.8 254L623.8 256L624.1 258L624.5 260L625.2 262L626 264L626.9 266L627.9 268L628.9 270L629.9 272L630.8 274L631.6 276L632.3 278L632.9 280L633.4 282L633.7 284L634 286L634.3 288L634.4 290L634.5 292L634.5 294L634.5 296L634.5 298L634.5 300L635.1 300L635.1 298L635.1 296L635.1 294L635.1 292L635.2 290L635.3 288L635.6 286L635.9 284L636.2 282L636.7 280L637.3 278L638 276L638.8 274L639.7 272L640.7 270L641.7 268L642.7 266L643.6 264L644.4 262L645.1 260L645.5 258L645.8 256L645.8 254L645.5 252L645.1 250L644.4 248L643.6 246L642.7 244L641.7 242L640.7 240L639.7 238L638.8 236L638 234L637.3 232L636.7 230L636.2 228L635.9 226L635.6 224L635.3 222L635.2 220L635.1 218L635.1 216L635.1 214Z" fill="#e0e0e0" opacity="0.75"/>
<path d="M636.6 240.9h0M627.4 246.8h0M635.9 240.4h0M632.7 270.4h0M642.9 259h0M629.9 255.2h0M630.1 265h0M635.7 259.8h0M636.4 270.9h0M635.5 260.1h0M632.9 246.8h0M639.7 249.3h0M628.6 249.5h0M634.7 279.4h0M632.4 270.8h0M632.8 243.1h0M632 250.5h0M636.7 276.9h0M635.3 246.5h0M633.8 231.2h0M625.9 249.5h0M634.1 241.8h0M629.8 257h0M644 259.8h0M636.4 248h0M633.2 242.5h0M640.7 245.4h0M640.9 251h0M633.5 239h0M640.1 260.8h0M630.5 270.6h0M636.1 228.7h0M632.9 256.3h0M637.6 261.4h0M640.5 269.4h0M638.6 267.8h0M631.4 258.7h0M630 248h0M638.7 235.9h0M633.2 275.3h0M639.4 238h0M633.8 248.1h0M627.6 259.5h0M634.3 259.1h0M631.9 272.2h0M627.9 266.3h0M640.2 252.2h0M635.7 240.3h0M642.1 251.2h0M638.5 258.5h0M637.6 254.6h0M643.3 260.5h0M645.4 253.7h0M634.2 224.7h0M627.2 261h0M634.6 268.8h0M641.3 259.2h0M630.7 245.5h0M626.7 257.2h0M625.6 250.1h0M638.9 252.5h0M633 253.6h0M640 265.9h0M639.5 247.6h0M635.8 238.6h0M635.7 271.5h0M635.2 248.1h0M635.2 258.4h0M634.6 220.2h0M639.2 270.8h0M636 249.3h0M628.1 252.8h0M637.9 239.7h0M643.6 255.4h0M636.5 279.7h0M629.7 266.9h0M628.5 268.1h0M627.8 262.3h0M636.5 245.8h0M628.5 254.4h0M627.6 245.6h0M636.7 238.8h0M634.6 292.9h0M636.1 235h0M634 249.1h0M628.5 267.6h0M642 250.1h0M626.8 249.9h0M628.1 242.8h0M629.2 243.1h0M630.3 241.7h0M626.2 255.3h0M627.1 257.8h0M635.9 279.4h0M637 273.6h0M638.8 271.2h0M634.6 226.9h0M635.4 278.1h0M625.3 258.6h0M638.5 248.2h0M634.7 256.4h0M629.2 264.3h0M626 253.8h0M640.3 263.9h0M633.9 267.1h0M638.5 236.9h0M629.9 238.6h0M631.9 250.4h0M644.4 259.1h0M635.8 274.2h0M628.2 244.3h0M636.3 278h0M635 288.4h0M643.1 264.3h0M634 235.5h0M640.1 257.2h0M638.5 240.6h0M644 251.5h0M645.4 253.2h0M632.2 265.2h0M631.6 243.6h0M634.2 267.5h0M641.1 252.7h0M638 269.3h0M634.3 283.2h0M638.5 241.7h0M634.6 248.4h0M638.6 237.4h0M634 225.9h0M632.8 242.7h0M634.3 269.3h0M632.9 270.9h0M631.3 247h0M634.7 268.2h0M628.8 253.1h0M635.3 253.1h0M638.7 245.6h0M634.1 239.7h0M634.8 274.5h0M635.8 243h0M630.3 258.7h0M634.8 244.8h0M634.9 250.6h0M643.8 254.8h0M637.9 266.1h0M633 242.5h0M635 277.4h0M636.5 265.8h0M634.3 227.4h0M635.1 231.3h0M643.6 253h0M631.7 234.7h0M630.9 256.1h0M631.7 251.4h0M635.7 263.8h0M635 228.3h0M632 253.4h0M633.8 252.3h0M631.4 266h0M627 258.5h0M638.1 259.8h0M639.9 267h0M638.3 245.1h0M632.4 276.4h0M628.5 263.5h0M635.2 281.1h0M636.6 234h0M639.3 242.8h0M639.7 269.1h0M636.5 271.2h0M634.1 260.4h0M644.8 253.6h0M630.6 251h0M632.9 266.7h0M631.9 240.6h0M634.8 261.6h0M631 266.2h0M643.1 249.7h0M642.9 249h0M637.2 232h0M639.9 254.8h0M638.3 255.5h0M636.5 232.8h0M635.4 273.7h0M629.8 244.4h0M631.3 245.9h0M635.3 252.8h0M636.5 239.5h0M626.9 261.2h0M640.5 252.4h0M635 258.6h0M636.4 272h0M636.6 246.3h0M641.8 244.6h0M639 262.9h0M631.9 242.5h0M636.2 255.9h0M640.5 254.5h0M634.9 269.2h0M636.7 246.2h0M637.7 255.6h0M631.5 242.1h0M628.3 259.7h0M632.8 257.6h0M636.8 270.8h0M633.7 272.2h0M642.1 261h0M639.5 267.5h0M641.6 250.1h0M634.9 242.7h0M636.7 239.5h0M632.9 279.3h0M638.3 268.8h0M633.6 261.4h0M636.8 247.9h0M632.8 253.6h0M636.6 249.1h0M641 262.1h0M635.3 237.1h0M639.2 251.3h0M644.9 254.4h0M634.6 253.2h0M636.6 275.5h0M632.2 261.6h0M639.8 251.9h0M638.5 252.8h0M643.2 260.3h0M633.7 240.8h0M631.3 260.8h0M628.9 255.2h0M638 255.7h0M642.4 260.8h0M634.8 266.3h0M635.3 249.6h0M634.2 237.6h0M628.3 242.1h0M638.7 254.2h0M644.8 256.9h0M635.4 236.5h0M642.9 246h0M631.9 263.7h0M634.3 270.1h0M631.4 259.8h0M633.6 277.9h0M628.1 256.6h0M643.9 253h0M627.3 250.5h0M638 247.2h0M637 278h0M634.9 214.7h0M634.4 275.4h0M635.3 266.9h0M635.2 257.2h0M637.9 255.3h0M626 250.4h0M635.1 289.7h0M641.4 260.2h0M637.2 252.6h0M635.4 241.8h0M643.2 260.7h0M633.9 255.7h0M631.1 239.9h0M635.3 229.6h0M636.6 247.3h0M635 218.1h0M635.1 266.5h0M631.5 242.2h0M635.7 234.4h0M630.9 250h0M637.3 277.2h0M636.2 249.2h0M635.7 239.6h0M633.8 254.7h0M630.5 258h0M629.8 245.9h0M645.1 256.7h0M631 239h0M630.2 270.4h0M640.8 249.8h0M628.5 241.6h0M632.4 236.9h0M639.5 255.5h0M627.5 257.1h0M626 261.1h0M632.3 235.7h0M631.9 268.3h0M642.3 250.2h0M640.8 263.1h0M639.7 269.4h0M628.4 268.4h0M630.9 252.5h0M626.7 256.8h0M638.9 246.3h0M632.3 257.4h0M634.3 269.7h0M639 263.5h0M632.3 254.6h0M638.4 244.9h0M635.9 271.6h0M631.3 251.6h0M634.7 244.3h0M630.4 259.7h0M625.9 253.6h0M642.5 257.9h0M632.9 235.4h0M634.5 283.3h0M637.5 266.4h0M639.6 246h0M625.5 248.2h0M641.9 260.8h0M637.9 234.1h0M640.7 244.6h0M636.3 249.6h0M634.5 251.4h0M631.5 257.1h0M632.1 256.5h0M635.5 285.1h0M634.5 225.2h0M632.3 262.9h0M636 244.5h0M631.5 274.4h0M636.6 260.2h0M638 254.9h0M635 250.3h0M632.4 241.4h0M632.4 274h0M639.8 244.1h0M629.2 261.7h0M634.5 236.4h0M632.8 269h0M635.4 262.5h0M639.4 265h0M634.8 271.6h0M640.4 254.8h0M638 245h0M641.9 257.2h0M625.9 259.7h0M633.8 281.1h0M634.7 234.2h0M633.7 275.3h0M636.1 255.6h0M635.9 270h0M639.1 260.4h0M644.3 250.7h0M637.9 238.5h0M639.9 241.8h0M641.4 248.9h0M630.3 268.4h0M634.7 222h0M633.8 266.1h0M638.3 241.4h0M627.4 262h0M640.7 241.3h0M642.2 258.5h0M645.1 251.8h0M627.4 266.3h0M630.3 254.2h0M637.9 252.7h0M629.9 246.5h0M633.9 238h0M635.5 261.6h0M635.8 246.4h0M638.1 270.2h0M633.5 236.1h0M625.8 252.5h0M635.3 226.7h0M636.7 242.1h0M641.3 258h0M638 274.7h0M639.5 241.5h0M637.6 234.5h0M636.7 253.6h0M637.4 267.2h0M625.4 260.8h0M636.1 274.7h0M630 271.6h0M632.3 258.5h0M636.1 236.9h0M638.4 261.1h0M638.6 259.1h0M630 244.4h0M628.6 245.3h0M633.5 265.2h0M635 250.6h0M630.4 266.8h0M626.2 255.2h0M631 262.5h0M630 251.4h0M637.5 261h0M635.2 228.7h0M638.3 252.3h0M644.5 253.1h0M632.6 276.7h0M636.3 234.9h0M631.4 265h0M645.1 254.5h0M638.7 255.4h0M631.6 262.7h0M629.8 247.6h0M636.5 247.9h0M635.3 236.7h0M630.1 262.9h0M625.7 256.5h0M639 260.2h0M624.7 254.5h0M642.5 255.9h0M640.4 248.5h0M642.3 248.4h0M638 263h0M640.6 257.9h0M631.3 253.5h0M633.5 270.3h0M637.1 264h0M639.5 239.9h0M630.4 272.2h0M632.7 244.9h0M629.4 270h0M638.4 252.2h0M635.2 234.7h0M630.7 247.8h0M633.2 249.9h0M635 260h0M637.6 257.9h0M637.7 258.2h0M626 257.2h0M635 240.1h0M629.8 246.7h0M635.6 282.9h0M636.6 248.1h0M627.3 246.2h0M625.1 252.1h0M635.2 275.8h0M635.4 283.4h0M637.3 235.6h0M630 249.9h0M628.3 266.6h0M629 258.9h0M631.2 257.3h0M640 244h0M632.7 265.7h0M634.6 231.3h0M639.3 259.8h0M634.3 283h0M641.6 249.5h0M628.6 263.7h0M639.5 250.6h0M644.6 250.3h0M634.2 247.2h0M637.2 270.7h0M627 253.1h0M629.2 260.3h0M633.8 241.5h0M637.8 239.9h0M636.7 231.4h0M627.7 255.9h0M640.3 242.1h0M635.1 224.1h0M638.7 268.2h0M634.6 247.3h0M638.1 250.4h0M639.7 264.9h0M629.7 263.3h0M633.7 264.5h0M630.1 255.8h0M633.7 244.5h0M643.8 253.4h0M633.9 266h0M635.2 235.3h0M631.8 257.8h0M628.4 246.3h0M637.4 243.9h0M631.9 258.2h0M636.3 244.8h0M633.9 240.7h0M637.7 249h0M631.1 258.4h0M633.2 248.9h0M633.8 282.9h0M632.9 245.3h0M636.6 245.6h0M634.4 226.4h0M641.6 254.4h0M625.3 260.8h0M628.7 246.4h0M634.7 228.6h0M629.6 249.8h0M637.8 234.9h0M635.6 242.5h0M634.8 261.1h0M631.7 270.9h0M633.6 277.1h0M638.7 271h0M643.5 254.1h0M645.2 254.6h0M626.7 263.5h0M638 273.8h0M638.4 266.8h0M635.9 269.4h0M644 261.2h0M637.8 249.4h0M628.7 257.9h0M626.7 257.4h0M630.7 249.9h0M642 259.6h0M626.8 251.7h0M628.3 244.6h0M627.1 253.1h0M644.8 259.6h0M628.3 243.3h0M633 277.4h0M638.9 270.7h0M641.8 260.2h0M633.6 239.1h0M635 272.9h0M637.8 252.3h0M633.1 266.7h0M625.3 258.9h0M633 266.5h0M632.1 270h0M634.3 246.7h0M635.6 247.7h0M629.9 253.5h0M631.8 262.4h0M639 261.1h0M635.7 269.7h0M641.9 259.6h0M632.9 269.7h0M631.6 273.1h0M642.9 245.1h0M632.8 236.3h0M635.3 245.9h0M635.1 224.5h0M632.9 262.9h0M629.1 262.8h0M637.2 264.5h0M634.9 263.6h0M637.4 239h0M639.9 253.1h0M627.2 251.9h0M632 260.5h0M631.3 236.8h0M630.1 265.1h0M629.7 253.8h0M635 228.9h0M634.7 245.2h0M625.5 251.7h0M641.7 264.3h0M642.9 251.2h0M630.8 248.2h0M643.6 259.3h0M630.9 264.9h0M631.8 258.6h0M639.9 269.3h0M638.1 253.4h0M632.5 267.6h0M628.1 255.6h0M643.1 255.9h0M635.8 264.4h0M636.8 244.5h0M631.7 258.7h0M640.4 262.9h0M638.8 256.2h0M637.2 250.1h0M628.5 241.6h0M635.9 237.9h0M635 236.1h0M633.2 246.8h0M632.6 233.1h0M640.9 242.3h0M629.1 240.4h0M633.3 229.1h0M637.1 241.5h0M635.3 239.7h0M636.1 235.2h0M624.4 257.2h0M638.4 245.9h0M626.6 258.5h0M642.5 260.8h0M638.3 266.3h0M631.4 244.9h0M631.9 268.7h0M628.5 267.4h0M638.2 254.8h0M628 253.9h0M639.9 252.2h0M636.8 267.4h0M635.5 265.2h0M643.9 260.6h0M636.5 232.5h0M639.1 264.5h0M641.1 255.1h0M629.7 262.5h0M636.2 241h0M644.4 255.6h0M640.7 255.9h0M629.3 260.1h0M640.8 245.2h0M637.5 251.1h0M628.8 260.1h0M637.3 243.6h0M645.2 256.9h0M641.9 259.5h0M628.5 266.5h0M626.8 262.7h0M638.2 235.4h0M640 241.4h0M638.3 252.3h0M634.5 257.1h0M628.5 262h0M643 261.9h0M635.5 239h0M635 288.1h0M642.2 256.5h0M642 245.6h0M630.9 264.8h0M636.8 261.4h0M634.4 260.8h0M636.3 228.5h0M634.1 241.8h0M636 238.1h0M634.9 234.5h0M632.4 242.4h0M629.9 252.8h0M635.6 267.4h0M634.7 296.9h0M632.9 251.4h0M628.2 243.9h0M629 249.9h0M627.4 265h0M636.3 244.2h0M639.8 256.3h0M633.7 283.5h0M630.4 252.7h0M640.8 260.4h0M634.4 268.5h0M635.1 230.6h0M642.4 245.5h0M628.1 250.3h0M639.8 263.5h0M634.4 251.4h0M635.2 277.5h0M627.5 262.1h0M635.2 281.5h0M625.9 254.9h0M644.4 257.8h0M640.6 252.3h0M637.5 262.5h0M634.5 226.4h0M635 242.7h0M638.4 260.7h0M639.1 245.1h0M627.9 243.1h0M631.4 263.4h0M639.3 249.3h0M629.1 242.4h0M639.4 255.5h0M633.4 243.6h0M636.4 257.1h0M633.3 273.6h0M627 251.5h0M628.2 253.2h0M639.2 263.3h0M628.9 246.4h0M639.1 263h0M632.3 271.4h0M634.2 242.3h0M628.1 263.3h0M634.7 262.3h0M639.6 247.6h0M639.1 240.5h0M637.7 257.8h0M636.1 241.2h0M641 247.2h0M634.6 233.4h0M642 258.8h0M634.1 240.8h0M644 259.2h0M626 249.3h0M632.6 277.3h0M630.4 253.5h0M629 253.2h0M630.7 269.2h0M633.9 233.6h0M625.5 252.2h0M645 257.2h0M639.1 255.7h0M624.5 257.7h0M635.8 283.3h0M627.3 263.8h0M640.6 256.4h0M632.2 257.6h0M635.9 268.2h0M628 262.2h0M630.3 238.7h0M634.8 248.8h0M629.6 241.9h0M644.8 255.5h0M634.5 284.7h0M635.9 230h0M632.5 268.3h0M627 252.1h0M641.3 244.3h0M636.4 230.8h0M635 279.3h0M634.8 267h0M628.3 248h0M630.3 269.1h0M632.1 255.8h0M638.4 242.7h0M641 256.1h0M639.7 238.5h0M634.8 257.1h0M631.7 234.5h0M630.3 261h0M625.2 260h0M637.8 270.2h0M643.7 256.5h0M634.6 240.1h0M632.9 250.5h0M631.8 259.3h0M627 249.8h0M634.9 230.4h0M634.1 241.9h0M644.7 252.5h0M635.8 244.1h0M641.9 263.4h0M634.5 226.6h0M635.9 230.1h0M641.3 268.5h0M634.9 228.4h0M637.9 252.5h0M630.7 271.4h0M630.2 249h0M633.5 234.1h0M643.6 254.6h0M639.8 253.8h0M633.1 238.2h0M641.5 253.2h0M624.2 256.4h0M631.7 275.4h0M625.8 256.2h0M640.2 254.4h0M641.7 247.8h0M626.4 253.4h0M637.3 236.1h0M638.4 260.9h0M629.9 248.1h0M636 255h0M642.1 243.8h0M640.3 254.4h0M642.6 263.5h0M644.1 250.8h0M635.5 224.2h0M643.2 248.9h0M625.1 255.7h0M641.5 264.2h0M627 265.3h0M638.8 267.2h0M633.2 275.2h0M633 233.2h0M627.2 249.9h0M636 239.2h0M637.1 238.8h0M633.1 268.5h0M643.9 256.3h0M624.4 258.5h0M639.8 239.9h0M636.8 241.7h0M634.9 290h0M634.8 251.7h0M628 265.7h0M635.9 260.9h0M636.9 232.9h0M635.1 275.3h0M639.4 265.5h0M640 267.6h0M639.3 255h0M630.6 257.7h0M634.4 265.5h0M628.1 258.1h0M635.5 254.5h0M634.2 234.8h0M631.8 244.6h0M638 266.6h0M635 254.2h0M634.1 269.6h0M633.2 274.8h0M632 268.7h0M637 263.3h0M636.1 229.9h0M643 260.3h0M639.4 256.8h0M639.7 248.2h0M635.1 289.8h0M631 236.8h0M633.7 271h0M634.6 294.7h0M630.9 245.7h0M634.5 248.9h0M636.4 281h0M633.5 257.9h0M629 248h0M636.1 260.1h0M643 264.5h0M632.8 260.4h0M633.5 243.6h0M632.7 251.7h0M634.1 275.5h0M644.9 253.9h0M626.8 264.5h0M635.5 275.4h0M638.8 252.6h0M625.4 253.7h0M642.5 245.1h0M637.5 234.8h0M630.7 244.2h0M635.4 280.9h0M634.2 264.4h0M631 274.1h0M638.4 269h0M632.3 267.1h0M641 250.4h0M641.1 263.3h0M630.6 260.7h0M637.6 243.3h0M631.2 241.4h0M643.9 250.1h0M629.6 267h0M642.5 244.9h0M632.5 233.9h0M639 267.7h0M636.8 266.9h0M642.6 251.1h0M634.8 241h0M637.8 252.7h0M626.7 252.1h0M631.4 268.3h0M635.7 283.7h0M637.3 261h0M625.3 250.5h0M630.2 272.3h0M637.5 265.3h0M642.9 263.3h0M637.9 249.5h0M631.2 265.4h0M628.8 256.8h0M637.5 248.4h0M639.9 257.5h0M637.4 250.5h0M631.4 258.5h0M639 250.4h0M632.3 276.2h0M637.3 253.1h0M634.4 225.3h0M633.7 255.1h0M635.6 268.3h0M636.3 260.7h0M637.5 251.5h0M638.7 237.8h0M634.2 244.9h0M634.1 271.4h0M625.7 256.1h0M625.1 261h0M636.2 242.7h0M637.3 244.1h0M631.1 253.4h0M633.5 263.2h0M635.1 249.8h0M636.3 240.9h0M639.6 265.7h0M633.4 240.3h0M634.2 273.3h0M637.8 268.7h0M641.5 257.9h0M635 225.4h0M634.5 252.6h0M633.5 236h0M628.8 258.4h0M641.8 257.5h0M638 247.9h0M632.4 271.9h0M636.5 241h0M636.5 235.8h0M634.1 249.5h0M631.4 244.3h0M625 253.1h0M637.2 235.4h0M637.4 265.1h0M641.6 252.6h0M644 259h0M629 240.9h0M637.1 234.4h0M638.2 244.4h0M626.2 247.2h0M641.1 257.9h0M625.6 253.9h0M634.8 286.8h0M639.8 248.1h0M638.4 247.2h0M634.4 259.9h0M642.7 247.6h0M633.4 241.4h0M639.2 256.5h0M634.9 278.9h0M630 264.4h0M644.7 257.3h0M632.8 263.5h0M630 251.7h0M632.5 273.7h0M636.6 275.1h0M638.6 239.7h0M633.1 258.2h0M642.7 260.2h0M629.9 266h0M626.7 258h0M638.4 264h0M630.2 262.1h0M632.8 265.6h0M630.8 254.3h0M635.1 290.9h0M636.1 234h0M627.1 265.7h0M643.5 255.8h0M635 260.5h0M641.8 260.4h0M627.7 246.1h0M636.6 234.5h0M632.1 254.6h0M642.8 246.6h0M633.6 275.6h0M635.7 263.8h0M631.5 256.1h0M630.2 248.3h0M637 259.8h0M626.5 245.7h0M633.1 258.2h0M638.5 245.9h0M637.9 249.5h0M632.1 264.2h0M636.2 265.3h0M628.1 266.9h0M635.8 253h0M625 259.8h0M632.8 252h0M632.7 269.2h0M639.7 240.3h0M631.6 252h0M625.5 257.1h0M633.8 266.4h0M633.3 258.7h0M637.4 270.4h0M625 250.4h0M638.4 264.3h0M627.6 248.3h0M640.9 247.6h0M632.9 252.5h0M633.7 279.3h0M630.2 249.1h0M629.3 256.3h0M627.7 243.5h0M631.1 266.6h0M639.7 238.4h0M632 257.3h0M629.5 265.1h0M641.2 264.6h0M628.1 256h0M632.8 231.5h0M635.8 261.3h0M642.1 256.6h0M637.8 249.1h0M635.7 234.6h0M636.9 277.5h0M627.9 260.4h0M627.1 245.6h0M640.4 259h0M628.7 259.1h0M627.2 253.5h0M626.2 252.9h0M634.5 262.5h0M631 268.4h0M633.2 278.7h0M637 246.3h0M631.3 240.2h0M632.4 270h0M633.3 263.6h0M633.6 270.3h0M630.6 271.3h0M632.9 231.5h0M629.1 245h0M637.1 248.7h0M641 255.2h0M629.6 243h0M635.8 266.5h0M637.5 240.8h0M630.6 243.3h0M636.6 249.7h0M633.3 235.4h0M634.7 239.7h0M639 261.3h0M632.2 270h0" stroke="#a6a6a6" stroke-width="0.75" stroke-linecap="round" fill="none" opacity="0.7"/>
<line x1="579.2" y1="195.7" x2="579.2" y2="314" stroke="#8c8c8c" stroke-width="1"/>
<line x1="578.7" y1="313.5" x2="657.6" y2="313.5" stroke="#8c8c8c" stroke-width="1"/>
<line x1="574.6" y1="196.4" x2="579.2" y2="196.4" stroke="#8c8c8c" stroke-width="1"/>
<text x="573.6" y="200" font-size="10" text-anchor="end">0.4</text>
<line x1="574.6" y1="225.7" x2="579.2" y2="225.7" stroke="#8c8c8c" stroke-width="1"/>
<text x="573.6" y="229.3" font-size="10" text-anchor="end">0.2</text>
<line x1="574.6" y1="255" x2="579.2" y2="255" stroke="#8c8c8c" stroke-width="1"/>
<text x="573.6" y="258.6" font-size="10" text-anchor="end">0.0</text>
<line x1="574.6" y1="284.3" x2="579.2" y2="284.3" stroke="#8c8c8c" stroke-width="1"/>
<text x="573.6" y="287.9" font-size="10" text-anchor="end">-0.2</text>
<line x1="574.6" y1="313.6" x2="579.2" y2="313.6" stroke="#8c8c8c" stroke-width="1"/>
<text x="573.6" y="317.2" font-size="10" text-anchor="end">-0.4</text>
<line x1="601.5" y1="313.5" x2="601.5" y2="318.3" stroke="#8c8c8c" stroke-width="1"/>
<line x1="634.8" y1="313.5" x2="634.8" y2="318.3" stroke="#8c8c8c" stroke-width="1"/>
<line x1="578" y1="255.1" x2="671" y2="255.1" stroke="#5a5a5a" stroke-width="1.1" stroke-dasharray="3.6 3.2"/>
<line x1="601.5" y1="220.1" x2="601.5" y2="244.1" stroke="#2a2a2a" stroke-width="1.1"/>
<line x1="596.1" y1="220.1" x2="606.9" y2="220.1" stroke="#2a2a2a" stroke-width="1.1"/>
<line x1="596.1" y1="244.1" x2="606.9" y2="244.1" stroke="#2a2a2a" stroke-width="1.1"/>
<line x1="590" y1="232.3" x2="612.5" y2="232.3" stroke="#f0453f" stroke-width="1.1"/>
<line x1="634.8" y1="241.7" x2="634.8" y2="268.4" stroke="#2a2a2a" stroke-width="1.1"/>
<line x1="629.4" y1="241.7" x2="640.2" y2="241.7" stroke="#2a2a2a" stroke-width="1.1"/>
<line x1="629.4" y1="268.4" x2="640.2" y2="268.4" stroke="#2a2a2a" stroke-width="1.1"/>
<line x1="624" y1="255.1" x2="645.8" y2="255.1" stroke="#f0453f" stroke-width="1.1"/>
<line x1="601.2" y1="187.2" x2="638" y2="187.2" stroke="#222" stroke-width="0.9"/>
<text x="621.6" y="187.3" font-size="12" text-anchor="middle" font-weight="bold">****</text>
<text x="601.6" y="329.8" font-size="11" text-anchor="middle">Paired</text>
<text x="637.4" y="329.8" font-size="11" text-anchor="middle">Rand.</text>
<text transform="translate(552 255.3) rotate(-90)" font-size="12.6" text-anchor="middle">Correlation coefficient</text>
</g>
<g id="panel_f">
<text x="0.2" y="366.7" font-size="15">f</text>
<g fill="#d4d4d4" stroke="#333" stroke-width="0.7"><rect x="43" y="464.3" width="5.39" height="18"/><rect x="48.39" y="473.3" width="5.39" height="9"/><rect x="53.78" y="401.3" width="5.39" height="81"/><rect x="59.17" y="446.3" width="5.39" height="36"/><rect x="64.56" y="455.3" width="5.39" height="27"/><rect x="69.95" y="473.3" width="5.39" height="9"/><rect x="75.34" y="464.3" width="5.39" height="18"/><rect x="86.12" y="473.3" width="5.39" height="9"/><rect x="91.51" y="473.3" width="5.39" height="9"/><rect x="118.46" y="473.3" width="5.39" height="9"/></g>
<path d="M47.9 481.1L48.2 480.7L48.5 480.2L48.8 479.5L49.2 478.6L49.5 477.6L49.8 476.2L50.2 474.6L50.5 472.6L50.8 470.3L51.2 467.6L51.5 464.4L51.8 460.9L52.2 456.9L52.5 452.5L52.8 447.7L53.2 442.7L53.5 437.4L53.8 432L54.2 426.6L54.5 421.3L54.8 416.2L55.2 411.5L55.5 407.3L55.8 403.8L56.2 401L56.5 399.1L56.8 398.1L57.2 398L57.5 398.9L57.8 400.7L58.2 403.4L58.5 406.8L58.8 410.9L59.2 415.5L59.5 420.6L59.8 425.8L60.1 431.3L60.5 436.7L60.8 442L61.1 447.1L61.5 451.9L61.8 456.3L62.1 460.3L62.5 464L62.8 467.2L63.1 469.9L63.5 472.3L63.8 474.3L64.1 476L64.5 477.4L64.8 478.5L65.1 479.4L65.5 480.1L65.8 480.7L66.1 481.1L66.5 481.4L66.8 481.7L67.1 481.9L67.5 482L67.8 482.1" fill="none" stroke="#111" stroke-width="0.9"/>
<line x1="42.2" y1="391.8" x2="42.2" y2="482.8" stroke="#111" stroke-width="1"/>
<line x1="41.7" y1="482.3" x2="178.2" y2="482.3" stroke="#111" stroke-width="1"/>
<line x1="38.2" y1="482.3" x2="42.2" y2="482.3" stroke="#111" stroke-width="1"/>
<text x="36.7" y="485.9" font-size="10" text-anchor="end">0</text>
<line x1="38.2" y1="459.8" x2="42.2" y2="459.8" stroke="#111" stroke-width="1"/>
<text x="36.7" y="463.4" font-size="10" text-anchor="end">10</text>
<line x1="38.2" y1="437.3" x2="42.2" y2="437.3" stroke="#111" stroke-width="1"/>
<text x="36.7" y="440.9" font-size="10" text-anchor="end">20</text>
<line x1="38.2" y1="414.8" x2="42.2" y2="414.8" stroke="#111" stroke-width="1"/>
<text x="36.7" y="418.4" font-size="10" text-anchor="end">30</text>
<line x1="38.2" y1="392.3" x2="42.2" y2="392.3" stroke="#111" stroke-width="1"/>
<text x="36.7" y="395.9" font-size="10" text-anchor="end">40</text>
<line x1="43" y1="482.3" x2="43" y2="486.3" stroke="#111" stroke-width="1"/>
<text x="43" y="495.5" font-size="10" text-anchor="middle">0</text>
<line x1="70" y1="482.3" x2="70" y2="486.3" stroke="#111" stroke-width="1"/>
<text x="70" y="495.5" font-size="10" text-anchor="middle">5</text>
<line x1="96.9" y1="482.3" x2="96.9" y2="486.3" stroke="#111" stroke-width="1"/>
<text x="96.9" y="495.5" font-size="10" text-anchor="middle">10</text>
<line x1="123.8" y1="482.3" x2="123.8" y2="486.3" stroke="#111" stroke-width="1"/>
<text x="123.8" y="495.5" font-size="10" text-anchor="middle">15</text>
<line x1="150.8" y1="482.3" x2="150.8" y2="486.3" stroke="#111" stroke-width="1"/>
<text x="150.8" y="495.5" font-size="10" text-anchor="middle">20</text>
<line x1="177.8" y1="482.3" x2="177.8" y2="486.3" stroke="#111" stroke-width="1"/>
<text x="177.8" y="495.5" font-size="10" text-anchor="middle">25</text>
<text x="98.6" y="373.7" font-size="12.3" text-anchor="middle">CT</text>
<text x="107.9" y="393.5" font-size="10" text-anchor="middle"><tspan font-weight="bold">4.2</tspan> +/- 3.1 µm/min</text>
<g fill="#f9c07f" stroke="#8a5a20" stroke-width="0.7"><rect x="208.8" y="477.5" width="5.42" height="4.8"/><rect x="214.22" y="462.5" width="5.42" height="19.8"/><rect x="219.63" y="411.5" width="5.42" height="70.8"/><rect x="225.05" y="416.3" width="5.42" height="66"/><rect x="230.46" y="411.5" width="5.42" height="70.8"/><rect x="235.88" y="431.9" width="5.42" height="50.4"/><rect x="241.3" y="427.1" width="5.42" height="55.2"/><rect x="246.71" y="406.7" width="5.42" height="75.6"/><rect x="252.13" y="421.7" width="5.42" height="60.6"/><rect x="257.54" y="431.9" width="5.42" height="50.4"/><rect x="262.96" y="462.5" width="5.42" height="19.8"/><rect x="268.38" y="467.3" width="5.42" height="15"/><rect x="273.79" y="467.3" width="5.42" height="15"/><rect x="279.21" y="472.1" width="5.42" height="10.2"/><rect x="290.04" y="477.5" width="5.42" height="4.8"/><rect x="295.46" y="477.5" width="5.42" height="4.8"/><rect x="306.29" y="477.5" width="5.42" height="4.8"/></g>
<path d="M211.5 480.3L212.1 479.6L212.8 478.8L213.4 477.7L214 476.3L214.7 474.6L215.3 472.6L215.9 470.3L216.6 467.6L217.2 464.5L217.8 461L218.5 457.1L219.1 453L219.7 448.6L220.4 444.1L221 439.5L221.6 435L222.2 430.7L222.9 426.8L223.5 423.3L224.1 420.4L224.8 418.3L225.4 416.9L226 416.3L226.7 416.6L227.3 417.8L227.9 419.7L228.6 422.4L229.2 425.7L229.8 429.6L230.5 433.8L231.1 438.2L231.7 442.8L232.4 447.3L233 451.8L233.6 456L234.3 459.9L234.9 463.5L235.5 466.7L236.2 469.6L236.8 472L237.4 474.1L238 475.9L238.7 477.3L239.3 478.5L239.9 479.4L240.6 480.1L241.2 480.7L241.8 481.1L242.5 481.5L243.1 481.7L243.7 481.9L244.4 482L245 482.1L245.6 482.2L246.3 482.2L246.9 482.2L247.5 482.3L248.2 482.3L248.8 482.3L249.4 482.3" fill="none" stroke="#111" stroke-width="0.9"/>
<path d="M211.5 482.1L213.2 482L214.9 481.8L216.7 481.5L218.4 481L220.1 480.4L221.8 479.5L223.5 478.2L225.2 476.6L226.9 474.4L228.7 471.6L230.4 468.1L232.1 464L233.8 459.2L235.5 453.8L237.2 448L238.9 441.8L240.7 435.7L242.4 429.8L244.1 424.5L245.8 420L247.5 416.8L249.2 414.9L251 414.6L252.7 415.7L254.4 418.3L256.1 422.2L257.8 427.2L259.5 432.8L261.2 438.9L263 445.1L264.7 451.1L266.4 456.7L268.1 461.8L269.8 466.3L271.5 470L273.3 473.1L275 475.6L276.7 477.5L278.4 478.9L280.1 480L281.8 480.8L283.5 481.3L285.3 481.7L287 481.9L288.7 482.1L290.4 482.2L292.1 482.2L293.8 482.3L295.5 482.3L297.3 482.3L299 482.3L300.7 482.3L302.4 482.3L304.1 482.3L305.8 482.3L307.6 482.3L309.3 482.3L311 482.3L312.7 482.3L314.4 482.3" fill="none" stroke="#111" stroke-width="0.9"/>
<line x1="208" y1="391.8" x2="208" y2="482.8" stroke="#111" stroke-width="1"/>
<line x1="207.5" y1="482.3" x2="344.7" y2="482.3" stroke="#111" stroke-width="1"/>
<line x1="204" y1="482.3" x2="208" y2="482.3" stroke="#111" stroke-width="1"/>
<text x="204.7" y="485.9" font-size="10" text-anchor="end">0</text>
<line x1="204" y1="452.3" x2="208" y2="452.3" stroke="#111" stroke-width="1"/>
<text x="204.7" y="455.9" font-size="10" text-anchor="end">5</text>
<line x1="204" y1="422.3" x2="208" y2="422.3" stroke="#111" stroke-width="1"/>
<text x="204.7" y="425.9" font-size="10" text-anchor="end">10</text>
<line x1="204" y1="392.3" x2="208" y2="392.3" stroke="#111" stroke-width="1"/>
<text x="204.7" y="395.9" font-size="10" text-anchor="end">15</text>
<line x1="208.8" y1="482.3" x2="208.8" y2="486.3" stroke="#111" stroke-width="1"/>
<text x="208.8" y="495.5" font-size="10" text-anchor="middle">0</text>
<line x1="235.9" y1="482.3" x2="235.9" y2="486.3" stroke="#111" stroke-width="1"/>
<text x="235.9" y="495.5" font-size="10" text-anchor="middle">5</text>
<line x1="263" y1="482.3" x2="263" y2="486.3" stroke="#111" stroke-width="1"/>
<text x="263" y="495.5" font-size="10" text-anchor="middle">10</text>
<line x1="290" y1="482.3" x2="290" y2="486.3" stroke="#111" stroke-width="1"/>
<text x="290" y="495.5" font-size="10" text-anchor="middle">15</text>
<line x1="317.1" y1="482.3" x2="317.1" y2="486.3" stroke="#111" stroke-width="1"/>
<text x="317.1" y="495.5" font-size="10" text-anchor="middle">20</text>
<line x1="344.2" y1="482.3" x2="344.2" y2="486.3" stroke="#111" stroke-width="1"/>
<text x="344.2" y="495.5" font-size="10" text-anchor="middle">25</text>
<text x="269.6" y="373.7" font-size="12.3" text-anchor="middle">IL2</text>
<text x="273.3" y="393.5" font-size="10" text-anchor="middle"><tspan font-weight="bold">6.5</tspan> +/- 3.3 µm/min</text>
<g fill="#86b4f6" stroke="#1d3f86" stroke-width="0.7"><rect x="380.92" y="468.8" width="5.42" height="13.5"/><rect x="386.35" y="410.3" width="5.42" height="72"/><rect x="391.77" y="423.8" width="5.42" height="58.5"/><rect x="397.2" y="450.8" width="5.42" height="31.5"/><rect x="402.62" y="464.3" width="5.42" height="18"/><rect x="408.04" y="468.8" width="5.42" height="13.5"/><rect x="413.47" y="477.8" width="5.42" height="4.5"/><rect x="424.32" y="477.8" width="5.42" height="4.5"/><rect x="429.74" y="477.8" width="5.42" height="4.5"/><rect x="435.16" y="477.8" width="5.42" height="4.5"/></g>
<path d="M378.2 479.9L378.8 479.2L379.3 478.3L379.8 477.3L380.4 476L380.9 474.5L381.5 472.7L382 470.6L382.6 468.3L383.1 465.6L383.6 462.6L384.2 459.3L384.7 455.7L385.3 451.9L385.8 447.8L386.3 443.6L386.9 439.3L387.4 435L388 430.8L388.5 426.8L389.1 423.1L389.6 419.8L390.1 416.9L390.7 414.5L391.2 412.8L391.8 411.8L392.3 411.4L392.9 411.8L393.4 412.8L393.9 414.5L394.5 416.9L395 419.8L395.6 423.1L396.1 426.8L396.7 430.8L397.2 435L397.7 439.3L398.3 443.6L398.8 447.8L399.4 451.9L399.9 455.7L400.5 459.3L401 462.6L401.5 465.6L402.1 468.3L402.6 470.6L403.2 472.7L403.7 474.5L404.2 476L404.8 477.3L405.3 478.3L405.9 479.2L406.4 479.9L407 480.4L407.5 480.9L408 481.2L408.6 481.5L409.1 481.7L409.7 481.9L410.2 482L410.8 482.1" fill="none" stroke="#111" stroke-width="0.9"/>
<line x1="374.7" y1="391.8" x2="374.7" y2="482.8" stroke="#111" stroke-width="1"/>
<line x1="374.2" y1="482.3" x2="511.6" y2="482.3" stroke="#111" stroke-width="1"/>
<line x1="370.7" y1="482.3" x2="374.7" y2="482.3" stroke="#111" stroke-width="1"/>
<text x="370.3" y="485.9" font-size="10" text-anchor="end">0</text>
<line x1="370.7" y1="459.8" x2="374.7" y2="459.8" stroke="#111" stroke-width="1"/>
<text x="370.3" y="463.4" font-size="10" text-anchor="end">10</text>
<line x1="370.7" y1="437.3" x2="374.7" y2="437.3" stroke="#111" stroke-width="1"/>
<text x="370.3" y="440.9" font-size="10" text-anchor="end">20</text>
<line x1="370.7" y1="414.8" x2="374.7" y2="414.8" stroke="#111" stroke-width="1"/>
<text x="370.3" y="418.4" font-size="10" text-anchor="end">30</text>
<line x1="370.7" y1="392.3" x2="374.7" y2="392.3" stroke="#111" stroke-width="1"/>
<text x="370.3" y="395.9" font-size="10" text-anchor="end">40</text>
<line x1="375.5" y1="482.3" x2="375.5" y2="486.3" stroke="#111" stroke-width="1"/>
<text x="375.5" y="495.5" font-size="10" text-anchor="middle">0</text>
<line x1="402.6" y1="482.3" x2="402.6" y2="486.3" stroke="#111" stroke-width="1"/>
<text x="402.6" y="495.5" font-size="10" text-anchor="middle">5</text>
<line x1="429.7" y1="482.3" x2="429.7" y2="486.3" stroke="#111" stroke-width="1"/>
<text x="429.7" y="495.5" font-size="10" text-anchor="middle">10</text>
<line x1="456.9" y1="482.3" x2="456.9" y2="486.3" stroke="#111" stroke-width="1"/>
<text x="456.9" y="495.5" font-size="10" text-anchor="middle">15</text>
<line x1="484" y1="482.3" x2="484" y2="486.3" stroke="#111" stroke-width="1"/>
<text x="484" y="495.5" font-size="10" text-anchor="middle">20</text>
<line x1="511.1" y1="482.3" x2="511.1" y2="486.3" stroke="#111" stroke-width="1"/>
<text x="511.1" y="495.5" font-size="10" text-anchor="middle">25</text>
<text x="439.9" y="373.7" font-size="12.3" text-anchor="middle">Ttz</text>
<text x="442.5" y="393.5" font-size="10" text-anchor="middle"><tspan font-weight="bold">4.1</tspan> +/- 2.1 µm/min</text>
<g fill="#e0589e" stroke="#6a1848" stroke-width="0.7"><rect x="545.5" y="473.3" width="5.42" height="9"/><rect x="550.92" y="450.8" width="5.42" height="31.5"/><rect x="556.35" y="414.8" width="5.42" height="67.5"/><rect x="561.77" y="410.3" width="5.42" height="72"/><rect x="567.2" y="432.8" width="5.42" height="49.5"/><rect x="572.62" y="437.3" width="5.42" height="45"/><rect x="578.04" y="432.8" width="5.42" height="49.5"/><rect x="583.47" y="428.3" width="5.42" height="54"/><rect x="588.89" y="468.8" width="5.42" height="13.5"/><rect x="594.32" y="464.3" width="5.42" height="18"/><rect x="599.74" y="473.3" width="5.42" height="9"/><rect x="605.16" y="477.8" width="5.42" height="4.5"/><rect x="610.59" y="477.8" width="5.42" height="4.5"/></g>
<path d="M547.7 475.4L548.4 473.7L549 471.7L549.7 469.3L550.4 466.6L551.1 463.5L551.8 460.1L552.5 456.3L553.2 452.3L553.9 448L554.5 443.5L555.2 438.9L555.9 434.3L556.6 429.8L557.3 425.5L558 421.6L558.7 418.1L559.3 415.1L560 412.8L560.7 411.2L561.4 410.4L562.1 410.4L562.8 411.2L563.5 412.7L564.2 415L564.8 417.9L565.5 421.4L566.2 425.3L566.9 429.6L567.6 434L568.3 438.6L569 443.2L569.7 447.7L570.3 452L571 456.1L571.7 459.9L572.4 463.3L573.1 466.4L573.8 469.2L574.5 471.5L575.2 473.6L575.8 475.3L576.5 476.8L577.2 478L577.9 479L578.6 479.7L579.3 480.4L580 480.8L580.6 481.2L581.3 481.5L582 481.7L582.7 481.9L583.4 482L584.1 482.1L584.8 482.2L585.5 482.2L586.1 482.2L586.8 482.3L587.5 482.3L588.2 482.3L588.9 482.3" fill="none" stroke="#111" stroke-width="0.9"/>
<path d="M550.9 482.3L552 482.3L553.1 482.2L554.2 482.2L555.3 482.1L556.3 482L557.4 481.8L558.5 481.6L559.6 481.3L560.7 480.8L561.8 480.2L562.9 479.4L563.9 478.4L565 477.1L566.1 475.4L567.2 473.4L568.3 471L569.4 468.2L570.5 465L571.5 461.4L572.6 457.5L573.7 453.5L574.8 449.4L575.9 445.4L577 441.6L578 438.2L579.1 435.4L580.2 433.2L581.3 431.9L582.4 431.4L583.5 431.9L584.6 433.2L585.6 435.4L586.7 438.2L587.8 441.6L588.9 445.4L590 449.4L591.1 453.5L592.1 457.5L593.2 461.4L594.3 465L595.4 468.2L596.5 471L597.6 473.4L598.7 475.4L599.7 477.1L600.8 478.4L601.9 479.4L603 480.2L604.1 480.8L605.2 481.3L606.2 481.6L607.3 481.8L608.4 482L609.5 482.1L610.6 482.2L611.7 482.2L612.8 482.3L613.8 482.3L614.9 482.3L616 482.3" fill="none" stroke="#111" stroke-width="0.9"/>
<line x1="544.7" y1="391.8" x2="544.7" y2="482.8" stroke="#111" stroke-width="1"/>
<line x1="544.2" y1="482.3" x2="681.6" y2="482.3" stroke="#111" stroke-width="1"/>
<line x1="540.7" y1="482.3" x2="544.7" y2="482.3" stroke="#111" stroke-width="1"/>
<text x="540.6" y="485.9" font-size="10" text-anchor="end">0</text>
<line x1="540.7" y1="459.8" x2="544.7" y2="459.8" stroke="#111" stroke-width="1"/>
<text x="540.6" y="463.4" font-size="10" text-anchor="end">5</text>
<line x1="540.7" y1="437.3" x2="544.7" y2="437.3" stroke="#111" stroke-width="1"/>
<text x="540.6" y="440.9" font-size="10" text-anchor="end">10</text>
<line x1="540.7" y1="414.8" x2="544.7" y2="414.8" stroke="#111" stroke-width="1"/>
<text x="540.6" y="418.4" font-size="10" text-anchor="end">15</text>
<line x1="540.7" y1="392.3" x2="544.7" y2="392.3" stroke="#111" stroke-width="1"/>
<text x="540.6" y="395.9" font-size="10" text-anchor="end">20</text>
<line x1="545.5" y1="482.3" x2="545.5" y2="486.3" stroke="#111" stroke-width="1"/>
<text x="545.5" y="495.5" font-size="10" text-anchor="middle">0</text>
<line x1="572.6" y1="482.3" x2="572.6" y2="486.3" stroke="#111" stroke-width="1"/>
<text x="572.6" y="495.5" font-size="10" text-anchor="middle">5</text>
<line x1="599.7" y1="482.3" x2="599.7" y2="486.3" stroke="#111" stroke-width="1"/>
<text x="599.7" y="495.5" font-size="10" text-anchor="middle">10</text>
<line x1="626.9" y1="482.3" x2="626.9" y2="486.3" stroke="#111" stroke-width="1"/>
<text x="626.9" y="495.5" font-size="10" text-anchor="middle">15</text>
<line x1="654" y1="482.3" x2="654" y2="486.3" stroke="#111" stroke-width="1"/>
<text x="654" y="495.5" font-size="10" text-anchor="middle">20</text>
<line x1="681.1" y1="482.3" x2="681.1" y2="486.3" stroke="#111" stroke-width="1"/>
<text x="681.1" y="495.5" font-size="10" text-anchor="middle">25</text>
<text x="622" y="373.7" font-size="12.3" text-anchor="middle">IL2+Ttz</text>
<text x="619.4" y="393.5" font-size="10" text-anchor="middle"><tspan font-weight="bold">5.1</tspan> +/- 2.6 µm/min</text>
<text x="280.7" y="424.8" font-size="10" font-weight="bold">***</text>
<text x="280.7" y="440.2" font-size="10">p=0.0002</text>
<text x="435.1" y="440.2" font-size="10">p&gt;0.9999</text>
<text x="615.1" y="440.2" font-size="10">p=0.1474</text>
<text transform="translate(18.2 438.8) rotate(-90)" font-size="12" text-anchor="middle">% count</text>
<text x="367" y="515.6" font-size="12.6" text-anchor="middle">Mean velocity (µm/min)</text>
</g>
<g id="panel_g">
<text x="-0.5" y="562.5" font-size="15">g</text>
<rect x="69.4" y="603.3" width="225.2" height="24.3" fill="#fff" stroke="#333" stroke-width="1.3"/>
<rect x="69.4" y="631.6" width="225.2" height="24" fill="#fff" stroke="#f0a963" stroke-width="1.3"/>
<rect x="69.4" y="659.6" width="225.2" height="24" fill="#fff" stroke="#a9c0e6" stroke-width="1.3"/>
<rect x="69.4" y="687.2" width="225.2" height="24.3" fill="#fff" stroke="#e8528c" stroke-width="1.3"/>
<g fill="#000" stroke="#000" stroke-width="0.9" stroke-linejoin="round"><ellipse cx="81.1" cy="615.4" rx="1.9" ry="4.0" transform="rotate(25 81.1 615.4)"/><ellipse cx="103.9" cy="615.4" rx="2.3" ry="2.3"/><ellipse cx="126.3" cy="615.4" rx="2.9" ry="2.3"/><ellipse cx="148.6" cy="615.8" rx="2.7" ry="2.7"/><ellipse cx="170.7" cy="615" rx="2.2" ry="3.7" transform="rotate(10 170.7 615)"/><ellipse cx="192.6" cy="615.4" rx="2.4" ry="2.4"/><ellipse cx="215" cy="615.4" rx="2.1" ry="3.4"/><ellipse cx="237.5" cy="615.9" rx="3.0" ry="2.1"/><path d="M258.1 611.5C258.6 611.1 259.8 611.9 260.5 612.5C261.2 613.1 262.4 614.2 262.5 615.1C262.6 616 261.6 617.3 260.9 617.9C260.2 618.5 259.1 619 258.5 618.5C257.9 618 257.6 616.3 257.5 615.1C257.4 613.9 257.6 611.9 258.1 611.5Z"/><path d="M279.8 613.2C280.3 612.6 281.7 612.3 282.5 612.4C283.3 612.5 284.2 613.2 284.4 613.9C284.6 614.6 283.9 615.8 283.6 616.4C283.3 617 282.6 617.1 282.4 617.6C282.2 618.1 282.8 619.3 282.6 619.6C282.4 619.9 281.6 620 281.4 619.6C281.2 619.2 281.5 617.6 281.2 617C280.9 616.4 279.8 616.4 279.6 615.8C279.4 615.2 279.3 613.8 279.8 613.2Z"/><path d="M75.1 646.6C75.3 646 76.8 644.7 77.6 644C78.4 643.3 79.4 643.1 80.1 642.6C80.8 642.1 81.1 641.1 81.6 641C82.1 640.9 82.6 642.3 83.1 642.2C83.6 642.1 84.1 640.6 84.7 640.4C85.3 640.2 86.6 640.3 86.7 640.8C86.8 641.3 86.2 642.8 85.5 643.4C84.8 644 83.5 644 82.7 644.4C81.9 644.8 81.3 645.7 80.5 646C79.7 646.3 78.4 646 77.7 646.2C77 646.4 76.5 647.3 76.1 647.4C75.7 647.5 74.8 647.2 75.1 646.6Z"/><path d="M102.5 638.8C103.2 638.4 104.7 638.7 105.3 639.2C105.9 639.7 105.8 641.4 106.3 642C106.8 642.6 108.3 642.4 108.3 642.8C108.3 643.2 106.5 643.8 106.5 644.6C106.5 645.4 108.5 647.1 108.5 647.6C108.5 648.1 107 648.2 106.3 647.8C105.6 647.4 105 645.3 104.3 645.2C103.6 645.1 102.7 647.2 101.9 647.4C101.1 647.6 99.4 647.2 99.3 646.6C99.2 646 101 644.8 101.3 644C101.6 643.2 100.7 642.7 100.9 641.8C101.1 640.9 101.8 639.2 102.5 638.8Z"/><path d="M121.3 643C121.5 642.2 123.2 641.2 124.3 640.8C125.4 640.4 126.8 640.2 127.9 640.4C129 640.6 130.4 641.1 130.9 641.8C131.4 642.5 131.1 643.9 130.7 644.6C130.3 645.3 129.1 645.8 128.3 646.2C127.5 646.6 126.5 647.3 125.7 647.2C124.9 647.1 124 646.5 123.3 645.8C122.6 645.1 121.1 643.8 121.3 643Z"/><ellipse cx="148.1" cy="643.1" rx="5.6" ry="2.3" transform="rotate(-22 148.1 643.1)"/><path d="M165.9 642.5C166.4 642 167.9 641.3 169.3 641C170.7 640.7 173.1 640.7 174.3 640.9C175.5 641.1 176.5 641.7 176.7 642.3C176.9 642.9 176.4 644.1 175.5 644.5C174.6 644.9 172.6 644.6 171.3 644.7C170 644.8 168.8 645.4 167.9 645.3C167 645.2 166.4 644.8 166.1 644.3C165.8 643.8 165.4 643 165.9 642.5Z"/><path d="M188.8 639.4C189.4 639 190.7 640.7 191.6 641.2C192.5 641.7 193.1 641.7 194 642.2C194.9 642.7 197 643.6 197 644.2C197 644.8 195.2 645.6 194.2 646C193.2 646.4 191.9 646.1 191 646.4C190.1 646.7 188.8 648.1 188.6 647.8C188.4 647.5 189.7 645.3 189.6 644.6C189.5 643.9 188.1 644.7 188 643.8C187.9 642.9 188.2 639.8 188.8 639.4Z"/><path d="M208.6 644.8C208.8 644.3 210.8 643.5 212 642.8C213.2 642.1 214.5 641.1 215.8 640.8C217.1 640.5 219 640.7 219.6 641.2C220.2 641.7 220 642.9 219.4 643.6C218.8 644.3 217.1 645.2 216 645.6C214.9 646 213.7 645.2 213 645.8C212.3 646.4 212.4 648.7 212 649.2C211.6 649.7 210.6 649.2 210.4 648.6C210.2 648 211.1 646.4 210.8 645.8C210.5 645.2 208.4 645.3 208.6 644.8Z"/><path d="M234.1 645.6C234.2 644.7 234.5 642.9 235.2 641.6C235.9 640.3 237.1 638.5 238.1 637.8C239.1 637.1 240.5 636.8 241.1 637.2C241.7 637.6 242.1 639.1 241.9 640.2C241.8 641.3 241 643 240.2 644C239.4 645 238.2 645.7 237.3 646.2C236.4 646.7 235.4 647.1 234.9 647C234.4 646.9 234 646.5 234.1 645.6Z"/><path d="M252.7 645.4C253 644.6 255.2 642.8 256.1 642C257 641.2 257.4 640.9 258.1 640.8C258.8 640.7 259.5 641.7 260.3 641.6C261.1 641.5 261.7 640.5 262.7 640.4C263.7 640.3 265.8 640.3 266.1 640.8C266.4 641.3 264.8 642.6 264.7 643.4C264.6 644.2 266.2 645 265.7 645.4C265.2 645.8 262.8 645.4 261.7 645.6C260.6 645.8 259.9 646.8 259.1 646.8C258.3 646.8 257.5 645.8 256.7 645.8C255.9 645.8 254.8 646.9 254.1 646.8C253.4 646.7 252.4 646.2 252.7 645.4Z"/><path d="M275.8 647.2C275.6 646.5 276.7 644.5 277.4 643.4C278.1 642.3 279.1 641.1 280 640.6C280.9 640.1 282.1 639.9 283 640.2C283.9 640.5 284.7 641.3 285.4 642.4C286.1 643.5 287.5 646 287.4 646.6C287.3 647.2 285.7 646.1 285 646.2C284.3 646.3 283.7 647.4 283 647.4C282.3 647.4 281.6 646.4 280.8 646.4C280 646.4 279.2 647.5 278.4 647.6C277.6 647.7 276 647.9 275.8 647.2Z"/><path d="M79.3 668C79.5 667.3 80.3 669.2 81.1 670C81.9 670.8 83.6 672.3 83.9 673C84.2 673.7 83.6 674.3 83.1 674.4C82.6 674.5 81.5 673.7 80.9 673.6C80.3 673.5 80 674.9 79.7 674C79.4 673.1 79.1 668.7 79.3 668Z"/><path d="M104.3 667.7C104.8 667.5 105 669.6 105.5 670.5C106 671.4 107.3 672.9 107.1 673.3C106.9 673.7 105.4 673 104.5 673.1C103.6 673.2 101.8 674.2 101.5 673.9C101.2 673.6 102.2 672.5 102.7 671.5C103.2 670.5 103.8 667.9 104.3 667.7Z"/><path d="M123.8 668.3C124 667.9 125.6 668.7 126.2 669.3C126.8 669.9 127.3 671 127.6 671.9C127.9 672.8 128.3 674.4 128 674.9C127.7 675.4 126.5 675.2 126 674.7C125.5 674.2 125.2 673 124.8 671.9C124.4 670.8 123.6 668.7 123.8 668.3Z"/><ellipse cx="148.2" cy="671.5" rx="1.1" ry="2.4" transform="rotate(-8 148.2 671.5)"/><path d="M167.9 669.3C168.2 669 169.7 669.3 170.5 669.7C171.3 670.1 172.6 670.9 172.9 671.5C173.2 672.1 172.6 673.1 172.1 673.5C171.6 673.9 170.4 674 169.9 673.7C169.4 673.4 169.2 672.2 168.9 671.5C168.6 670.8 167.6 669.6 167.9 669.3Z"/><path d="M190.3 668.5C190.6 668.1 192.3 668.5 192.9 669.1C193.5 669.7 193.8 671 193.9 671.9C194 672.8 194.1 674.1 193.7 674.5C193.3 674.9 192.2 674.8 191.7 674.3C191.2 673.8 191.1 672.5 190.9 671.5C190.7 670.5 190 668.9 190.3 668.5Z"/><path d="M214.2 667.5C214.6 667.4 215 668.9 215.6 669.9C216.2 670.9 217.6 672.9 217.6 673.7C217.6 674.5 216.3 674.8 215.6 674.7C214.9 674.6 213.8 674 213.4 673.3C213 672.6 213.3 671.7 213.4 670.7C213.5 669.7 213.8 667.6 214.2 667.5Z"/><path d="M240.4 668.1C240.7 668.2 240.5 669.1 240 669.9C239.5 670.7 238.1 672 237.2 672.9C236.3 673.8 235.4 675.1 234.8 675.5C234.2 675.9 233.5 675.8 233.6 675.1C233.7 674.4 234.9 672.5 235.6 671.5C236.3 670.5 237.2 669.7 238 669.1C238.8 668.5 240.1 668 240.4 668.1Z"/><path d="M259.4 667.3C259.8 667.1 259.9 669.2 260.2 670.1C260.5 671 261.2 672.1 261.2 672.9C261.2 673.7 260.5 674.9 260 675.1C259.5 675.3 258.5 674.9 258.2 674.3C257.9 673.7 257.8 672.7 258 671.5C258.2 670.3 259 667.5 259.4 667.3Z"/><path d="M278 668.9C278.2 668.8 279.7 670.2 280.4 670.1C281.1 670 281.9 668.4 282.2 668.5C282.5 668.6 282 670.2 282.4 670.7C282.8 671.2 284.5 671.3 284.4 671.5C284.3 671.7 282.5 671.7 282 672.1C281.5 672.5 281.5 674.1 281.2 674.1C280.9 674.1 280.5 672.3 280 672.1C279.5 671.9 278.1 672.9 278 672.7C277.9 672.5 279.2 671.5 279.2 670.9C279.2 670.3 277.8 669 278 668.9Z"/><path d="M76.5 697.8C76.9 697 78 695.7 78.9 695.4C79.8 695.1 81.2 695.3 81.9 695.8C82.6 696.3 82.3 697.5 83.1 698.6C83.9 699.7 86.4 701.5 86.9 702.4C87.4 703.3 86.9 704 86.3 704C85.7 704 84.3 702.9 83.3 702.2C82.3 701.5 81.3 700 80.5 699.8C79.7 699.6 79.2 700.8 78.5 700.8C77.8 700.8 76.8 700.5 76.5 700C76.2 699.5 76.1 698.6 76.5 697.8Z"/><path d="M98.2 696.3C98.7 696 101.3 696.6 102.6 696.9C103.9 697.2 105 697.9 106.2 698.3C107.4 698.7 109.9 698.8 110 699.3C110.1 699.8 107.7 700.5 106.8 701.3C105.9 702.1 105.5 703.9 104.8 704.3C104.1 704.7 103.3 704.1 102.8 703.5C102.3 702.9 102.1 701.3 101.6 700.5C101.1 699.7 100.4 699.2 99.8 698.5C99.2 697.8 97.7 696.6 98.2 696.3Z"/><path d="M122.1 698.9C122.4 698.3 124.3 698.4 125.1 697.9C125.9 697.4 126.4 696 127.1 695.7C127.8 695.4 129.1 695.7 129.5 696.3C129.9 696.9 129.8 698.4 129.7 699.3C129.6 700.2 129.1 701 129.1 701.9C129.1 702.8 130 704.1 129.7 704.5C129.4 704.9 128.1 704.9 127.5 704.5C126.9 704.1 126.8 702.4 126.1 701.9C125.4 701.4 124.2 701.8 123.5 701.3C122.8 700.8 121.8 699.5 122.1 698.9Z"/><path d="M143.2 697.5C143.5 696.8 144.9 695.8 146 695.5C147.1 695.2 148.7 695.3 150 695.5C151.3 695.7 153.2 695.9 153.6 696.5C154 697.1 153 698.3 152.4 698.9C151.8 699.5 150.4 699.4 149.8 700.1C149.2 700.8 149.5 702.5 149 703.1C148.5 703.7 147.4 704.3 147 703.9C146.6 703.5 146.9 701.2 146.4 700.5C145.9 699.8 144.5 700.2 144 699.7C143.5 699.2 142.9 698.2 143.2 697.5Z"/><path d="M165.7 702.5C165.8 701.9 167.1 700.4 167.7 699.5C168.3 698.6 168.8 697 169.3 696.9C169.8 696.8 170.3 698.7 170.9 698.9C171.5 699.1 172.3 698.2 172.9 698.3C173.5 698.4 173.6 699.4 174.3 699.7C175 700 176.5 699.6 176.9 699.9C177.3 700.2 177.2 701.4 176.5 701.7C175.8 702 173.8 701.6 172.7 701.5C171.6 701.4 170.6 700.7 169.7 700.9C168.8 701.1 168 702.6 167.3 702.9C166.6 703.2 165.6 703.1 165.7 702.5Z"/><path d="M187.6 696.6C188 696.3 189.5 696.2 190.6 696.4C191.7 696.6 193.3 697.3 194.2 698C195.1 698.7 195.7 699.7 196.2 700.6C196.7 701.5 197.2 702.7 197.2 703.2C197.2 703.7 196.5 703.8 196 703.4C195.5 703 195 701.4 194.2 700.6C193.4 699.8 192.2 699.2 191.2 698.8C190.2 698.4 188.6 698.4 188 698C187.4 697.6 187.2 696.9 187.6 696.6Z"/><path d="M209.4 693.9C209.5 693.7 211.9 696.3 212.8 696.9C213.7 697.5 213.9 696.9 214.8 697.3C215.7 697.7 217.4 698.6 218 699.3C218.6 700 218.8 700.8 218.6 701.5C218.4 702.2 217.2 702.7 216.8 703.5C216.4 704.3 216.3 706.3 216 706.3C215.7 706.3 215.3 704.3 214.8 703.5C214.3 702.7 213.2 702.2 212.8 701.3C212.4 700.4 212.8 699.5 212.2 698.3C211.6 697.1 209.3 694.1 209.4 693.9Z"/><path d="M232.8 695.5C233 695.1 235.1 697.5 236.2 697.5C237.3 697.5 238.7 695.2 239.2 695.3C239.7 695.4 238.7 697.3 239.4 698.3C240.1 699.3 243.1 700.6 243.2 701.1C243.3 701.6 240.9 701 240.2 701.5C239.5 702 239.5 703.7 238.8 703.9C238.1 704.1 237 702.6 236.2 702.5C235.4 702.4 234.4 703.9 234.2 703.5C234 703.1 235.4 701.4 235.2 700.1C235 698.8 232.6 695.9 232.8 695.5Z"/><path d="M254.1 694.9C254.3 694.5 256.6 696.9 257.7 697.3C258.8 697.7 259.8 697 260.9 697.5C262 698 264.3 699.3 264.5 700.1C264.7 700.9 262.9 701.5 262.3 702.1C261.7 702.7 261.7 703.8 260.9 703.9C260.1 704 258.5 703.6 257.7 702.9C256.9 702.2 256.9 701.2 256.3 699.9C255.7 698.6 253.9 695.3 254.1 694.9Z"/><path d="M276 698.7C275.9 698.3 277.9 698.7 278.4 698.3C278.9 697.9 278.2 696.2 278.8 696.1C279.4 696 281 697.4 282 697.9C283 698.4 284.1 698.5 285 699.3C285.9 700.1 287.6 702.2 287.4 702.7C287.2 703.2 285 702.2 284 702.1C283 702 282.3 702.5 281.4 702.3C280.5 702.1 279.7 701.3 278.8 700.7C277.9 700.1 276.1 699.1 276 698.7Z"/><circle cx="224.6" cy="653.6" r="0.7"/></g>
<line x1="281.6" y1="623.4" x2="290.8" y2="623.4" stroke="#000" stroke-width="1.3"/>
<line x1="281.6" y1="651.7" x2="290.8" y2="651.7" stroke="#000" stroke-width="1.3"/>
<line x1="281.6" y1="679.8" x2="290.8" y2="679.8" stroke="#000" stroke-width="1.3"/>
<line x1="281.6" y1="707.3" x2="290.8" y2="707.3" stroke="#000" stroke-width="1.3"/>
<text x="303.8" y="619.2" font-size="12.3">CT</text>
<text x="303.8" y="647" font-size="12.3">IL2</text>
<text x="303.8" y="674.7" font-size="12.3">Ttz</text>
<text x="303.8" y="702.7" font-size="12.3">IL2+Ttz</text>
</g>
<g id="panel_h">
<text x="397.7" y="562.7" font-size="15">h</text>
<path d="M525.6 712C524.8 711.4 522.5 709.8 521 708.7C519.5 707.6 517.6 706.3 516.8 705.4C516 704.4 515.8 704 516.1 703.2C516.4 702.3 518.1 701.3 518.8 700.5C519.5 699.7 520.1 699.1 520.2 698.3C520.3 697.4 519.7 696.3 519.6 695.4C519.5 694.6 519.1 694.1 519.4 693.2C519.7 692.4 520.9 691.3 521.6 690.4C522.3 689.4 523.2 688.7 523.8 687.7C524.4 686.7 524.7 685.3 525 684.4C525.3 683.4 525.4 682.4 525.6 682C525.8 681.6 526.2 681.6 526.4 682C526.6 682.4 526.7 683.4 527 684.4C527.3 685.3 527.6 686.7 528.2 687.7C528.8 688.7 529.7 689.4 530.4 690.4C531.1 691.3 532.3 692.4 532.6 693.2C532.9 694.1 532.5 694.6 532.4 695.4C532.3 696.3 531.7 697.4 531.8 698.3C531.9 699.1 532.5 699.7 533.2 700.5C533.9 701.3 535.6 702.3 535.9 703.2C536.2 704 536 704.4 535.2 705.4C534.4 706.3 532.5 707.6 531 708.7C529.5 709.8 527.2 711.4 526.4 712Z" fill="#cacaca"/><path d="M526 712h0M524.7 707.3h0M527.3 707.3h0M532.5 707.3h0M519.5 704.9h0M522.1 704.9h0M524.7 704.9h0M527.3 704.9h0M529.9 704.9h0M532.5 704.9h0M535.1 704.9h0M516.9 702.6h0M524.7 702.6h0M529.9 702.6h0M532.5 702.6h0M535.1 702.6h0M519.5 700.2h0M524.7 700.2h0M527.3 700.2h0M520.8 697.9h0M526 697.9h0M531.2 697.9h0M531.2 695.5h0M519.5 693.2h0M522.1 693.2h0M524.7 693.2h0M527.3 693.2h0M529.9 693.2h0M532.5 693.2h0M522.1 690.8h0M527.3 690.8h0M529.9 690.8h0M526 688.5h0M528.6 688.5h0M524.7 686.1h0M526 683.8h0" stroke="#1a1a1a" stroke-width="1.4" stroke-linecap="square" fill="none"/><line x1="518.4" y1="700.6" x2="533.6" y2="700.6" stroke="#111" stroke-width="1.1" stroke-dasharray="1.6 0.6"/>
<path d="M556.1 709.8C555.5 709.2 553.9 707.7 552.5 706.5C551.1 705.2 549.1 704.4 548 702.5C546.9 700.6 546.1 697.4 546.1 695C546.1 692.5 547.4 690 547.8 687.7C548.2 685.4 548.3 683 548.5 681.1C548.7 679.1 548.6 677.5 549.1 676C549.6 674.5 550.7 673.5 551.5 672.3C552.3 671 553.1 670.2 553.7 668.3C554.3 666.4 554.9 664.5 555.3 660.8C555.6 657 555.6 653.9 555.8 645.8C555.9 637.6 556 617.4 556.2 611.8C556.4 606.1 556.6 606.1 556.8 611.8C557 617.4 557.1 637.6 557.2 645.8C557.4 653.9 557.4 657 557.7 660.8C558.1 664.5 558.7 666.4 559.3 668.3C559.9 670.2 560.7 671 561.5 672.3C562.3 673.5 563.4 674.5 563.9 676C564.4 677.5 564.3 679.1 564.5 681.1C564.7 683 564.8 685.4 565.2 687.7C565.6 690 566.9 692.5 566.9 695C566.9 697.4 566.1 700.6 565 702.5C563.9 704.4 561.9 705.2 560.5 706.5C559.1 707.7 557.5 709.2 556.9 709.8Z" fill="#fdebd9"/><path d="M553.9 707.4h0M551.3 705.1h0M556.5 705.1h0M559.1 705.1h0M561.7 705.1h0M548.7 702.7h0M551.3 702.7h0M556.5 702.7h0M548.7 700.4h0M551.3 700.4h0M553.9 700.4h0M559.1 700.4h0M550 698h0M555.2 698h0M557.8 698h0M560.4 698h0M565.6 698h0M550 695.7h0M552.6 695.7h0M555.2 695.7h0M557.8 695.7h0M560.4 695.7h0M563 695.7h0M565.6 695.7h0M550 693.3h0M552.6 693.3h0M557.8 693.3h0M560.4 693.3h0M563 693.3h0M565.6 693.3h0M550 691h0M552.6 691h0M555.2 691h0M560.4 691h0M563 691h0M548.7 688.6h0M556.5 688.6h0M561.7 688.6h0M564.3 688.6h0M548.7 686.3h0M553.9 686.3h0M556.5 686.3h0M548.7 683.9h0M551.3 683.9h0M556.5 683.9h0M559.1 683.9h0M561.7 683.9h0M564.3 683.9h0M548.7 681.6h0M556.5 681.6h0M559.1 681.6h0M561.7 681.6h0M564.3 681.6h0M550 679.2h0M557.8 679.2h0M550 676.9h0M552.6 676.9h0M557.8 676.9h0M560.4 676.9h0M563 676.9h0M551.3 674.5h0M556.5 674.5h0M559.1 674.5h0M552.6 672.2h0M555.2 672.2h0M557.8 672.2h0M560.4 672.2h0M553.9 669.8h0M556.5 669.8h0M559.1 669.8h0M556.5 667.5h0M555.2 665.1h0M556.5 660.4h0M556.5 646.3h0M556.5 644h0M556.5 641.6h0M556.5 634.6h0M556.5 625.2h0M556.5 620.5h0M556.5 615.8h0" stroke="#f2a654" stroke-width="1.4" stroke-linecap="square" fill="none"/><line x1="547.5" y1="687.7" x2="565.5" y2="687.7" stroke="#111" stroke-width="1.1" stroke-dasharray="1.6 0.6"/>
<path d="M586.6 707.3C586.2 707 584.9 706 584 705.4C583.1 704.7 582.2 704.3 581.3 703.4C580.4 702.5 579 700.9 578.4 699.8C577.8 698.7 577.5 697.7 577.5 696.8C577.5 695.8 578.1 694.8 578.6 693.9C579.1 692.9 579.5 692.4 580.4 691C581.3 689.6 583.4 686.9 584.2 685.5C585 684.1 585.2 683.7 585.1 682.6C585 681.6 583.8 680.3 583.4 679.3C583 678.4 582.8 677.9 582.8 676.9C582.8 675.9 582.9 674.2 583.4 673.1C583.9 672 585 671.5 585.5 670.3C586 669 586 667.4 586.2 665.6C586.4 663.9 586.4 660.9 586.6 659.9C586.8 658.9 587.2 658.9 587.4 659.9C587.6 660.9 587.6 663.9 587.8 665.6C588 667.4 588 669 588.5 670.3C589 671.5 590.1 672 590.6 673.1C591.1 674.2 591.2 675.9 591.2 676.9C591.2 677.9 591 678.4 590.6 679.3C590.2 680.3 589 681.6 588.9 682.6C588.8 683.7 589 684.1 589.8 685.5C590.6 686.9 592.7 689.6 593.6 691C594.5 692.4 594.9 692.9 595.4 693.9C595.9 694.8 596.5 695.8 596.5 696.8C596.5 697.7 596.2 698.7 595.6 699.8C595 700.9 593.6 702.5 592.7 703.4C591.8 704.3 590.9 704.7 590 705.4C589.1 706 587.8 707 587.4 707.3Z" fill="#d6e4f7"/><path d="M584.4 705h0M589.6 705h0M581.8 702.6h0M584.4 702.6h0M587 702.6h0M589.6 702.6h0M592.2 702.6h0M579.2 700.3h0M581.8 700.3h0M584.4 700.3h0M587 700.3h0M589.6 700.3h0M592.2 700.3h0M594.8 700.3h0M577.9 697.9h0M580.5 697.9h0M583.1 697.9h0M585.7 697.9h0M588.3 697.9h0M590.9 697.9h0M593.5 697.9h0M596.1 697.9h0M581.8 695.6h0M584.4 695.6h0M587 695.6h0M589.6 695.6h0M592.2 695.6h0M579.2 693.2h0M581.8 693.2h0M584.4 693.2h0M587 693.2h0M589.6 693.2h0M592.2 693.2h0M594.8 693.2h0M585.7 690.9h0M590.9 690.9h0M593.5 690.9h0M583.1 688.5h0M585.7 688.5h0M588.3 688.5h0M587 686.2h0M589.6 686.2h0M588.3 683.8h0M585.7 681.5h0M588.3 681.5h0M584.4 679.1h0M587 679.1h0M589.6 679.1h0M585.7 676.8h0M588.3 676.8h0M590.9 676.8h0M584.4 674.4h0M589.6 674.4h0M589.6 672.1h0M585.7 669.7h0M587 667.4h0M587 665h0M587 662.7h0" stroke="#86abe6" stroke-width="1.4" stroke-linecap="square" fill="none"/><line x1="577.3" y1="696.4" x2="596.7" y2="696.4" stroke="#111" stroke-width="1.1" stroke-dasharray="1.6 0.6"/>
<path d="M617.1 710C616.7 709.6 615.6 708.3 614.9 707.6C614.2 706.8 613.9 706.8 612.8 705.4C611.7 703.9 609.2 700.5 608.4 698.7C607.6 697 607.8 696.6 608 695C608.2 693.4 608.9 691.5 609.5 689.2C610.1 687 611 683.8 611.5 681.5C612 679.3 612.3 677.5 612.8 675.8C613.3 674.1 614 672.7 614.5 671.1C615 669.6 615.6 668.5 615.9 666.5C616.2 664.5 616.1 661.3 616.1 659C616.1 656.7 615.2 653.9 615.7 652.8C616.2 651.8 618.8 651.8 619.3 652.8C619.8 653.9 618.9 656.7 618.9 659C618.9 661.3 618.8 664.5 619.1 666.5C619.4 668.5 620 669.6 620.5 671.1C621 672.7 621.7 674.1 622.2 675.8C622.7 677.5 623 679.3 623.5 681.5C624 683.8 624.9 687 625.5 689.2C626.1 691.5 626.8 693.4 627 695C627.2 696.6 627.4 697 626.6 698.7C625.8 700.5 623.3 703.9 622.2 705.4C621.1 706.8 620.8 706.8 620.1 707.6C619.4 708.3 618.3 709.6 617.9 710Z" fill="#fce6ef"/><path d="M617.5 710h0M616.2 707.6h0M618.8 707.6h0M613.6 705.3h0M616.2 705.3h0M618.8 705.3h0M621.4 705.3h0M617.5 702.9h0M620.1 702.9h0M622.7 702.9h0M614.9 700.6h0M617.5 700.6h0M620.1 700.6h0M625.3 700.6h0M608.4 698.2h0M611 698.2h0M613.6 698.2h0M616.2 698.2h0M621.4 698.2h0M626.6 698.2h0M608.4 695.9h0M611 695.9h0M613.6 695.9h0M616.2 695.9h0M618.8 695.9h0M621.4 695.9h0M626.6 695.9h0M608.4 693.5h0M611 693.5h0M613.6 693.5h0M621.4 693.5h0M624 693.5h0M609.7 691.2h0M612.3 691.2h0M614.9 691.2h0M617.5 691.2h0M620.1 691.2h0M625.3 691.2h0M609.7 688.8h0M614.9 688.8h0M617.5 688.8h0M622.7 688.8h0M611 686.5h0M613.6 686.5h0M616.2 686.5h0M624 686.5h0M611 684.1h0M613.6 684.1h0M616.2 684.1h0M618.8 684.1h0M621.4 684.1h0M624 684.1h0M614.9 681.8h0M617.5 681.8h0M612.3 679.4h0M614.9 679.4h0M613.6 677.1h0M616.2 677.1h0M621.4 677.1h0M613.6 674.7h0M618.8 674.7h0M621.4 674.7h0M614.9 672.4h0M620.1 672.4h0M614.9 670h0M617.5 670h0M620.1 670h0M616.2 667.7h0M618.8 667.7h0M616.2 665.3h0M618.8 665.3h0M616.2 663h0M618.8 663h0M616.2 660.6h0M618.8 658.3h0M616.2 655.9h0M618.8 655.9h0M616.2 653.6h0M618.8 653.6h0" stroke="#ea4690" stroke-width="1.4" stroke-linecap="square" fill="none"/><line x1="608.7" y1="691.1" x2="626.3" y2="691.1" stroke="#111" stroke-width="1.1" stroke-dasharray="1.6 0.6"/>
<line x1="505.4" y1="585.8" x2="505.4" y2="719.1" stroke="#444" stroke-width="1"/>
<line x1="504.9" y1="718.6" x2="638" y2="718.6" stroke="#444" stroke-width="1"/>
<line x1="500.6" y1="718.6" x2="505.4" y2="718.6" stroke="#444" stroke-width="1"/>
<text x="499.4" y="722.2" font-size="10" text-anchor="end">0</text>
<line x1="500.6" y1="674.5" x2="505.4" y2="674.5" stroke="#444" stroke-width="1"/>
<text x="499.4" y="678.1" font-size="10" text-anchor="end">200</text>
<line x1="500.6" y1="630.3" x2="505.4" y2="630.3" stroke="#444" stroke-width="1"/>
<text x="499.4" y="633.9" font-size="10" text-anchor="end">400</text>
<line x1="500.6" y1="586.2" x2="505.4" y2="586.2" stroke="#444" stroke-width="1"/>
<text x="499.4" y="589.8" font-size="10" text-anchor="end">600</text>
<line x1="526.2" y1="718.6" x2="526.2" y2="723.6" stroke="#444" stroke-width="1"/>
<text x="526.2" y="734.9" font-size="10" text-anchor="middle">CT</text>
<line x1="556.4" y1="718.6" x2="556.4" y2="723.6" stroke="#444" stroke-width="1"/>
<text x="556.4" y="734.9" font-size="10" text-anchor="middle">IL2</text>
<line x1="586.6" y1="718.6" x2="586.6" y2="723.6" stroke="#444" stroke-width="1"/>
<text x="586.6" y="734.9" font-size="10" text-anchor="middle">Ttz</text>
<line x1="617.2" y1="718.6" x2="617.2" y2="723.6" stroke="#444" stroke-width="1"/>
<text x="617.2" y="734.9" font-size="10" text-anchor="middle">IL2+Ttz</text>
<line x1="526" y1="559.4" x2="617.8" y2="559.4" stroke="#666" stroke-width="1"/>
<text x="571.6" y="559.1" font-size="12.5" text-anchor="middle" font-weight="bold">****</text>
<line x1="526" y1="573.9" x2="586.6" y2="573.9" stroke="#666" stroke-width="1"/>
<text x="556.2" y="573.6" font-size="12.5" text-anchor="middle" font-weight="bold">*</text>
<line x1="526" y1="588.7" x2="556.4" y2="588.7" stroke="#666" stroke-width="1"/>
<text x="541.3" y="588.4" font-size="12.5" text-anchor="middle" font-weight="bold">****</text>
<text transform="translate(472.6 652) rotate(-90)" font-size="12.6" text-anchor="middle">Max. spreading area (µm<tspan font-size="8" dy="-4.2">2</tspan><tspan dy="4.2">)</tspan></text>
</g>
</svg>
</body></html>
